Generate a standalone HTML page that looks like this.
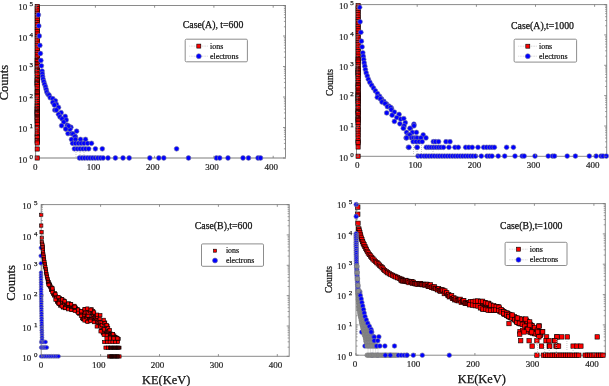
<!DOCTYPE html><html><head><meta charset="utf-8"><style>html,body{margin:0;padding:0;background:#fff;width:609px;height:386px;overflow:hidden}svg{display:block;will-change:transform}</style></head><body>
<svg width="609" height="386" viewBox="0 0 609 386" font-family='"Liberation Serif", serif'>
<rect width="609" height="386" fill="#fff"/>
<rect x="35.6" y="5.5" width="249.9" height="152.5" fill="none" stroke="#8a8a8a" stroke-width="1.0"/>
<clipPath id="cTL"><rect x="32.6" y="2.5" width="255.9" height="158.5"/></clipPath>
<g clip-path="url(#cTL)">
<line x1="35.6" y1="158" x2="285.5" y2="158" stroke="#bdbdbd" stroke-width="2"/>
<rect x="35.1" y="4.3" width="4.2" height="4.2" fill="#f00" stroke="#000" stroke-width="0.6"/>
<rect x="35.1" y="6.6" width="4.2" height="4.2" fill="#f00" stroke="#000" stroke-width="0.6"/>
<rect x="35.1" y="8.9" width="4.2" height="4.2" fill="#f00" stroke="#000" stroke-width="0.6"/>
<rect x="35.1" y="11.2" width="4.2" height="4.2" fill="#f00" stroke="#000" stroke-width="0.6"/>
<rect x="35.1" y="13.5" width="4.2" height="4.2" fill="#f00" stroke="#000" stroke-width="0.6"/>
<rect x="35.1" y="15.8" width="4.2" height="4.2" fill="#f00" stroke="#000" stroke-width="0.6"/>
<rect x="35.1" y="18.1" width="4.2" height="4.2" fill="#f00" stroke="#000" stroke-width="0.6"/>
<rect x="35.1" y="20.4" width="4.2" height="4.2" fill="#f00" stroke="#000" stroke-width="0.6"/>
<rect x="35.1" y="22.7" width="4.2" height="4.2" fill="#f00" stroke="#000" stroke-width="0.6"/>
<rect x="35.1" y="25.0" width="4.2" height="4.2" fill="#f00" stroke="#000" stroke-width="0.6"/>
<rect x="35.1" y="27.3" width="4.2" height="4.2" fill="#f00" stroke="#000" stroke-width="0.6"/>
<rect x="35.1" y="29.6" width="4.2" height="4.2" fill="#f00" stroke="#000" stroke-width="0.6"/>
<rect x="35.1" y="31.9" width="4.2" height="4.2" fill="#f00" stroke="#000" stroke-width="0.6"/>
<rect x="35.1" y="34.2" width="4.2" height="4.2" fill="#f00" stroke="#000" stroke-width="0.6"/>
<rect x="35.1" y="36.5" width="4.2" height="4.2" fill="#f00" stroke="#000" stroke-width="0.6"/>
<rect x="35.1" y="38.8" width="4.2" height="4.2" fill="#f00" stroke="#000" stroke-width="0.6"/>
<rect x="35.1" y="41.1" width="4.2" height="4.2" fill="#f00" stroke="#000" stroke-width="0.6"/>
<rect x="35.1" y="43.4" width="4.2" height="4.2" fill="#f00" stroke="#000" stroke-width="0.6"/>
<rect x="35.1" y="45.7" width="4.2" height="4.2" fill="#f00" stroke="#000" stroke-width="0.6"/>
<rect x="35.1" y="48.0" width="4.2" height="4.2" fill="#f00" stroke="#000" stroke-width="0.6"/>
<rect x="35.1" y="50.3" width="4.2" height="4.2" fill="#f00" stroke="#000" stroke-width="0.6"/>
<rect x="35.1" y="52.6" width="4.2" height="4.2" fill="#f00" stroke="#000" stroke-width="0.6"/>
<rect x="35.1" y="54.9" width="4.2" height="4.2" fill="#f00" stroke="#000" stroke-width="0.6"/>
<rect x="35.1" y="57.2" width="4.2" height="4.2" fill="#f00" stroke="#000" stroke-width="0.6"/>
<rect x="35.1" y="58.3" width="4.2" height="4.2" fill="#f00" stroke="#000" stroke-width="0.6"/>
<rect x="35.1" y="59.7" width="4.2" height="4.2" fill="#f00" stroke="#000" stroke-width="0.6"/>
<rect x="35.1" y="61.5" width="4.2" height="4.2" fill="#f00" stroke="#000" stroke-width="0.6"/>
<rect x="35.1" y="62.9" width="4.2" height="4.2" fill="#f00" stroke="#000" stroke-width="0.6"/>
<rect x="35.1" y="64.3" width="4.2" height="4.2" fill="#f00" stroke="#000" stroke-width="0.6"/>
<rect x="35.1" y="66.1" width="4.2" height="4.2" fill="#f00" stroke="#000" stroke-width="0.6"/>
<rect x="35.1" y="67.9" width="4.2" height="4.2" fill="#f00" stroke="#000" stroke-width="0.6"/>
<rect x="35.1" y="68.8" width="4.2" height="4.2" fill="#f00" stroke="#000" stroke-width="0.6"/>
<rect x="35.1" y="69.7" width="4.2" height="4.2" fill="#f00" stroke="#000" stroke-width="0.6"/>
<rect x="35.1" y="71.5" width="4.2" height="4.2" fill="#f00" stroke="#000" stroke-width="0.6"/>
<rect x="35.1" y="72.9" width="4.2" height="4.2" fill="#f00" stroke="#000" stroke-width="0.6"/>
<rect x="35.1" y="75.3" width="4.2" height="4.2" fill="#f00" stroke="#000" stroke-width="0.6"/>
<rect x="35.1" y="77.1" width="4.2" height="4.2" fill="#f00" stroke="#000" stroke-width="0.6"/>
<rect x="35.1" y="78.0" width="4.2" height="4.2" fill="#f00" stroke="#000" stroke-width="0.6"/>
<rect x="35.1" y="78.7" width="4.2" height="4.2" fill="#f00" stroke="#000" stroke-width="0.6"/>
<rect x="35.1" y="80.1" width="4.2" height="4.2" fill="#f00" stroke="#000" stroke-width="0.6"/>
<rect x="35.1" y="81.2" width="4.2" height="4.2" fill="#f00" stroke="#000" stroke-width="0.6"/>
<rect x="35.1" y="82.1" width="4.2" height="4.2" fill="#f00" stroke="#000" stroke-width="0.6"/>
<rect x="35.1" y="82.8" width="4.2" height="4.2" fill="#f00" stroke="#000" stroke-width="0.6"/>
<rect x="35.1" y="84.6" width="4.2" height="4.2" fill="#f00" stroke="#000" stroke-width="0.6"/>
<rect x="35.1" y="87.0" width="4.2" height="4.2" fill="#f00" stroke="#000" stroke-width="0.6"/>
<rect x="35.1" y="89.4" width="4.2" height="4.2" fill="#f00" stroke="#000" stroke-width="0.6"/>
<rect x="35.1" y="90.1" width="4.2" height="4.2" fill="#f00" stroke="#000" stroke-width="0.6"/>
<rect x="35.1" y="91.9" width="4.2" height="4.2" fill="#f00" stroke="#000" stroke-width="0.6"/>
<rect x="35.1" y="93.3" width="4.2" height="4.2" fill="#f00" stroke="#000" stroke-width="0.6"/>
<rect x="35.1" y="94.7" width="4.2" height="4.2" fill="#f00" stroke="#000" stroke-width="0.6"/>
<rect x="35.1" y="97.1" width="4.2" height="4.2" fill="#f00" stroke="#000" stroke-width="0.6"/>
<rect x="35.1" y="99.5" width="4.2" height="4.2" fill="#f00" stroke="#000" stroke-width="0.6"/>
<rect x="35.1" y="101.3" width="4.2" height="4.2" fill="#f00" stroke="#000" stroke-width="0.6"/>
<rect x="35.1" y="103.7" width="4.2" height="4.2" fill="#f00" stroke="#000" stroke-width="0.6"/>
<rect x="35.1" y="104.6" width="4.2" height="4.2" fill="#f00" stroke="#000" stroke-width="0.6"/>
<rect x="35.1" y="106.4" width="4.2" height="4.2" fill="#f00" stroke="#000" stroke-width="0.6"/>
<rect x="35.1" y="107.1" width="4.2" height="4.2" fill="#f00" stroke="#000" stroke-width="0.6"/>
<rect x="35.1" y="108.9" width="4.2" height="4.2" fill="#f00" stroke="#000" stroke-width="0.6"/>
<rect x="35.1" y="109.6" width="4.2" height="4.2" fill="#f00" stroke="#000" stroke-width="0.6"/>
<rect x="35.1" y="110.3" width="4.2" height="4.2" fill="#f00" stroke="#000" stroke-width="0.6"/>
<rect x="35.1" y="111.0" width="4.2" height="4.2" fill="#f00" stroke="#000" stroke-width="0.6"/>
<rect x="35.1" y="111.9" width="4.2" height="4.2" fill="#f00" stroke="#000" stroke-width="0.6"/>
<rect x="35.1" y="112.8" width="4.2" height="4.2" fill="#f00" stroke="#000" stroke-width="0.6"/>
<rect x="35.1" y="114.6" width="4.2" height="4.2" fill="#f00" stroke="#000" stroke-width="0.6"/>
<rect x="35.1" y="115.3" width="4.2" height="4.2" fill="#f00" stroke="#000" stroke-width="0.6"/>
<rect x="35.1" y="116.7" width="4.2" height="4.2" fill="#f00" stroke="#000" stroke-width="0.6"/>
<rect x="35.1" y="117.8" width="4.2" height="4.2" fill="#f00" stroke="#000" stroke-width="0.6"/>
<rect x="35.1" y="119.2" width="4.2" height="4.2" fill="#f00" stroke="#000" stroke-width="0.6"/>
<rect x="35.1" y="121.0" width="4.2" height="4.2" fill="#f00" stroke="#000" stroke-width="0.6"/>
<rect x="35.1" y="122.6" width="4.2" height="4.2" fill="#f00" stroke="#000" stroke-width="0.6"/>
<rect x="35.1" y="125.4" width="4.2" height="4.2" fill="#f00" stroke="#000" stroke-width="0.6"/>
<rect x="35.1" y="127.0" width="4.2" height="4.2" fill="#f00" stroke="#000" stroke-width="0.6"/>
<rect x="35.1" y="130.0" width="4.2" height="4.2" fill="#f00" stroke="#000" stroke-width="0.6"/>
<rect x="35.1" y="132.0" width="4.2" height="4.2" fill="#f00" stroke="#000" stroke-width="0.6"/>
<rect x="35.1" y="134.4" width="4.2" height="4.2" fill="#f00" stroke="#000" stroke-width="0.6"/>
<rect x="35.1" y="135.6" width="4.2" height="4.2" fill="#f00" stroke="#000" stroke-width="0.6"/>
<rect x="35.1" y="138.6" width="4.2" height="4.2" fill="#f00" stroke="#000" stroke-width="0.6"/>
<rect x="35.1" y="139.8" width="4.2" height="4.2" fill="#f00" stroke="#000" stroke-width="0.6"/>
<rect x="35.1" y="140.9" width="4.2" height="4.2" fill="#f00" stroke="#000" stroke-width="0.6"/>
<rect x="35.1" y="146.9" width="4.2" height="4.2" fill="#f00" stroke="#000" stroke-width="0.6"/>
<rect x="35.1" y="155.9" width="4.2" height="4.2" fill="#f00" stroke="#000" stroke-width="0.6"/>
<line x1="76" y1="144" x2="76" y2="157" stroke="#bbb" stroke-width="0.8" stroke-dasharray="1,1"/>
<line x1="80" y1="144" x2="80" y2="157" stroke="#bbb" stroke-width="0.8" stroke-dasharray="1,1"/>
<line x1="84" y1="144" x2="84" y2="157" stroke="#bbb" stroke-width="0.8" stroke-dasharray="1,1"/>
<circle cx="38.4" cy="14.9" r="2.4" fill="#00f" stroke="#7878a0" stroke-width="0.6"/>
<circle cx="38.8" cy="25.9" r="2.4" fill="#00f" stroke="#7878a0" stroke-width="0.6"/>
<circle cx="39.3" cy="36.0" r="2.4" fill="#00f" stroke="#7878a0" stroke-width="0.6"/>
<circle cx="39.9" cy="45.4" r="2.4" fill="#00f" stroke="#7878a0" stroke-width="0.6"/>
<circle cx="40.4" cy="53.5" r="2.4" fill="#00f" stroke="#7878a0" stroke-width="0.6"/>
<circle cx="40.9" cy="60.5" r="2.4" fill="#00f" stroke="#7878a0" stroke-width="0.6"/>
<circle cx="41.4" cy="65.8" r="2.4" fill="#00f" stroke="#7878a0" stroke-width="0.6"/>
<circle cx="42.1" cy="71.1" r="2.4" fill="#00f" stroke="#7878a0" stroke-width="0.6"/>
<circle cx="42.3" cy="73.8" r="2.4" fill="#00f" stroke="#7878a0" stroke-width="0.6"/>
<circle cx="42.6" cy="76.5" r="2.4" fill="#00f" stroke="#7878a0" stroke-width="0.6"/>
<circle cx="43.1" cy="79.1" r="2.4" fill="#00f" stroke="#7878a0" stroke-width="0.6"/>
<circle cx="43.8" cy="81.7" r="2.4" fill="#00f" stroke="#7878a0" stroke-width="0.6"/>
<circle cx="44.6" cy="84.3" r="2.4" fill="#00f" stroke="#7878a0" stroke-width="0.6"/>
<circle cx="45.5" cy="86.9" r="2.4" fill="#00f" stroke="#7878a0" stroke-width="0.6"/>
<circle cx="46.2" cy="89.5" r="2.4" fill="#00f" stroke="#7878a0" stroke-width="0.6"/>
<circle cx="46.8" cy="92.1" r="2.4" fill="#00f" stroke="#7878a0" stroke-width="0.6"/>
<circle cx="48.0" cy="94.3" r="2.4" fill="#00f" stroke="#7878a0" stroke-width="0.6"/>
<circle cx="49.1" cy="95.1" r="2.4" fill="#00f" stroke="#7878a0" stroke-width="0.6"/>
<circle cx="50.2" cy="97.7" r="2.4" fill="#00f" stroke="#7878a0" stroke-width="0.6"/>
<circle cx="52.8" cy="98.7" r="2.4" fill="#00f" stroke="#7878a0" stroke-width="0.6"/>
<circle cx="55.4" cy="100.8" r="2.4" fill="#00f" stroke="#7878a0" stroke-width="0.6"/>
<circle cx="52.8" cy="102.4" r="2.4" fill="#00f" stroke="#7878a0" stroke-width="0.6"/>
<circle cx="56.4" cy="104.4" r="2.4" fill="#00f" stroke="#7878a0" stroke-width="0.6"/>
<circle cx="54.3" cy="105.0" r="2.4" fill="#00f" stroke="#7878a0" stroke-width="0.6"/>
<circle cx="58.5" cy="107.5" r="2.4" fill="#00f" stroke="#7878a0" stroke-width="0.6"/>
<circle cx="54.8" cy="110.1" r="2.4" fill="#00f" stroke="#7878a0" stroke-width="0.6"/>
<circle cx="56.4" cy="110.1" r="2.4" fill="#00f" stroke="#7878a0" stroke-width="0.6"/>
<circle cx="61.1" cy="112.7" r="2.4" fill="#00f" stroke="#7878a0" stroke-width="0.6"/>
<circle cx="58.5" cy="114.3" r="2.4" fill="#00f" stroke="#7878a0" stroke-width="0.6"/>
<circle cx="60.0" cy="116.9" r="2.4" fill="#00f" stroke="#7878a0" stroke-width="0.6"/>
<circle cx="65.2" cy="116.4" r="2.4" fill="#00f" stroke="#7878a0" stroke-width="0.6"/>
<circle cx="62.1" cy="118.9" r="2.4" fill="#00f" stroke="#7878a0" stroke-width="0.6"/>
<circle cx="66.2" cy="120.0" r="2.4" fill="#00f" stroke="#7878a0" stroke-width="0.6"/>
<circle cx="63.7" cy="122.1" r="2.4" fill="#00f" stroke="#7878a0" stroke-width="0.6"/>
<circle cx="61.6" cy="125.7" r="2.4" fill="#00f" stroke="#7878a0" stroke-width="0.6"/>
<circle cx="67.3" cy="125.2" r="2.4" fill="#00f" stroke="#7878a0" stroke-width="0.6"/>
<circle cx="70.9" cy="127.2" r="2.4" fill="#00f" stroke="#7878a0" stroke-width="0.6"/>
<circle cx="66.2" cy="128.8" r="2.4" fill="#00f" stroke="#7878a0" stroke-width="0.6"/>
<circle cx="69.9" cy="129.3" r="2.4" fill="#00f" stroke="#7878a0" stroke-width="0.6"/>
<circle cx="76.6" cy="131.2" r="2.4" fill="#00f" stroke="#7878a0" stroke-width="0.6"/>
<circle cx="68.6" cy="126.1" r="2.4" fill="#00f" stroke="#7878a0" stroke-width="0.6"/>
<circle cx="65.7" cy="129.0" r="2.4" fill="#00f" stroke="#7878a0" stroke-width="0.6"/>
<circle cx="68.0" cy="133.6" r="2.4" fill="#00f" stroke="#7878a0" stroke-width="0.6"/>
<circle cx="71.5" cy="133.6" r="2.4" fill="#00f" stroke="#7878a0" stroke-width="0.6"/>
<circle cx="73.0" cy="133.9" r="2.4" fill="#00f" stroke="#7878a0" stroke-width="0.6"/>
<circle cx="75.3" cy="136.7" r="2.4" fill="#00f" stroke="#7878a0" stroke-width="0.6"/>
<circle cx="75.0" cy="136.5" r="2.4" fill="#00f" stroke="#7878a0" stroke-width="0.6"/>
<circle cx="71.5" cy="139.4" r="2.4" fill="#00f" stroke="#7878a0" stroke-width="0.6"/>
<circle cx="75.5" cy="139.4" r="2.4" fill="#00f" stroke="#7878a0" stroke-width="0.6"/>
<circle cx="80.5" cy="139.4" r="2.4" fill="#00f" stroke="#7878a0" stroke-width="0.6"/>
<circle cx="85.5" cy="139.4" r="2.4" fill="#00f" stroke="#7878a0" stroke-width="0.6"/>
<circle cx="72.6" cy="143.3" r="2.4" fill="#00f" stroke="#7878a0" stroke-width="0.6"/>
<circle cx="75.5" cy="143.3" r="2.4" fill="#00f" stroke="#7878a0" stroke-width="0.6"/>
<circle cx="78.4" cy="143.3" r="2.4" fill="#00f" stroke="#7878a0" stroke-width="0.6"/>
<circle cx="81.2" cy="143.3" r="2.4" fill="#00f" stroke="#7878a0" stroke-width="0.6"/>
<circle cx="84.1" cy="143.3" r="2.4" fill="#00f" stroke="#7878a0" stroke-width="0.6"/>
<circle cx="87.6" cy="143.3" r="2.4" fill="#00f" stroke="#7878a0" stroke-width="0.6"/>
<circle cx="91.5" cy="143.3" r="2.4" fill="#00f" stroke="#7878a0" stroke-width="0.6"/>
<circle cx="74.4" cy="148.8" r="2.4" fill="#00f" stroke="#7878a0" stroke-width="0.6"/>
<circle cx="77.3" cy="148.8" r="2.4" fill="#00f" stroke="#7878a0" stroke-width="0.6"/>
<circle cx="80.1" cy="148.8" r="2.4" fill="#00f" stroke="#7878a0" stroke-width="0.6"/>
<circle cx="83.0" cy="148.8" r="2.4" fill="#00f" stroke="#7878a0" stroke-width="0.6"/>
<circle cx="85.8" cy="148.8" r="2.4" fill="#00f" stroke="#7878a0" stroke-width="0.6"/>
<circle cx="88.7" cy="148.8" r="2.4" fill="#00f" stroke="#7878a0" stroke-width="0.6"/>
<circle cx="95.4" cy="148.8" r="2.4" fill="#00f" stroke="#7878a0" stroke-width="0.6"/>
<circle cx="102.3" cy="148.8" r="2.4" fill="#00f" stroke="#7878a0" stroke-width="0.6"/>
<circle cx="176.6" cy="148.8" r="2.4" fill="#00f" stroke="#7878a0" stroke-width="0.6"/>
<circle cx="79.5" cy="158.0" r="2.4" fill="#00f" stroke="#7878a0" stroke-width="0.6"/>
<circle cx="82.1" cy="158.0" r="2.4" fill="#00f" stroke="#7878a0" stroke-width="0.6"/>
<circle cx="84.7" cy="158.0" r="2.4" fill="#00f" stroke="#7878a0" stroke-width="0.6"/>
<circle cx="87.4" cy="158.0" r="2.4" fill="#00f" stroke="#7878a0" stroke-width="0.6"/>
<circle cx="90.0" cy="158.0" r="2.4" fill="#00f" stroke="#7878a0" stroke-width="0.6"/>
<circle cx="92.6" cy="158.0" r="2.4" fill="#00f" stroke="#7878a0" stroke-width="0.6"/>
<circle cx="95.2" cy="158.0" r="2.4" fill="#00f" stroke="#7878a0" stroke-width="0.6"/>
<circle cx="97.9" cy="158.0" r="2.4" fill="#00f" stroke="#7878a0" stroke-width="0.6"/>
<circle cx="100.5" cy="158.0" r="2.4" fill="#00f" stroke="#7878a0" stroke-width="0.6"/>
<circle cx="103.1" cy="158.0" r="2.4" fill="#00f" stroke="#7878a0" stroke-width="0.6"/>
<circle cx="108.0" cy="158.0" r="2.4" fill="#00f" stroke="#7878a0" stroke-width="0.6"/>
<circle cx="115.4" cy="158.0" r="2.4" fill="#00f" stroke="#7878a0" stroke-width="0.6"/>
<circle cx="123.0" cy="158.0" r="2.4" fill="#00f" stroke="#7878a0" stroke-width="0.6"/>
<circle cx="129.2" cy="158.0" r="2.4" fill="#00f" stroke="#7878a0" stroke-width="0.6"/>
<circle cx="149.8" cy="158.0" r="2.4" fill="#00f" stroke="#7878a0" stroke-width="0.6"/>
<circle cx="158.8" cy="158.0" r="2.4" fill="#00f" stroke="#7878a0" stroke-width="0.6"/>
<circle cx="163.8" cy="158.0" r="2.4" fill="#00f" stroke="#7878a0" stroke-width="0.6"/>
<circle cx="188.5" cy="158.0" r="2.4" fill="#00f" stroke="#7878a0" stroke-width="0.6"/>
<circle cx="216.4" cy="158.0" r="2.4" fill="#00f" stroke="#7878a0" stroke-width="0.6"/>
<circle cx="219.7" cy="158.0" r="2.4" fill="#00f" stroke="#7878a0" stroke-width="0.6"/>
<circle cx="228.0" cy="158.0" r="2.4" fill="#00f" stroke="#7878a0" stroke-width="0.6"/>
<circle cx="243.0" cy="158.0" r="2.4" fill="#00f" stroke="#7878a0" stroke-width="0.6"/>
<circle cx="248.5" cy="158.0" r="2.4" fill="#00f" stroke="#7878a0" stroke-width="0.6"/>
<circle cx="258.0" cy="158.0" r="2.4" fill="#00f" stroke="#7878a0" stroke-width="0.6"/>
<circle cx="260.5" cy="158.0" r="2.4" fill="#00f" stroke="#7878a0" stroke-width="0.6"/>
</g>
<line x1="36.1" y1="158" x2="36.1" y2="155.8" stroke="#777" stroke-width="0.8"/>
<line x1="36.1" y1="5.5" x2="36.1" y2="7.7" stroke="#777" stroke-width="0.8"/>
<text x="35.3" y="170.0" font-size="9" text-anchor="middle" fill="#222" stroke="#222" stroke-width="0.2">0</text>
<line x1="95.4" y1="158" x2="95.4" y2="155.8" stroke="#777" stroke-width="0.8"/>
<line x1="95.4" y1="5.5" x2="95.4" y2="7.7" stroke="#777" stroke-width="0.8"/>
<text x="93.5" y="170.0" font-size="9" text-anchor="middle" fill="#222" stroke="#222" stroke-width="0.2">100</text>
<line x1="154.6" y1="158" x2="154.6" y2="155.8" stroke="#777" stroke-width="0.8"/>
<line x1="154.6" y1="5.5" x2="154.6" y2="7.7" stroke="#777" stroke-width="0.8"/>
<text x="152.7" y="170.0" font-size="9" text-anchor="middle" fill="#222" stroke="#222" stroke-width="0.2">200</text>
<line x1="213.9" y1="158" x2="213.9" y2="155.8" stroke="#777" stroke-width="0.8"/>
<line x1="213.9" y1="5.5" x2="213.9" y2="7.7" stroke="#777" stroke-width="0.8"/>
<text x="212.0" y="170.0" font-size="9" text-anchor="middle" fill="#222" stroke="#222" stroke-width="0.2">300</text>
<line x1="273.2" y1="158" x2="273.2" y2="155.8" stroke="#777" stroke-width="0.8"/>
<line x1="273.2" y1="5.5" x2="273.2" y2="7.7" stroke="#777" stroke-width="0.8"/>
<text x="271.3" y="170.0" font-size="9" text-anchor="middle" fill="#222" stroke="#222" stroke-width="0.2">400</text>
<text x="27.2" y="162.8" font-size="9" text-anchor="end" fill="#222" stroke="#222" stroke-width="0.18">10</text>
<text x="29.4" y="158.7" font-size="7.0" fill="#222" stroke="#222" stroke-width="0.25">0</text>
<line x1="285.5" y1="148.8" x2="283.9" y2="148.8" stroke="#777" stroke-width="0.7"/>
<line x1="35.6" y1="148.8" x2="37.2" y2="148.8" stroke="#777" stroke-width="0.7"/>
<line x1="285.5" y1="143.4" x2="283.9" y2="143.4" stroke="#777" stroke-width="0.7"/>
<line x1="35.6" y1="143.4" x2="37.2" y2="143.4" stroke="#777" stroke-width="0.7"/>
<line x1="285.5" y1="139.6" x2="283.9" y2="139.6" stroke="#777" stroke-width="0.7"/>
<line x1="35.6" y1="139.6" x2="37.2" y2="139.6" stroke="#777" stroke-width="0.7"/>
<line x1="285.5" y1="136.7" x2="283.9" y2="136.7" stroke="#777" stroke-width="0.7"/>
<line x1="35.6" y1="136.7" x2="37.2" y2="136.7" stroke="#777" stroke-width="0.7"/>
<line x1="285.5" y1="134.3" x2="283.9" y2="134.3" stroke="#777" stroke-width="0.7"/>
<line x1="35.6" y1="134.3" x2="37.2" y2="134.3" stroke="#777" stroke-width="0.7"/>
<line x1="285.5" y1="132.2" x2="283.9" y2="132.2" stroke="#777" stroke-width="0.7"/>
<line x1="35.6" y1="132.2" x2="37.2" y2="132.2" stroke="#777" stroke-width="0.7"/>
<line x1="285.5" y1="130.5" x2="283.9" y2="130.5" stroke="#777" stroke-width="0.7"/>
<line x1="35.6" y1="130.5" x2="37.2" y2="130.5" stroke="#777" stroke-width="0.7"/>
<line x1="285.5" y1="128.9" x2="283.9" y2="128.9" stroke="#777" stroke-width="0.7"/>
<line x1="35.6" y1="128.9" x2="37.2" y2="128.9" stroke="#777" stroke-width="0.7"/>
<line x1="285.5" y1="158.0" x2="283.0" y2="158.0" stroke="#777" stroke-width="0.8"/>
<line x1="35.6" y1="158.0" x2="38.1" y2="158.0" stroke="#777" stroke-width="0.8"/>
<text x="27.2" y="132.3" font-size="9" text-anchor="end" fill="#222" stroke="#222" stroke-width="0.18">10</text>
<text x="29.4" y="128.2" font-size="7.0" fill="#222" stroke="#222" stroke-width="0.25">1</text>
<line x1="285.5" y1="118.3" x2="283.9" y2="118.3" stroke="#777" stroke-width="0.7"/>
<line x1="35.6" y1="118.3" x2="37.2" y2="118.3" stroke="#777" stroke-width="0.7"/>
<line x1="285.5" y1="112.9" x2="283.9" y2="112.9" stroke="#777" stroke-width="0.7"/>
<line x1="35.6" y1="112.9" x2="37.2" y2="112.9" stroke="#777" stroke-width="0.7"/>
<line x1="285.5" y1="109.1" x2="283.9" y2="109.1" stroke="#777" stroke-width="0.7"/>
<line x1="35.6" y1="109.1" x2="37.2" y2="109.1" stroke="#777" stroke-width="0.7"/>
<line x1="285.5" y1="106.2" x2="283.9" y2="106.2" stroke="#777" stroke-width="0.7"/>
<line x1="35.6" y1="106.2" x2="37.2" y2="106.2" stroke="#777" stroke-width="0.7"/>
<line x1="285.5" y1="103.8" x2="283.9" y2="103.8" stroke="#777" stroke-width="0.7"/>
<line x1="35.6" y1="103.8" x2="37.2" y2="103.8" stroke="#777" stroke-width="0.7"/>
<line x1="285.5" y1="101.7" x2="283.9" y2="101.7" stroke="#777" stroke-width="0.7"/>
<line x1="35.6" y1="101.7" x2="37.2" y2="101.7" stroke="#777" stroke-width="0.7"/>
<line x1="285.5" y1="100.0" x2="283.9" y2="100.0" stroke="#777" stroke-width="0.7"/>
<line x1="35.6" y1="100.0" x2="37.2" y2="100.0" stroke="#777" stroke-width="0.7"/>
<line x1="285.5" y1="98.4" x2="283.9" y2="98.4" stroke="#777" stroke-width="0.7"/>
<line x1="35.6" y1="98.4" x2="37.2" y2="98.4" stroke="#777" stroke-width="0.7"/>
<line x1="285.5" y1="127.5" x2="283.0" y2="127.5" stroke="#777" stroke-width="0.8"/>
<line x1="35.6" y1="127.5" x2="38.1" y2="127.5" stroke="#777" stroke-width="0.8"/>
<text x="27.2" y="101.8" font-size="9" text-anchor="end" fill="#222" stroke="#222" stroke-width="0.18">10</text>
<text x="29.4" y="97.7" font-size="7.0" fill="#222" stroke="#222" stroke-width="0.25">2</text>
<line x1="285.5" y1="87.8" x2="283.9" y2="87.8" stroke="#777" stroke-width="0.7"/>
<line x1="35.6" y1="87.8" x2="37.2" y2="87.8" stroke="#777" stroke-width="0.7"/>
<line x1="285.5" y1="82.4" x2="283.9" y2="82.4" stroke="#777" stroke-width="0.7"/>
<line x1="35.6" y1="82.4" x2="37.2" y2="82.4" stroke="#777" stroke-width="0.7"/>
<line x1="285.5" y1="78.6" x2="283.9" y2="78.6" stroke="#777" stroke-width="0.7"/>
<line x1="35.6" y1="78.6" x2="37.2" y2="78.6" stroke="#777" stroke-width="0.7"/>
<line x1="285.5" y1="75.7" x2="283.9" y2="75.7" stroke="#777" stroke-width="0.7"/>
<line x1="35.6" y1="75.7" x2="37.2" y2="75.7" stroke="#777" stroke-width="0.7"/>
<line x1="285.5" y1="73.3" x2="283.9" y2="73.3" stroke="#777" stroke-width="0.7"/>
<line x1="35.6" y1="73.3" x2="37.2" y2="73.3" stroke="#777" stroke-width="0.7"/>
<line x1="285.5" y1="71.2" x2="283.9" y2="71.2" stroke="#777" stroke-width="0.7"/>
<line x1="35.6" y1="71.2" x2="37.2" y2="71.2" stroke="#777" stroke-width="0.7"/>
<line x1="285.5" y1="69.5" x2="283.9" y2="69.5" stroke="#777" stroke-width="0.7"/>
<line x1="35.6" y1="69.5" x2="37.2" y2="69.5" stroke="#777" stroke-width="0.7"/>
<line x1="285.5" y1="67.9" x2="283.9" y2="67.9" stroke="#777" stroke-width="0.7"/>
<line x1="35.6" y1="67.9" x2="37.2" y2="67.9" stroke="#777" stroke-width="0.7"/>
<line x1="285.5" y1="97.0" x2="283.0" y2="97.0" stroke="#777" stroke-width="0.8"/>
<line x1="35.6" y1="97.0" x2="38.1" y2="97.0" stroke="#777" stroke-width="0.8"/>
<text x="27.2" y="71.3" font-size="9" text-anchor="end" fill="#222" stroke="#222" stroke-width="0.18">10</text>
<text x="29.4" y="67.2" font-size="7.0" fill="#222" stroke="#222" stroke-width="0.25">3</text>
<line x1="285.5" y1="57.3" x2="283.9" y2="57.3" stroke="#777" stroke-width="0.7"/>
<line x1="35.6" y1="57.3" x2="37.2" y2="57.3" stroke="#777" stroke-width="0.7"/>
<line x1="285.5" y1="51.9" x2="283.9" y2="51.9" stroke="#777" stroke-width="0.7"/>
<line x1="35.6" y1="51.9" x2="37.2" y2="51.9" stroke="#777" stroke-width="0.7"/>
<line x1="285.5" y1="48.1" x2="283.9" y2="48.1" stroke="#777" stroke-width="0.7"/>
<line x1="35.6" y1="48.1" x2="37.2" y2="48.1" stroke="#777" stroke-width="0.7"/>
<line x1="285.5" y1="45.2" x2="283.9" y2="45.2" stroke="#777" stroke-width="0.7"/>
<line x1="35.6" y1="45.2" x2="37.2" y2="45.2" stroke="#777" stroke-width="0.7"/>
<line x1="285.5" y1="42.8" x2="283.9" y2="42.8" stroke="#777" stroke-width="0.7"/>
<line x1="35.6" y1="42.8" x2="37.2" y2="42.8" stroke="#777" stroke-width="0.7"/>
<line x1="285.5" y1="40.7" x2="283.9" y2="40.7" stroke="#777" stroke-width="0.7"/>
<line x1="35.6" y1="40.7" x2="37.2" y2="40.7" stroke="#777" stroke-width="0.7"/>
<line x1="285.5" y1="39.0" x2="283.9" y2="39.0" stroke="#777" stroke-width="0.7"/>
<line x1="35.6" y1="39.0" x2="37.2" y2="39.0" stroke="#777" stroke-width="0.7"/>
<line x1="285.5" y1="37.4" x2="283.9" y2="37.4" stroke="#777" stroke-width="0.7"/>
<line x1="35.6" y1="37.4" x2="37.2" y2="37.4" stroke="#777" stroke-width="0.7"/>
<line x1="285.5" y1="66.5" x2="283.0" y2="66.5" stroke="#777" stroke-width="0.8"/>
<line x1="35.6" y1="66.5" x2="38.1" y2="66.5" stroke="#777" stroke-width="0.8"/>
<text x="27.2" y="40.8" font-size="9" text-anchor="end" fill="#222" stroke="#222" stroke-width="0.18">10</text>
<text x="29.4" y="36.7" font-size="7.0" fill="#222" stroke="#222" stroke-width="0.25">4</text>
<line x1="285.5" y1="26.8" x2="283.9" y2="26.8" stroke="#777" stroke-width="0.7"/>
<line x1="35.6" y1="26.8" x2="37.2" y2="26.8" stroke="#777" stroke-width="0.7"/>
<line x1="285.5" y1="21.4" x2="283.9" y2="21.4" stroke="#777" stroke-width="0.7"/>
<line x1="35.6" y1="21.4" x2="37.2" y2="21.4" stroke="#777" stroke-width="0.7"/>
<line x1="285.5" y1="17.6" x2="283.9" y2="17.6" stroke="#777" stroke-width="0.7"/>
<line x1="35.6" y1="17.6" x2="37.2" y2="17.6" stroke="#777" stroke-width="0.7"/>
<line x1="285.5" y1="14.7" x2="283.9" y2="14.7" stroke="#777" stroke-width="0.7"/>
<line x1="35.6" y1="14.7" x2="37.2" y2="14.7" stroke="#777" stroke-width="0.7"/>
<line x1="285.5" y1="12.3" x2="283.9" y2="12.3" stroke="#777" stroke-width="0.7"/>
<line x1="35.6" y1="12.3" x2="37.2" y2="12.3" stroke="#777" stroke-width="0.7"/>
<line x1="285.5" y1="10.2" x2="283.9" y2="10.2" stroke="#777" stroke-width="0.7"/>
<line x1="35.6" y1="10.2" x2="37.2" y2="10.2" stroke="#777" stroke-width="0.7"/>
<line x1="285.5" y1="8.5" x2="283.9" y2="8.5" stroke="#777" stroke-width="0.7"/>
<line x1="35.6" y1="8.5" x2="37.2" y2="8.5" stroke="#777" stroke-width="0.7"/>
<line x1="285.5" y1="6.9" x2="283.9" y2="6.9" stroke="#777" stroke-width="0.7"/>
<line x1="35.6" y1="6.9" x2="37.2" y2="6.9" stroke="#777" stroke-width="0.7"/>
<line x1="285.5" y1="36.0" x2="283.0" y2="36.0" stroke="#777" stroke-width="0.8"/>
<line x1="35.6" y1="36.0" x2="38.1" y2="36.0" stroke="#777" stroke-width="0.8"/>
<text x="27.2" y="10.3" font-size="9" text-anchor="end" fill="#222" stroke="#222" stroke-width="0.18">10</text>
<text x="29.4" y="6.2" font-size="7.0" fill="#222" stroke="#222" stroke-width="0.25">5</text>
<line x1="285.5" y1="5.5" x2="283.0" y2="5.5" stroke="#777" stroke-width="0.8"/>
<line x1="35.6" y1="5.5" x2="38.1" y2="5.5" stroke="#777" stroke-width="0.8"/>
<text transform="translate(3.7,82.5) rotate(-90)" font-size="12.5" text-anchor="middle" dominant-baseline="central" fill="#111" stroke="#111" stroke-width="0.25">Counts</text>
<text x="182.8" y="28.4" font-size="9.8" fill="#111" stroke="#111" stroke-width="0.25">Case(A), t=600</text>
<rect x="185.2" y="39.2" width="62.2" height="22.6" rx="1.2" fill="#fff" stroke="#808080" stroke-width="0.9"/>
<line x1="189.3" y1="46.1" x2="207.8" y2="46.1" stroke="#bbb" stroke-width="0.7" stroke-dasharray="0.8,0.8"/>
<line x1="189.3" y1="56.2" x2="207.8" y2="56.2" stroke="#bbb" stroke-width="0.7" stroke-dasharray="0.8,0.8"/>
<rect x="196.8" y="44.1" width="4.0" height="4.0" fill="#f00" stroke="#000" stroke-width="0.6"/>
<circle cx="198.8" cy="56.2" r="2.5" fill="#00f" stroke="#7878a0" stroke-width="0.6"/>
<text x="210.1" y="48.7" font-size="7.9" fill="#111" stroke="#111" stroke-width="0.2">ions</text>
<text x="210.1" y="58.8" font-size="7.9" fill="#111" stroke="#111" stroke-width="0.2">electrons</text>
<rect x="356.5" y="4.6" width="250.2" height="151.7" fill="none" stroke="#8a8a8a" stroke-width="1.0"/>
<clipPath id="cTR"><rect x="353.5" y="1.5999999999999996" width="256.2" height="157.7"/></clipPath>
<g clip-path="url(#cTR)">
<rect x="356.0" y="3.5" width="4.2" height="4.2" fill="#f00" stroke="#000" stroke-width="0.6"/>
<rect x="356.0" y="5.8" width="4.2" height="4.2" fill="#f00" stroke="#000" stroke-width="0.6"/>
<rect x="356.0" y="8.1" width="4.2" height="4.2" fill="#f00" stroke="#000" stroke-width="0.6"/>
<rect x="356.0" y="10.4" width="4.2" height="4.2" fill="#f00" stroke="#000" stroke-width="0.6"/>
<rect x="356.0" y="12.7" width="4.2" height="4.2" fill="#f00" stroke="#000" stroke-width="0.6"/>
<rect x="356.0" y="15.0" width="4.2" height="4.2" fill="#f00" stroke="#000" stroke-width="0.6"/>
<rect x="356.0" y="17.3" width="4.2" height="4.2" fill="#f00" stroke="#000" stroke-width="0.6"/>
<rect x="356.0" y="19.6" width="4.2" height="4.2" fill="#f00" stroke="#000" stroke-width="0.6"/>
<rect x="356.0" y="21.9" width="4.2" height="4.2" fill="#f00" stroke="#000" stroke-width="0.6"/>
<rect x="356.0" y="24.2" width="4.2" height="4.2" fill="#f00" stroke="#000" stroke-width="0.6"/>
<rect x="356.0" y="26.5" width="4.2" height="4.2" fill="#f00" stroke="#000" stroke-width="0.6"/>
<rect x="356.0" y="28.8" width="4.2" height="4.2" fill="#f00" stroke="#000" stroke-width="0.6"/>
<rect x="356.0" y="31.1" width="4.2" height="4.2" fill="#f00" stroke="#000" stroke-width="0.6"/>
<rect x="356.0" y="33.4" width="4.2" height="4.2" fill="#f00" stroke="#000" stroke-width="0.6"/>
<rect x="356.0" y="35.7" width="4.2" height="4.2" fill="#f00" stroke="#000" stroke-width="0.6"/>
<rect x="356.0" y="38.0" width="4.2" height="4.2" fill="#f00" stroke="#000" stroke-width="0.6"/>
<rect x="356.0" y="40.3" width="4.2" height="4.2" fill="#f00" stroke="#000" stroke-width="0.6"/>
<rect x="356.0" y="42.6" width="4.2" height="4.2" fill="#f00" stroke="#000" stroke-width="0.6"/>
<rect x="356.0" y="44.9" width="4.2" height="4.2" fill="#f00" stroke="#000" stroke-width="0.6"/>
<rect x="356.0" y="47.2" width="4.2" height="4.2" fill="#f00" stroke="#000" stroke-width="0.6"/>
<rect x="356.0" y="49.5" width="4.2" height="4.2" fill="#f00" stroke="#000" stroke-width="0.6"/>
<rect x="356.0" y="51.8" width="4.2" height="4.2" fill="#f00" stroke="#000" stroke-width="0.6"/>
<rect x="356.0" y="54.1" width="4.2" height="4.2" fill="#f00" stroke="#000" stroke-width="0.6"/>
<rect x="356.0" y="56.4" width="4.2" height="4.2" fill="#f00" stroke="#000" stroke-width="0.6"/>
<rect x="356.0" y="57.5" width="4.2" height="4.2" fill="#f00" stroke="#000" stroke-width="0.6"/>
<rect x="356.0" y="58.9" width="4.2" height="4.2" fill="#f00" stroke="#000" stroke-width="0.6"/>
<rect x="356.0" y="60.0" width="4.2" height="4.2" fill="#f00" stroke="#000" stroke-width="0.6"/>
<rect x="356.0" y="62.4" width="4.2" height="4.2" fill="#f00" stroke="#000" stroke-width="0.6"/>
<rect x="356.0" y="64.2" width="4.2" height="4.2" fill="#f00" stroke="#000" stroke-width="0.6"/>
<rect x="356.0" y="66.6" width="4.2" height="4.2" fill="#f00" stroke="#000" stroke-width="0.6"/>
<rect x="356.0" y="67.7" width="4.2" height="4.2" fill="#f00" stroke="#000" stroke-width="0.6"/>
<rect x="356.0" y="68.6" width="4.2" height="4.2" fill="#f00" stroke="#000" stroke-width="0.6"/>
<rect x="356.0" y="70.0" width="4.2" height="4.2" fill="#f00" stroke="#000" stroke-width="0.6"/>
<rect x="356.0" y="70.7" width="4.2" height="4.2" fill="#f00" stroke="#000" stroke-width="0.6"/>
<rect x="356.0" y="71.8" width="4.2" height="4.2" fill="#f00" stroke="#000" stroke-width="0.6"/>
<rect x="356.0" y="73.2" width="4.2" height="4.2" fill="#f00" stroke="#000" stroke-width="0.6"/>
<rect x="356.0" y="74.3" width="4.2" height="4.2" fill="#f00" stroke="#000" stroke-width="0.6"/>
<rect x="356.0" y="76.7" width="4.2" height="4.2" fill="#f00" stroke="#000" stroke-width="0.6"/>
<rect x="356.0" y="78.1" width="4.2" height="4.2" fill="#f00" stroke="#000" stroke-width="0.6"/>
<rect x="356.0" y="80.5" width="4.2" height="4.2" fill="#f00" stroke="#000" stroke-width="0.6"/>
<rect x="356.0" y="82.3" width="4.2" height="4.2" fill="#f00" stroke="#000" stroke-width="0.6"/>
<rect x="356.0" y="83.2" width="4.2" height="4.2" fill="#f00" stroke="#000" stroke-width="0.6"/>
<rect x="356.0" y="85.0" width="4.2" height="4.2" fill="#f00" stroke="#000" stroke-width="0.6"/>
<rect x="356.0" y="85.7" width="4.2" height="4.2" fill="#f00" stroke="#000" stroke-width="0.6"/>
<rect x="356.0" y="88.1" width="4.2" height="4.2" fill="#f00" stroke="#000" stroke-width="0.6"/>
<rect x="356.0" y="89.9" width="4.2" height="4.2" fill="#f00" stroke="#000" stroke-width="0.6"/>
<rect x="356.0" y="90.8" width="4.2" height="4.2" fill="#f00" stroke="#000" stroke-width="0.6"/>
<rect x="356.0" y="92.2" width="4.2" height="4.2" fill="#f00" stroke="#000" stroke-width="0.6"/>
<rect x="356.0" y="93.3" width="4.2" height="4.2" fill="#f00" stroke="#000" stroke-width="0.6"/>
<rect x="356.0" y="94.2" width="4.2" height="4.2" fill="#f00" stroke="#000" stroke-width="0.6"/>
<rect x="356.0" y="95.3" width="4.2" height="4.2" fill="#f00" stroke="#000" stroke-width="0.6"/>
<rect x="356.0" y="96.2" width="4.2" height="4.2" fill="#f00" stroke="#000" stroke-width="0.6"/>
<rect x="356.0" y="96.9" width="4.2" height="4.2" fill="#f00" stroke="#000" stroke-width="0.6"/>
<rect x="356.0" y="98.7" width="4.2" height="4.2" fill="#f00" stroke="#000" stroke-width="0.6"/>
<rect x="356.0" y="99.6" width="4.2" height="4.2" fill="#f00" stroke="#000" stroke-width="0.6"/>
<rect x="356.0" y="100.3" width="4.2" height="4.2" fill="#f00" stroke="#000" stroke-width="0.6"/>
<rect x="356.0" y="102.1" width="4.2" height="4.2" fill="#f00" stroke="#000" stroke-width="0.6"/>
<rect x="356.0" y="104.5" width="4.2" height="4.2" fill="#f00" stroke="#000" stroke-width="0.6"/>
<rect x="356.0" y="105.6" width="4.2" height="4.2" fill="#f00" stroke="#000" stroke-width="0.6"/>
<rect x="356.0" y="108.0" width="4.2" height="4.2" fill="#f00" stroke="#000" stroke-width="0.6"/>
<rect x="356.0" y="109.4" width="4.2" height="4.2" fill="#f00" stroke="#000" stroke-width="0.6"/>
<rect x="356.0" y="110.1" width="4.2" height="4.2" fill="#f00" stroke="#000" stroke-width="0.6"/>
<rect x="356.0" y="110.8" width="4.2" height="4.2" fill="#f00" stroke="#000" stroke-width="0.6"/>
<rect x="356.0" y="111.5" width="4.2" height="4.2" fill="#f00" stroke="#000" stroke-width="0.6"/>
<rect x="356.0" y="113.9" width="4.2" height="4.2" fill="#f00" stroke="#000" stroke-width="0.6"/>
<rect x="356.0" y="115.7" width="4.2" height="4.2" fill="#f00" stroke="#000" stroke-width="0.6"/>
<rect x="356.0" y="116.6" width="4.2" height="4.2" fill="#f00" stroke="#000" stroke-width="0.6"/>
<rect x="356.0" y="117.3" width="4.2" height="4.2" fill="#f00" stroke="#000" stroke-width="0.6"/>
<rect x="356.0" y="118.7" width="4.2" height="4.2" fill="#f00" stroke="#000" stroke-width="0.6"/>
<rect x="356.0" y="120.1" width="4.2" height="4.2" fill="#f00" stroke="#000" stroke-width="0.6"/>
<rect x="356.0" y="121.3" width="4.2" height="4.2" fill="#f00" stroke="#000" stroke-width="0.6"/>
<rect x="356.0" y="124.3" width="4.2" height="4.2" fill="#f00" stroke="#000" stroke-width="0.6"/>
<rect x="356.0" y="126.7" width="4.2" height="4.2" fill="#f00" stroke="#000" stroke-width="0.6"/>
<rect x="356.0" y="128.3" width="4.2" height="4.2" fill="#f00" stroke="#000" stroke-width="0.6"/>
<rect x="356.0" y="131.1" width="4.2" height="4.2" fill="#f00" stroke="#000" stroke-width="0.6"/>
<rect x="356.0" y="133.1" width="4.2" height="4.2" fill="#f00" stroke="#000" stroke-width="0.6"/>
<rect x="356.0" y="135.9" width="4.2" height="4.2" fill="#f00" stroke="#000" stroke-width="0.6"/>
<rect x="356.0" y="138.7" width="4.2" height="4.2" fill="#f00" stroke="#000" stroke-width="0.6"/>
<rect x="356.0" y="140.3" width="4.2" height="4.2" fill="#f00" stroke="#000" stroke-width="0.6"/>
<rect x="356.0" y="140.7" width="4.2" height="4.2" fill="#f00" stroke="#000" stroke-width="0.6"/>
<rect x="356.0" y="144.9" width="4.2" height="4.2" fill="#f00" stroke="#000" stroke-width="0.6"/>
<rect x="356.0" y="154.1" width="4.2" height="4.2" fill="#f00" stroke="#000" stroke-width="0.6"/>
<line x1="413.5" y1="143" x2="413.5" y2="155" stroke="#bbb" stroke-width="0.8" stroke-dasharray="1,1"/>
<line x1="417" y1="143" x2="417" y2="155" stroke="#bbb" stroke-width="0.8" stroke-dasharray="1,1"/>
<line x1="421.5" y1="143" x2="421.5" y2="155" stroke="#bbb" stroke-width="0.8" stroke-dasharray="1,1"/>
<line x1="433" y1="143" x2="433" y2="155" stroke="#bbb" stroke-width="0.8" stroke-dasharray="1,1"/>
<circle cx="359.6" cy="7.3" r="2.4" fill="#00f" stroke="#7878a0" stroke-width="0.6"/>
<circle cx="360.1" cy="21.8" r="2.4" fill="#00f" stroke="#7878a0" stroke-width="0.6"/>
<circle cx="360.9" cy="32.3" r="2.4" fill="#00f" stroke="#7878a0" stroke-width="0.6"/>
<circle cx="361.4" cy="41.2" r="2.4" fill="#00f" stroke="#7878a0" stroke-width="0.6"/>
<circle cx="362.1" cy="46.9" r="2.4" fill="#00f" stroke="#7878a0" stroke-width="0.6"/>
<circle cx="362.8" cy="52.8" r="2.4" fill="#00f" stroke="#7878a0" stroke-width="0.6"/>
<circle cx="363.2" cy="56.2" r="2.4" fill="#00f" stroke="#7878a0" stroke-width="0.6"/>
<circle cx="363.7" cy="59.5" r="2.4" fill="#00f" stroke="#7878a0" stroke-width="0.6"/>
<circle cx="364.2" cy="62.9" r="2.4" fill="#00f" stroke="#7878a0" stroke-width="0.6"/>
<circle cx="364.8" cy="66.2" r="2.4" fill="#00f" stroke="#7878a0" stroke-width="0.6"/>
<circle cx="365.4" cy="69.6" r="2.4" fill="#00f" stroke="#7878a0" stroke-width="0.6"/>
<circle cx="366.2" cy="72.9" r="2.4" fill="#00f" stroke="#7878a0" stroke-width="0.6"/>
<circle cx="367.3" cy="76.1" r="2.4" fill="#00f" stroke="#7878a0" stroke-width="0.6"/>
<circle cx="368.4" cy="79.3" r="2.4" fill="#00f" stroke="#7878a0" stroke-width="0.6"/>
<circle cx="369.9" cy="82.4" r="2.4" fill="#00f" stroke="#7878a0" stroke-width="0.6"/>
<circle cx="371.7" cy="85.3" r="2.4" fill="#00f" stroke="#7878a0" stroke-width="0.6"/>
<circle cx="373.5" cy="88.1" r="2.4" fill="#00f" stroke="#7878a0" stroke-width="0.6"/>
<circle cx="375.4" cy="90.9" r="2.4" fill="#00f" stroke="#7878a0" stroke-width="0.6"/>
<circle cx="377.5" cy="93.6" r="2.4" fill="#00f" stroke="#7878a0" stroke-width="0.6"/>
<circle cx="379.6" cy="96.3" r="2.4" fill="#00f" stroke="#7878a0" stroke-width="0.6"/>
<circle cx="381.6" cy="99.0" r="2.4" fill="#00f" stroke="#7878a0" stroke-width="0.6"/>
<circle cx="383.9" cy="101.5" r="2.4" fill="#00f" stroke="#7878a0" stroke-width="0.6"/>
<circle cx="386.4" cy="103.9" r="2.4" fill="#00f" stroke="#7878a0" stroke-width="0.6"/>
<circle cx="388.9" cy="106.1" r="2.4" fill="#00f" stroke="#7878a0" stroke-width="0.6"/>
<circle cx="391.5" cy="108.3" r="2.4" fill="#00f" stroke="#7878a0" stroke-width="0.6"/>
<circle cx="377.3" cy="97.3" r="2.4" fill="#00f" stroke="#7878a0" stroke-width="0.6"/>
<circle cx="380.4" cy="98.9" r="2.4" fill="#00f" stroke="#7878a0" stroke-width="0.6"/>
<circle cx="382.0" cy="102.0" r="2.4" fill="#00f" stroke="#7878a0" stroke-width="0.6"/>
<circle cx="385.1" cy="103.6" r="2.4" fill="#00f" stroke="#7878a0" stroke-width="0.6"/>
<circle cx="387.4" cy="106.7" r="2.4" fill="#00f" stroke="#7878a0" stroke-width="0.6"/>
<circle cx="390.6" cy="107.4" r="2.4" fill="#00f" stroke="#7878a0" stroke-width="0.6"/>
<circle cx="391.3" cy="109.8" r="2.4" fill="#00f" stroke="#7878a0" stroke-width="0.6"/>
<circle cx="386.7" cy="112.9" r="2.4" fill="#00f" stroke="#7878a0" stroke-width="0.6"/>
<circle cx="394.4" cy="112.1" r="2.4" fill="#00f" stroke="#7878a0" stroke-width="0.6"/>
<circle cx="392.1" cy="115.2" r="2.4" fill="#00f" stroke="#7878a0" stroke-width="0.6"/>
<circle cx="399.1" cy="114.4" r="2.4" fill="#00f" stroke="#7878a0" stroke-width="0.6"/>
<circle cx="396.8" cy="117.6" r="2.4" fill="#00f" stroke="#7878a0" stroke-width="0.6"/>
<circle cx="394.4" cy="121.4" r="2.4" fill="#00f" stroke="#7878a0" stroke-width="0.6"/>
<circle cx="400.7" cy="119.1" r="2.4" fill="#00f" stroke="#7878a0" stroke-width="0.6"/>
<circle cx="403.8" cy="118.6" r="2.4" fill="#00f" stroke="#7878a0" stroke-width="0.6"/>
<circle cx="399.9" cy="123.8" r="2.4" fill="#00f" stroke="#7878a0" stroke-width="0.6"/>
<circle cx="405.3" cy="122.7" r="2.4" fill="#00f" stroke="#7878a0" stroke-width="0.6"/>
<circle cx="413.9" cy="124.2" r="2.4" fill="#00f" stroke="#7878a0" stroke-width="0.6"/>
<circle cx="403.8" cy="127.7" r="2.4" fill="#00f" stroke="#7878a0" stroke-width="0.6"/>
<circle cx="410.5" cy="128.4" r="2.4" fill="#00f" stroke="#7878a0" stroke-width="0.6"/>
<circle cx="404.1" cy="125.8" r="2.4" fill="#00f" stroke="#7878a0" stroke-width="0.6"/>
<circle cx="414.0" cy="125.8" r="2.4" fill="#00f" stroke="#7878a0" stroke-width="0.6"/>
<circle cx="403.3" cy="128.3" r="2.4" fill="#00f" stroke="#7878a0" stroke-width="0.6"/>
<circle cx="409.9" cy="128.3" r="2.4" fill="#00f" stroke="#7878a0" stroke-width="0.6"/>
<circle cx="406.6" cy="132.4" r="2.4" fill="#00f" stroke="#7878a0" stroke-width="0.6"/>
<circle cx="412.3" cy="132.4" r="2.4" fill="#00f" stroke="#7878a0" stroke-width="0.6"/>
<circle cx="416.4" cy="132.4" r="2.4" fill="#00f" stroke="#7878a0" stroke-width="0.6"/>
<circle cx="408.4" cy="134.9" r="2.4" fill="#00f" stroke="#7878a0" stroke-width="0.6"/>
<circle cx="409.9" cy="134.9" r="2.4" fill="#00f" stroke="#7878a0" stroke-width="0.6"/>
<circle cx="423.2" cy="134.9" r="2.4" fill="#00f" stroke="#7878a0" stroke-width="0.6"/>
<circle cx="406.1" cy="137.9" r="2.4" fill="#00f" stroke="#7878a0" stroke-width="0.6"/>
<circle cx="406.6" cy="137.9" r="2.4" fill="#00f" stroke="#7878a0" stroke-width="0.6"/>
<circle cx="411.5" cy="137.9" r="2.4" fill="#00f" stroke="#7878a0" stroke-width="0.6"/>
<circle cx="413.5" cy="137.9" r="2.4" fill="#00f" stroke="#7878a0" stroke-width="0.6"/>
<circle cx="415.7" cy="137.9" r="2.4" fill="#00f" stroke="#7878a0" stroke-width="0.6"/>
<circle cx="417.2" cy="137.9" r="2.4" fill="#00f" stroke="#7878a0" stroke-width="0.6"/>
<circle cx="420.9" cy="137.9" r="2.4" fill="#00f" stroke="#7878a0" stroke-width="0.6"/>
<circle cx="426.0" cy="137.9" r="2.4" fill="#00f" stroke="#7878a0" stroke-width="0.6"/>
<circle cx="413.1" cy="141.7" r="2.4" fill="#00f" stroke="#7878a0" stroke-width="0.6"/>
<circle cx="416.1" cy="141.7" r="2.4" fill="#00f" stroke="#7878a0" stroke-width="0.6"/>
<circle cx="419.2" cy="141.7" r="2.4" fill="#00f" stroke="#7878a0" stroke-width="0.6"/>
<circle cx="422.2" cy="141.7" r="2.4" fill="#00f" stroke="#7878a0" stroke-width="0.6"/>
<circle cx="433.3" cy="141.7" r="2.4" fill="#00f" stroke="#7878a0" stroke-width="0.6"/>
<circle cx="435.5" cy="141.7" r="2.4" fill="#00f" stroke="#7878a0" stroke-width="0.6"/>
<circle cx="438.6" cy="141.7" r="2.4" fill="#00f" stroke="#7878a0" stroke-width="0.6"/>
<circle cx="446.0" cy="141.7" r="2.4" fill="#00f" stroke="#7878a0" stroke-width="0.6"/>
<circle cx="450.0" cy="141.7" r="2.4" fill="#00f" stroke="#7878a0" stroke-width="0.6"/>
<circle cx="408.4" cy="147.3" r="2.4" fill="#00f" stroke="#7878a0" stroke-width="0.6"/>
<circle cx="409.0" cy="147.3" r="2.4" fill="#00f" stroke="#7878a0" stroke-width="0.6"/>
<circle cx="417.0" cy="147.3" r="2.4" fill="#00f" stroke="#7878a0" stroke-width="0.6"/>
<circle cx="417.2" cy="147.3" r="2.4" fill="#00f" stroke="#7878a0" stroke-width="0.6"/>
<circle cx="426.3" cy="147.3" r="2.4" fill="#00f" stroke="#7878a0" stroke-width="0.6"/>
<circle cx="428.8" cy="147.3" r="2.4" fill="#00f" stroke="#7878a0" stroke-width="0.6"/>
<circle cx="431.2" cy="147.3" r="2.4" fill="#00f" stroke="#7878a0" stroke-width="0.6"/>
<circle cx="433.7" cy="147.3" r="2.4" fill="#00f" stroke="#7878a0" stroke-width="0.6"/>
<circle cx="436.1" cy="147.3" r="2.4" fill="#00f" stroke="#7878a0" stroke-width="0.6"/>
<circle cx="438.6" cy="147.3" r="2.4" fill="#00f" stroke="#7878a0" stroke-width="0.6"/>
<circle cx="441.0" cy="147.3" r="2.4" fill="#00f" stroke="#7878a0" stroke-width="0.6"/>
<circle cx="443.5" cy="147.3" r="2.4" fill="#00f" stroke="#7878a0" stroke-width="0.6"/>
<circle cx="448.9" cy="147.3" r="2.4" fill="#00f" stroke="#7878a0" stroke-width="0.6"/>
<circle cx="455.0" cy="147.3" r="2.4" fill="#00f" stroke="#7878a0" stroke-width="0.6"/>
<circle cx="458.3" cy="147.3" r="2.4" fill="#00f" stroke="#7878a0" stroke-width="0.6"/>
<circle cx="465.7" cy="147.3" r="2.4" fill="#00f" stroke="#7878a0" stroke-width="0.6"/>
<circle cx="468.8" cy="147.3" r="2.4" fill="#00f" stroke="#7878a0" stroke-width="0.6"/>
<circle cx="472.2" cy="147.3" r="2.4" fill="#00f" stroke="#7878a0" stroke-width="0.6"/>
<circle cx="478.0" cy="147.3" r="2.4" fill="#00f" stroke="#7878a0" stroke-width="0.6"/>
<circle cx="483.7" cy="147.3" r="2.4" fill="#00f" stroke="#7878a0" stroke-width="0.6"/>
<circle cx="486.6" cy="147.3" r="2.4" fill="#00f" stroke="#7878a0" stroke-width="0.6"/>
<circle cx="489.5" cy="147.3" r="2.4" fill="#00f" stroke="#7878a0" stroke-width="0.6"/>
<circle cx="492.0" cy="147.3" r="2.4" fill="#00f" stroke="#7878a0" stroke-width="0.6"/>
<circle cx="494.4" cy="147.3" r="2.4" fill="#00f" stroke="#7878a0" stroke-width="0.6"/>
<circle cx="506.6" cy="147.3" r="2.4" fill="#00f" stroke="#7878a0" stroke-width="0.6"/>
<circle cx="513.4" cy="147.3" r="2.4" fill="#00f" stroke="#7878a0" stroke-width="0.6"/>
<circle cx="418.0" cy="156.1" r="2.4" fill="#00f" stroke="#7878a0" stroke-width="0.6"/>
<circle cx="421.0" cy="156.1" r="2.4" fill="#00f" stroke="#7878a0" stroke-width="0.6"/>
<circle cx="424.0" cy="156.1" r="2.4" fill="#00f" stroke="#7878a0" stroke-width="0.6"/>
<circle cx="426.3" cy="156.1" r="2.4" fill="#00f" stroke="#7878a0" stroke-width="0.6"/>
<circle cx="429.0" cy="156.1" r="2.4" fill="#00f" stroke="#7878a0" stroke-width="0.6"/>
<circle cx="431.6" cy="156.1" r="2.4" fill="#00f" stroke="#7878a0" stroke-width="0.6"/>
<circle cx="434.3" cy="156.1" r="2.4" fill="#00f" stroke="#7878a0" stroke-width="0.6"/>
<circle cx="437.0" cy="156.1" r="2.4" fill="#00f" stroke="#7878a0" stroke-width="0.6"/>
<circle cx="439.4" cy="156.1" r="2.4" fill="#00f" stroke="#7878a0" stroke-width="0.6"/>
<circle cx="442.0" cy="156.1" r="2.4" fill="#00f" stroke="#7878a0" stroke-width="0.6"/>
<circle cx="444.6" cy="156.1" r="2.4" fill="#00f" stroke="#7878a0" stroke-width="0.6"/>
<circle cx="447.2" cy="156.1" r="2.4" fill="#00f" stroke="#7878a0" stroke-width="0.6"/>
<circle cx="449.8" cy="156.1" r="2.4" fill="#00f" stroke="#7878a0" stroke-width="0.6"/>
<circle cx="452.4" cy="156.1" r="2.4" fill="#00f" stroke="#7878a0" stroke-width="0.6"/>
<circle cx="455.0" cy="156.1" r="2.4" fill="#00f" stroke="#7878a0" stroke-width="0.6"/>
<circle cx="457.5" cy="156.1" r="2.4" fill="#00f" stroke="#7878a0" stroke-width="0.6"/>
<circle cx="460.1" cy="156.1" r="2.4" fill="#00f" stroke="#7878a0" stroke-width="0.6"/>
<circle cx="462.6" cy="156.1" r="2.4" fill="#00f" stroke="#7878a0" stroke-width="0.6"/>
<circle cx="465.2" cy="156.1" r="2.4" fill="#00f" stroke="#7878a0" stroke-width="0.6"/>
<circle cx="467.8" cy="156.1" r="2.4" fill="#00f" stroke="#7878a0" stroke-width="0.6"/>
<circle cx="470.4" cy="156.1" r="2.4" fill="#00f" stroke="#7878a0" stroke-width="0.6"/>
<circle cx="472.9" cy="156.1" r="2.4" fill="#00f" stroke="#7878a0" stroke-width="0.6"/>
<circle cx="475.5" cy="156.1" r="2.4" fill="#00f" stroke="#7878a0" stroke-width="0.6"/>
<circle cx="481.3" cy="156.1" r="2.4" fill="#00f" stroke="#7878a0" stroke-width="0.6"/>
<circle cx="487.0" cy="156.1" r="2.4" fill="#00f" stroke="#7878a0" stroke-width="0.6"/>
<circle cx="489.5" cy="156.1" r="2.4" fill="#00f" stroke="#7878a0" stroke-width="0.6"/>
<circle cx="492.0" cy="156.1" r="2.4" fill="#00f" stroke="#7878a0" stroke-width="0.6"/>
<circle cx="498.2" cy="156.1" r="2.4" fill="#00f" stroke="#7878a0" stroke-width="0.6"/>
<circle cx="504.7" cy="156.1" r="2.4" fill="#00f" stroke="#7878a0" stroke-width="0.6"/>
<circle cx="515.0" cy="156.1" r="2.4" fill="#00f" stroke="#7878a0" stroke-width="0.6"/>
<circle cx="522.2" cy="156.1" r="2.4" fill="#00f" stroke="#7878a0" stroke-width="0.6"/>
<circle cx="524.2" cy="156.1" r="2.4" fill="#00f" stroke="#7878a0" stroke-width="0.6"/>
<circle cx="535.0" cy="156.1" r="2.4" fill="#00f" stroke="#7878a0" stroke-width="0.6"/>
<circle cx="548.2" cy="156.1" r="2.4" fill="#00f" stroke="#7878a0" stroke-width="0.6"/>
<circle cx="552.5" cy="156.1" r="2.4" fill="#00f" stroke="#7878a0" stroke-width="0.6"/>
<circle cx="554.5" cy="156.1" r="2.4" fill="#00f" stroke="#7878a0" stroke-width="0.6"/>
<circle cx="567.2" cy="156.1" r="2.4" fill="#00f" stroke="#7878a0" stroke-width="0.6"/>
<circle cx="575.4" cy="156.1" r="2.4" fill="#00f" stroke="#7878a0" stroke-width="0.6"/>
<circle cx="589.3" cy="156.1" r="2.4" fill="#00f" stroke="#7878a0" stroke-width="0.6"/>
<circle cx="596.1" cy="156.1" r="2.4" fill="#00f" stroke="#7878a0" stroke-width="0.6"/>
<circle cx="601.0" cy="156.1" r="2.4" fill="#00f" stroke="#7878a0" stroke-width="0.6"/>
<circle cx="603.0" cy="156.1" r="2.4" fill="#00f" stroke="#7878a0" stroke-width="0.6"/>
<circle cx="606.3" cy="156.1" r="2.4" fill="#00f" stroke="#7878a0" stroke-width="0.6"/>
</g>
<line x1="358.1" y1="156.3" x2="358.1" y2="154.1" stroke="#777" stroke-width="0.8"/>
<line x1="358.1" y1="4.6" x2="358.1" y2="6.8" stroke="#777" stroke-width="0.8"/>
<text x="357.3" y="168.3" font-size="9" text-anchor="middle" fill="#222" stroke="#222" stroke-width="0.2">0</text>
<line x1="417.2" y1="156.3" x2="417.2" y2="154.1" stroke="#777" stroke-width="0.8"/>
<line x1="417.2" y1="4.6" x2="417.2" y2="6.8" stroke="#777" stroke-width="0.8"/>
<text x="415.3" y="168.3" font-size="9" text-anchor="middle" fill="#222" stroke="#222" stroke-width="0.2">100</text>
<line x1="476.4" y1="156.3" x2="476.4" y2="154.1" stroke="#777" stroke-width="0.8"/>
<line x1="476.4" y1="4.6" x2="476.4" y2="6.8" stroke="#777" stroke-width="0.8"/>
<text x="474.5" y="168.3" font-size="9" text-anchor="middle" fill="#222" stroke="#222" stroke-width="0.2">200</text>
<line x1="535.5" y1="156.3" x2="535.5" y2="154.1" stroke="#777" stroke-width="0.8"/>
<line x1="535.5" y1="4.6" x2="535.5" y2="6.8" stroke="#777" stroke-width="0.8"/>
<text x="533.6" y="168.3" font-size="9" text-anchor="middle" fill="#222" stroke="#222" stroke-width="0.2">300</text>
<line x1="594.6" y1="156.3" x2="594.6" y2="154.1" stroke="#777" stroke-width="0.8"/>
<line x1="594.6" y1="4.6" x2="594.6" y2="6.8" stroke="#777" stroke-width="0.8"/>
<text x="592.7" y="168.3" font-size="9" text-anchor="middle" fill="#222" stroke="#222" stroke-width="0.2">400</text>
<text x="348.1" y="161.1" font-size="9" text-anchor="end" fill="#222" stroke="#222" stroke-width="0.18">10</text>
<text x="350.3" y="157.0" font-size="7.0" fill="#222" stroke="#222" stroke-width="0.25">0</text>
<line x1="606.7" y1="147.2" x2="605.1" y2="147.2" stroke="#777" stroke-width="0.7"/>
<line x1="356.5" y1="147.2" x2="358.1" y2="147.2" stroke="#777" stroke-width="0.7"/>
<line x1="606.7" y1="141.8" x2="605.1" y2="141.8" stroke="#777" stroke-width="0.7"/>
<line x1="356.5" y1="141.8" x2="358.1" y2="141.8" stroke="#777" stroke-width="0.7"/>
<line x1="606.7" y1="138.0" x2="605.1" y2="138.0" stroke="#777" stroke-width="0.7"/>
<line x1="356.5" y1="138.0" x2="358.1" y2="138.0" stroke="#777" stroke-width="0.7"/>
<line x1="606.7" y1="135.1" x2="605.1" y2="135.1" stroke="#777" stroke-width="0.7"/>
<line x1="356.5" y1="135.1" x2="358.1" y2="135.1" stroke="#777" stroke-width="0.7"/>
<line x1="606.7" y1="132.7" x2="605.1" y2="132.7" stroke="#777" stroke-width="0.7"/>
<line x1="356.5" y1="132.7" x2="358.1" y2="132.7" stroke="#777" stroke-width="0.7"/>
<line x1="606.7" y1="130.7" x2="605.1" y2="130.7" stroke="#777" stroke-width="0.7"/>
<line x1="356.5" y1="130.7" x2="358.1" y2="130.7" stroke="#777" stroke-width="0.7"/>
<line x1="606.7" y1="128.9" x2="605.1" y2="128.9" stroke="#777" stroke-width="0.7"/>
<line x1="356.5" y1="128.9" x2="358.1" y2="128.9" stroke="#777" stroke-width="0.7"/>
<line x1="606.7" y1="127.3" x2="605.1" y2="127.3" stroke="#777" stroke-width="0.7"/>
<line x1="356.5" y1="127.3" x2="358.1" y2="127.3" stroke="#777" stroke-width="0.7"/>
<line x1="606.7" y1="156.3" x2="604.2" y2="156.3" stroke="#777" stroke-width="0.8"/>
<line x1="356.5" y1="156.3" x2="359.0" y2="156.3" stroke="#777" stroke-width="0.8"/>
<text x="348.1" y="130.8" font-size="9" text-anchor="end" fill="#222" stroke="#222" stroke-width="0.18">10</text>
<text x="350.3" y="126.7" font-size="7.0" fill="#222" stroke="#222" stroke-width="0.25">1</text>
<line x1="606.7" y1="116.8" x2="605.1" y2="116.8" stroke="#777" stroke-width="0.7"/>
<line x1="356.5" y1="116.8" x2="358.1" y2="116.8" stroke="#777" stroke-width="0.7"/>
<line x1="606.7" y1="111.5" x2="605.1" y2="111.5" stroke="#777" stroke-width="0.7"/>
<line x1="356.5" y1="111.5" x2="358.1" y2="111.5" stroke="#777" stroke-width="0.7"/>
<line x1="606.7" y1="107.7" x2="605.1" y2="107.7" stroke="#777" stroke-width="0.7"/>
<line x1="356.5" y1="107.7" x2="358.1" y2="107.7" stroke="#777" stroke-width="0.7"/>
<line x1="606.7" y1="104.8" x2="605.1" y2="104.8" stroke="#777" stroke-width="0.7"/>
<line x1="356.5" y1="104.8" x2="358.1" y2="104.8" stroke="#777" stroke-width="0.7"/>
<line x1="606.7" y1="102.4" x2="605.1" y2="102.4" stroke="#777" stroke-width="0.7"/>
<line x1="356.5" y1="102.4" x2="358.1" y2="102.4" stroke="#777" stroke-width="0.7"/>
<line x1="606.7" y1="100.3" x2="605.1" y2="100.3" stroke="#777" stroke-width="0.7"/>
<line x1="356.5" y1="100.3" x2="358.1" y2="100.3" stroke="#777" stroke-width="0.7"/>
<line x1="606.7" y1="98.6" x2="605.1" y2="98.6" stroke="#777" stroke-width="0.7"/>
<line x1="356.5" y1="98.6" x2="358.1" y2="98.6" stroke="#777" stroke-width="0.7"/>
<line x1="606.7" y1="97.0" x2="605.1" y2="97.0" stroke="#777" stroke-width="0.7"/>
<line x1="356.5" y1="97.0" x2="358.1" y2="97.0" stroke="#777" stroke-width="0.7"/>
<line x1="606.7" y1="126.0" x2="604.2" y2="126.0" stroke="#777" stroke-width="0.8"/>
<line x1="356.5" y1="126.0" x2="359.0" y2="126.0" stroke="#777" stroke-width="0.8"/>
<text x="348.1" y="100.4" font-size="9" text-anchor="end" fill="#222" stroke="#222" stroke-width="0.18">10</text>
<text x="350.3" y="96.3" font-size="7.0" fill="#222" stroke="#222" stroke-width="0.25">2</text>
<line x1="606.7" y1="86.5" x2="605.1" y2="86.5" stroke="#777" stroke-width="0.7"/>
<line x1="356.5" y1="86.5" x2="358.1" y2="86.5" stroke="#777" stroke-width="0.7"/>
<line x1="606.7" y1="81.1" x2="605.1" y2="81.1" stroke="#777" stroke-width="0.7"/>
<line x1="356.5" y1="81.1" x2="358.1" y2="81.1" stroke="#777" stroke-width="0.7"/>
<line x1="606.7" y1="77.4" x2="605.1" y2="77.4" stroke="#777" stroke-width="0.7"/>
<line x1="356.5" y1="77.4" x2="358.1" y2="77.4" stroke="#777" stroke-width="0.7"/>
<line x1="606.7" y1="74.4" x2="605.1" y2="74.4" stroke="#777" stroke-width="0.7"/>
<line x1="356.5" y1="74.4" x2="358.1" y2="74.4" stroke="#777" stroke-width="0.7"/>
<line x1="606.7" y1="72.0" x2="605.1" y2="72.0" stroke="#777" stroke-width="0.7"/>
<line x1="356.5" y1="72.0" x2="358.1" y2="72.0" stroke="#777" stroke-width="0.7"/>
<line x1="606.7" y1="70.0" x2="605.1" y2="70.0" stroke="#777" stroke-width="0.7"/>
<line x1="356.5" y1="70.0" x2="358.1" y2="70.0" stroke="#777" stroke-width="0.7"/>
<line x1="606.7" y1="68.2" x2="605.1" y2="68.2" stroke="#777" stroke-width="0.7"/>
<line x1="356.5" y1="68.2" x2="358.1" y2="68.2" stroke="#777" stroke-width="0.7"/>
<line x1="606.7" y1="66.7" x2="605.1" y2="66.7" stroke="#777" stroke-width="0.7"/>
<line x1="356.5" y1="66.7" x2="358.1" y2="66.7" stroke="#777" stroke-width="0.7"/>
<line x1="606.7" y1="95.6" x2="604.2" y2="95.6" stroke="#777" stroke-width="0.8"/>
<line x1="356.5" y1="95.6" x2="359.0" y2="95.6" stroke="#777" stroke-width="0.8"/>
<text x="348.1" y="70.1" font-size="9" text-anchor="end" fill="#222" stroke="#222" stroke-width="0.18">10</text>
<text x="350.3" y="66.0" font-size="7.0" fill="#222" stroke="#222" stroke-width="0.25">3</text>
<line x1="606.7" y1="56.1" x2="605.1" y2="56.1" stroke="#777" stroke-width="0.7"/>
<line x1="356.5" y1="56.1" x2="358.1" y2="56.1" stroke="#777" stroke-width="0.7"/>
<line x1="606.7" y1="50.8" x2="605.1" y2="50.8" stroke="#777" stroke-width="0.7"/>
<line x1="356.5" y1="50.8" x2="358.1" y2="50.8" stroke="#777" stroke-width="0.7"/>
<line x1="606.7" y1="47.0" x2="605.1" y2="47.0" stroke="#777" stroke-width="0.7"/>
<line x1="356.5" y1="47.0" x2="358.1" y2="47.0" stroke="#777" stroke-width="0.7"/>
<line x1="606.7" y1="44.1" x2="605.1" y2="44.1" stroke="#777" stroke-width="0.7"/>
<line x1="356.5" y1="44.1" x2="358.1" y2="44.1" stroke="#777" stroke-width="0.7"/>
<line x1="606.7" y1="41.7" x2="605.1" y2="41.7" stroke="#777" stroke-width="0.7"/>
<line x1="356.5" y1="41.7" x2="358.1" y2="41.7" stroke="#777" stroke-width="0.7"/>
<line x1="606.7" y1="39.6" x2="605.1" y2="39.6" stroke="#777" stroke-width="0.7"/>
<line x1="356.5" y1="39.6" x2="358.1" y2="39.6" stroke="#777" stroke-width="0.7"/>
<line x1="606.7" y1="37.9" x2="605.1" y2="37.9" stroke="#777" stroke-width="0.7"/>
<line x1="356.5" y1="37.9" x2="358.1" y2="37.9" stroke="#777" stroke-width="0.7"/>
<line x1="606.7" y1="36.3" x2="605.1" y2="36.3" stroke="#777" stroke-width="0.7"/>
<line x1="356.5" y1="36.3" x2="358.1" y2="36.3" stroke="#777" stroke-width="0.7"/>
<line x1="606.7" y1="65.3" x2="604.2" y2="65.3" stroke="#777" stroke-width="0.8"/>
<line x1="356.5" y1="65.3" x2="359.0" y2="65.3" stroke="#777" stroke-width="0.8"/>
<text x="348.1" y="39.7" font-size="9" text-anchor="end" fill="#222" stroke="#222" stroke-width="0.18">10</text>
<text x="350.3" y="35.6" font-size="7.0" fill="#222" stroke="#222" stroke-width="0.25">4</text>
<line x1="606.7" y1="25.8" x2="605.1" y2="25.8" stroke="#777" stroke-width="0.7"/>
<line x1="356.5" y1="25.8" x2="358.1" y2="25.8" stroke="#777" stroke-width="0.7"/>
<line x1="606.7" y1="20.5" x2="605.1" y2="20.5" stroke="#777" stroke-width="0.7"/>
<line x1="356.5" y1="20.5" x2="358.1" y2="20.5" stroke="#777" stroke-width="0.7"/>
<line x1="606.7" y1="16.7" x2="605.1" y2="16.7" stroke="#777" stroke-width="0.7"/>
<line x1="356.5" y1="16.7" x2="358.1" y2="16.7" stroke="#777" stroke-width="0.7"/>
<line x1="606.7" y1="13.7" x2="605.1" y2="13.7" stroke="#777" stroke-width="0.7"/>
<line x1="356.5" y1="13.7" x2="358.1" y2="13.7" stroke="#777" stroke-width="0.7"/>
<line x1="606.7" y1="11.3" x2="605.1" y2="11.3" stroke="#777" stroke-width="0.7"/>
<line x1="356.5" y1="11.3" x2="358.1" y2="11.3" stroke="#777" stroke-width="0.7"/>
<line x1="606.7" y1="9.3" x2="605.1" y2="9.3" stroke="#777" stroke-width="0.7"/>
<line x1="356.5" y1="9.3" x2="358.1" y2="9.3" stroke="#777" stroke-width="0.7"/>
<line x1="606.7" y1="7.5" x2="605.1" y2="7.5" stroke="#777" stroke-width="0.7"/>
<line x1="356.5" y1="7.5" x2="358.1" y2="7.5" stroke="#777" stroke-width="0.7"/>
<line x1="606.7" y1="6.0" x2="605.1" y2="6.0" stroke="#777" stroke-width="0.7"/>
<line x1="356.5" y1="6.0" x2="358.1" y2="6.0" stroke="#777" stroke-width="0.7"/>
<line x1="606.7" y1="34.9" x2="604.2" y2="34.9" stroke="#777" stroke-width="0.8"/>
<line x1="356.5" y1="34.9" x2="359.0" y2="34.9" stroke="#777" stroke-width="0.8"/>
<text x="348.1" y="9.4" font-size="9" text-anchor="end" fill="#222" stroke="#222" stroke-width="0.18">10</text>
<text x="350.3" y="5.3" font-size="7.0" fill="#222" stroke="#222" stroke-width="0.25">5</text>
<line x1="606.7" y1="4.6" x2="604.2" y2="4.6" stroke="#777" stroke-width="0.8"/>
<line x1="356.5" y1="4.6" x2="359.0" y2="4.6" stroke="#777" stroke-width="0.8"/>
<text transform="translate(329.5,82.5) rotate(-90)" font-size="9.6" text-anchor="middle" dominant-baseline="central" fill="#111" stroke="#111" stroke-width="0.25">Counts</text>
<text x="511" y="29.4" font-size="9.8" fill="#111" stroke="#111" stroke-width="0.25">Case(A),t=1000</text>
<rect x="514.1" y="39.2" width="62.5" height="22.9" rx="1.2" fill="#fff" stroke="#808080" stroke-width="0.9"/>
<line x1="518.3" y1="46.2" x2="536.8" y2="46.2" stroke="#bbb" stroke-width="0.7" stroke-dasharray="0.8,0.8"/>
<line x1="518.3" y1="56.2" x2="536.8" y2="56.2" stroke="#bbb" stroke-width="0.7" stroke-dasharray="0.8,0.8"/>
<rect x="525.8" y="44.2" width="4.0" height="4.0" fill="#f00" stroke="#000" stroke-width="0.6"/>
<circle cx="527.8" cy="56.2" r="2.5" fill="#00f" stroke="#7878a0" stroke-width="0.6"/>
<text x="539.0" y="48.8" font-size="7.9" fill="#111" stroke="#111" stroke-width="0.2">ions</text>
<text x="539.0" y="58.8" font-size="7.9" fill="#111" stroke="#111" stroke-width="0.2">electrons</text>
<rect x="41.2" y="204.6" width="248.0" height="151.7" fill="none" stroke="#8a8a8a" stroke-width="1.0"/>
<clipPath id="cBL"><rect x="38.2" y="201.6" width="254.0" height="157.7"/></clipPath>
<g clip-path="url(#cBL)">
<line x1="41.4" y1="205" x2="41.4" y2="246" stroke="#bbb" stroke-width="0.8" stroke-dasharray="1,1"/>
<circle cx="40.9" cy="247.8" r="1.9" fill="#00f" stroke="#8080a0" stroke-width="0.7"/>
<circle cx="40.7" cy="255.8" r="1.9" fill="#00f" stroke="#8080a0" stroke-width="0.7"/>
<circle cx="40.9" cy="263.3" r="1.9" fill="#00f" stroke="#8080a0" stroke-width="0.7"/>
<circle cx="41.0" cy="272.7" r="1.9" fill="#00f" stroke="#8080a0" stroke-width="0.7"/>
<circle cx="41.0" cy="275.1" r="1.9" fill="#00f" stroke="#8080a0" stroke-width="0.7"/>
<circle cx="41.0" cy="277.5" r="1.9" fill="#00f" stroke="#8080a0" stroke-width="0.7"/>
<circle cx="41.0" cy="279.9" r="1.9" fill="#00f" stroke="#8080a0" stroke-width="0.7"/>
<circle cx="41.1" cy="282.3" r="1.9" fill="#00f" stroke="#8080a0" stroke-width="0.7"/>
<circle cx="41.1" cy="284.7" r="1.9" fill="#00f" stroke="#8080a0" stroke-width="0.7"/>
<circle cx="41.1" cy="287.1" r="1.9" fill="#00f" stroke="#8080a0" stroke-width="0.7"/>
<circle cx="41.1" cy="289.5" r="1.9" fill="#00f" stroke="#8080a0" stroke-width="0.7"/>
<circle cx="41.1" cy="291.9" r="1.9" fill="#00f" stroke="#8080a0" stroke-width="0.7"/>
<circle cx="41.2" cy="294.3" r="1.9" fill="#00f" stroke="#8080a0" stroke-width="0.7"/>
<circle cx="41.2" cy="296.7" r="1.9" fill="#00f" stroke="#8080a0" stroke-width="0.7"/>
<circle cx="41.2" cy="299.1" r="1.9" fill="#00f" stroke="#8080a0" stroke-width="0.7"/>
<circle cx="41.3" cy="301.5" r="1.9" fill="#00f" stroke="#8080a0" stroke-width="0.7"/>
<circle cx="41.3" cy="303.9" r="1.9" fill="#00f" stroke="#8080a0" stroke-width="0.7"/>
<circle cx="41.3" cy="306.3" r="1.9" fill="#00f" stroke="#8080a0" stroke-width="0.7"/>
<circle cx="41.4" cy="308.7" r="1.9" fill="#00f" stroke="#8080a0" stroke-width="0.7"/>
<circle cx="41.4" cy="311.1" r="1.9" fill="#00f" stroke="#8080a0" stroke-width="0.7"/>
<circle cx="41.5" cy="313.5" r="1.9" fill="#00f" stroke="#8080a0" stroke-width="0.7"/>
<circle cx="41.5" cy="315.9" r="1.9" fill="#00f" stroke="#8080a0" stroke-width="0.7"/>
<circle cx="41.6" cy="318.3" r="1.9" fill="#00f" stroke="#8080a0" stroke-width="0.7"/>
<circle cx="41.6" cy="320.7" r="1.9" fill="#00f" stroke="#8080a0" stroke-width="0.7"/>
<circle cx="41.7" cy="323.1" r="1.9" fill="#00f" stroke="#8080a0" stroke-width="0.7"/>
<circle cx="41.7" cy="325.5" r="1.9" fill="#00f" stroke="#8080a0" stroke-width="0.7"/>
<circle cx="41.8" cy="327.9" r="1.9" fill="#00f" stroke="#8080a0" stroke-width="0.7"/>
<circle cx="41.8" cy="330.3" r="1.9" fill="#00f" stroke="#8080a0" stroke-width="0.7"/>
<circle cx="41.9" cy="332.7" r="1.9" fill="#00f" stroke="#8080a0" stroke-width="0.7"/>
<circle cx="42.0" cy="335.1" r="1.9" fill="#00f" stroke="#8080a0" stroke-width="0.7"/>
<circle cx="42.0" cy="337.5" r="1.9" fill="#00f" stroke="#8080a0" stroke-width="0.7"/>
<circle cx="42.1" cy="339.7" r="1.9" fill="#00f" stroke="#8080a0" stroke-width="0.7"/>
<circle cx="41.2" cy="342.0" r="1.9" fill="#00f" stroke="#8080a0" stroke-width="0.7"/>
<circle cx="42.7" cy="342.0" r="1.9" fill="#00f" stroke="#8080a0" stroke-width="0.7"/>
<circle cx="44.1" cy="342.0" r="1.9" fill="#00f" stroke="#8080a0" stroke-width="0.7"/>
<circle cx="45.6" cy="342.0" r="1.9" fill="#00f" stroke="#8080a0" stroke-width="0.7"/>
<circle cx="41.2" cy="347.5" r="1.9" fill="#00f" stroke="#8080a0" stroke-width="0.7"/>
<circle cx="42.6" cy="347.5" r="1.9" fill="#00f" stroke="#8080a0" stroke-width="0.7"/>
<circle cx="44.0" cy="347.5" r="1.9" fill="#00f" stroke="#8080a0" stroke-width="0.7"/>
<circle cx="45.4" cy="347.5" r="1.9" fill="#00f" stroke="#8080a0" stroke-width="0.7"/>
<circle cx="46.8" cy="347.5" r="1.9" fill="#00f" stroke="#8080a0" stroke-width="0.7"/>
<circle cx="41.2" cy="356.3" r="1.9" fill="#00f" stroke="#8080a0" stroke-width="0.7"/>
<circle cx="42.9" cy="356.3" r="1.9" fill="#00f" stroke="#8080a0" stroke-width="0.7"/>
<circle cx="44.7" cy="356.3" r="1.9" fill="#00f" stroke="#8080a0" stroke-width="0.7"/>
<circle cx="46.4" cy="356.3" r="1.9" fill="#00f" stroke="#8080a0" stroke-width="0.7"/>
<circle cx="48.2" cy="356.3" r="1.9" fill="#00f" stroke="#8080a0" stroke-width="0.7"/>
<circle cx="49.9" cy="356.3" r="1.9" fill="#00f" stroke="#8080a0" stroke-width="0.7"/>
<circle cx="51.6" cy="356.3" r="1.9" fill="#00f" stroke="#8080a0" stroke-width="0.7"/>
<circle cx="53.4" cy="356.3" r="1.9" fill="#00f" stroke="#8080a0" stroke-width="0.7"/>
<circle cx="55.1" cy="356.3" r="1.9" fill="#00f" stroke="#8080a0" stroke-width="0.7"/>
<circle cx="56.9" cy="356.3" r="1.9" fill="#00f" stroke="#8080a0" stroke-width="0.7"/>
<circle cx="58.6" cy="356.3" r="1.9" fill="#00f" stroke="#8080a0" stroke-width="0.7"/>
<rect x="39.6" y="213.2" width="3.3" height="3.3" fill="#f00" stroke="#000" stroke-width="0.6"/>
<rect x="39.6" y="223.9" width="3.3" height="3.3" fill="#f00" stroke="#000" stroke-width="0.6"/>
<rect x="39.9" y="230.5" width="3.3" height="3.3" fill="#f00" stroke="#000" stroke-width="0.6"/>
<rect x="40.1" y="236.2" width="3.3" height="3.3" fill="#f00" stroke="#000" stroke-width="0.6"/>
<rect x="40.1" y="240.4" width="3.3" height="3.3" fill="#f00" stroke="#000" stroke-width="0.6"/>
<rect x="40.5" y="242.1" width="3.3" height="3.3" fill="#f00" stroke="#000" stroke-width="0.6"/>
<rect x="40.9" y="243.7" width="3.3" height="3.3" fill="#f00" stroke="#000" stroke-width="0.6"/>
<rect x="41.0" y="245.4" width="3.3" height="3.3" fill="#f00" stroke="#000" stroke-width="0.6"/>
<rect x="41.1" y="247.1" width="3.3" height="3.3" fill="#f00" stroke="#000" stroke-width="0.6"/>
<rect x="41.3" y="248.8" width="3.3" height="3.3" fill="#f00" stroke="#000" stroke-width="0.6"/>
<rect x="41.4" y="250.5" width="3.3" height="3.3" fill="#f00" stroke="#000" stroke-width="0.6"/>
<rect x="41.6" y="252.2" width="3.3" height="3.3" fill="#f00" stroke="#000" stroke-width="0.6"/>
<rect x="41.8" y="253.9" width="3.3" height="3.3" fill="#f00" stroke="#000" stroke-width="0.6"/>
<rect x="42.0" y="255.6" width="3.3" height="3.3" fill="#f00" stroke="#000" stroke-width="0.6"/>
<rect x="42.3" y="257.3" width="3.3" height="3.3" fill="#f00" stroke="#000" stroke-width="0.6"/>
<rect x="42.5" y="258.9" width="3.3" height="3.3" fill="#f00" stroke="#000" stroke-width="0.6"/>
<rect x="42.8" y="260.6" width="3.3" height="3.3" fill="#f00" stroke="#000" stroke-width="0.6"/>
<rect x="43.1" y="262.3" width="3.3" height="3.3" fill="#f00" stroke="#000" stroke-width="0.6"/>
<rect x="43.4" y="264.0" width="3.3" height="3.3" fill="#f00" stroke="#000" stroke-width="0.6"/>
<rect x="43.7" y="265.6" width="3.3" height="3.3" fill="#f00" stroke="#000" stroke-width="0.6"/>
<rect x="44.0" y="267.3" width="3.3" height="3.3" fill="#f00" stroke="#000" stroke-width="0.6"/>
<rect x="44.3" y="269.0" width="3.3" height="3.3" fill="#f00" stroke="#000" stroke-width="0.6"/>
<rect x="44.5" y="270.7" width="3.3" height="3.3" fill="#f00" stroke="#000" stroke-width="0.6"/>
<rect x="44.8" y="272.4" width="3.3" height="3.3" fill="#f00" stroke="#000" stroke-width="0.6"/>
<rect x="45.1" y="274.0" width="3.3" height="3.3" fill="#f00" stroke="#000" stroke-width="0.6"/>
<rect x="45.5" y="275.7" width="3.3" height="3.3" fill="#f00" stroke="#000" stroke-width="0.6"/>
<rect x="45.9" y="277.3" width="3.3" height="3.3" fill="#f00" stroke="#000" stroke-width="0.6"/>
<rect x="46.4" y="279.0" width="3.3" height="3.3" fill="#f00" stroke="#000" stroke-width="0.6"/>
<rect x="47.0" y="280.5" width="3.3" height="3.3" fill="#f00" stroke="#000" stroke-width="0.6"/>
<rect x="47.7" y="282.1" width="3.3" height="3.3" fill="#f00" stroke="#000" stroke-width="0.6"/>
<rect x="48.1" y="283.1" width="3.3" height="3.3" fill="#f00" stroke="#000" stroke-width="0.6"/>
<rect x="46.2" y="280.4" width="3.3" height="3.3" fill="#f00" stroke="#000" stroke-width="0.6"/>
<rect x="46.3" y="280.4" width="3.3" height="3.3" fill="#f00" stroke="#000" stroke-width="0.6"/>
<rect x="47.2" y="282.0" width="3.3" height="3.3" fill="#f00" stroke="#000" stroke-width="0.6"/>
<rect x="46.8" y="282.4" width="3.3" height="3.3" fill="#f00" stroke="#000" stroke-width="0.6"/>
<rect x="47.7" y="283.5" width="3.3" height="3.3" fill="#f00" stroke="#000" stroke-width="0.6"/>
<rect x="48.1" y="284.0" width="3.3" height="3.3" fill="#f00" stroke="#000" stroke-width="0.6"/>
<rect x="48.8" y="285.6" width="3.3" height="3.3" fill="#f00" stroke="#000" stroke-width="0.6"/>
<rect x="48.7" y="284.5" width="3.3" height="3.3" fill="#f00" stroke="#000" stroke-width="0.6"/>
<rect x="49.4" y="288.2" width="3.3" height="3.3" fill="#f00" stroke="#000" stroke-width="0.6"/>
<rect x="49.4" y="287.7" width="3.3" height="3.3" fill="#f00" stroke="#000" stroke-width="0.6"/>
<rect x="50.2" y="286.0" width="3.3" height="3.3" fill="#f00" stroke="#000" stroke-width="0.6"/>
<rect x="50.3" y="288.3" width="3.3" height="3.3" fill="#f00" stroke="#000" stroke-width="0.6"/>
<rect x="50.7" y="286.8" width="3.3" height="3.3" fill="#f00" stroke="#000" stroke-width="0.6"/>
<rect x="51.1" y="288.9" width="3.3" height="3.3" fill="#f00" stroke="#000" stroke-width="0.6"/>
<rect x="51.7" y="292.1" width="3.3" height="3.3" fill="#f00" stroke="#000" stroke-width="0.6"/>
<rect x="51.7" y="292.3" width="3.3" height="3.3" fill="#f00" stroke="#000" stroke-width="0.6"/>
<rect x="52.3" y="293.1" width="3.3" height="3.3" fill="#f00" stroke="#000" stroke-width="0.6"/>
<rect x="52.3" y="293.8" width="3.3" height="3.3" fill="#f00" stroke="#000" stroke-width="0.6"/>
<rect x="53.3" y="291.5" width="3.3" height="3.3" fill="#f00" stroke="#000" stroke-width="0.6"/>
<rect x="52.9" y="292.2" width="3.3" height="3.3" fill="#f00" stroke="#000" stroke-width="0.6"/>
<rect x="54.1" y="294.9" width="3.3" height="3.3" fill="#f00" stroke="#000" stroke-width="0.6"/>
<rect x="53.9" y="294.0" width="3.3" height="3.3" fill="#f00" stroke="#000" stroke-width="0.6"/>
<rect x="54.6" y="295.3" width="3.3" height="3.3" fill="#f00" stroke="#000" stroke-width="0.6"/>
<rect x="54.5" y="296.7" width="3.3" height="3.3" fill="#f00" stroke="#000" stroke-width="0.6"/>
<rect x="55.4" y="299.7" width="3.3" height="3.3" fill="#f00" stroke="#000" stroke-width="0.6"/>
<rect x="55.5" y="299.9" width="3.3" height="3.3" fill="#f00" stroke="#000" stroke-width="0.6"/>
<rect x="56.3" y="301.3" width="3.3" height="3.3" fill="#f00" stroke="#000" stroke-width="0.6"/>
<rect x="56.2" y="295.3" width="3.3" height="3.3" fill="#f00" stroke="#000" stroke-width="0.6"/>
<rect x="57.1" y="302.1" width="3.3" height="3.3" fill="#f00" stroke="#000" stroke-width="0.6"/>
<rect x="57.1" y="299.1" width="3.3" height="3.3" fill="#f00" stroke="#000" stroke-width="0.6"/>
<rect x="57.7" y="297.2" width="3.3" height="3.3" fill="#f00" stroke="#000" stroke-width="0.6"/>
<rect x="57.8" y="300.0" width="3.3" height="3.3" fill="#f00" stroke="#000" stroke-width="0.6"/>
<rect x="58.2" y="296.6" width="3.3" height="3.3" fill="#f00" stroke="#000" stroke-width="0.6"/>
<rect x="58.6" y="303.9" width="3.3" height="3.3" fill="#f00" stroke="#000" stroke-width="0.6"/>
<rect x="58.9" y="302.8" width="3.3" height="3.3" fill="#f00" stroke="#000" stroke-width="0.6"/>
<rect x="59.0" y="297.8" width="3.3" height="3.3" fill="#f00" stroke="#000" stroke-width="0.6"/>
<rect x="59.7" y="303.0" width="3.3" height="3.3" fill="#f00" stroke="#000" stroke-width="0.6"/>
<rect x="60.1" y="297.5" width="3.3" height="3.3" fill="#f00" stroke="#000" stroke-width="0.6"/>
<rect x="60.7" y="298.0" width="3.3" height="3.3" fill="#f00" stroke="#000" stroke-width="0.6"/>
<rect x="60.7" y="300.2" width="3.3" height="3.3" fill="#f00" stroke="#000" stroke-width="0.6"/>
<rect x="61.6" y="305.6" width="3.3" height="3.3" fill="#f00" stroke="#000" stroke-width="0.6"/>
<rect x="61.4" y="305.7" width="3.3" height="3.3" fill="#f00" stroke="#000" stroke-width="0.6"/>
<rect x="62.0" y="299.3" width="3.3" height="3.3" fill="#f00" stroke="#000" stroke-width="0.6"/>
<rect x="62.2" y="298.9" width="3.3" height="3.3" fill="#f00" stroke="#000" stroke-width="0.6"/>
<rect x="62.7" y="302.2" width="3.3" height="3.3" fill="#f00" stroke="#000" stroke-width="0.6"/>
<rect x="62.9" y="300.3" width="3.3" height="3.3" fill="#f00" stroke="#000" stroke-width="0.6"/>
<rect x="63.3" y="305.9" width="3.3" height="3.3" fill="#f00" stroke="#000" stroke-width="0.6"/>
<rect x="63.5" y="306.5" width="3.3" height="3.3" fill="#f00" stroke="#000" stroke-width="0.6"/>
<rect x="64.6" y="302.7" width="3.3" height="3.3" fill="#f00" stroke="#000" stroke-width="0.6"/>
<rect x="64.3" y="303.7" width="3.3" height="3.3" fill="#f00" stroke="#000" stroke-width="0.6"/>
<rect x="65.2" y="304.6" width="3.3" height="3.3" fill="#f00" stroke="#000" stroke-width="0.6"/>
<rect x="65.1" y="304.8" width="3.3" height="3.3" fill="#f00" stroke="#000" stroke-width="0.6"/>
<rect x="66.1" y="304.4" width="3.3" height="3.3" fill="#f00" stroke="#000" stroke-width="0.6"/>
<rect x="65.8" y="305.8" width="3.3" height="3.3" fill="#f00" stroke="#000" stroke-width="0.6"/>
<rect x="66.4" y="303.4" width="3.3" height="3.3" fill="#f00" stroke="#000" stroke-width="0.6"/>
<rect x="66.9" y="304.9" width="3.3" height="3.3" fill="#f00" stroke="#000" stroke-width="0.6"/>
<rect x="67.4" y="301.8" width="3.3" height="3.3" fill="#f00" stroke="#000" stroke-width="0.6"/>
<rect x="67.3" y="305.5" width="3.3" height="3.3" fill="#f00" stroke="#000" stroke-width="0.6"/>
<rect x="67.8" y="305.9" width="3.3" height="3.3" fill="#f00" stroke="#000" stroke-width="0.6"/>
<rect x="68.2" y="302.4" width="3.3" height="3.3" fill="#f00" stroke="#000" stroke-width="0.6"/>
<rect x="68.9" y="305.1" width="3.3" height="3.3" fill="#f00" stroke="#000" stroke-width="0.6"/>
<rect x="69.0" y="304.4" width="3.3" height="3.3" fill="#f00" stroke="#000" stroke-width="0.6"/>
<rect x="69.7" y="306.9" width="3.3" height="3.3" fill="#f00" stroke="#000" stroke-width="0.6"/>
<rect x="69.3" y="302.8" width="3.3" height="3.3" fill="#f00" stroke="#000" stroke-width="0.6"/>
<rect x="70.5" y="308.3" width="3.3" height="3.3" fill="#f00" stroke="#000" stroke-width="0.6"/>
<rect x="70.2" y="305.3" width="3.3" height="3.3" fill="#f00" stroke="#000" stroke-width="0.6"/>
<rect x="71.2" y="304.7" width="3.3" height="3.3" fill="#f00" stroke="#000" stroke-width="0.6"/>
<rect x="71.0" y="304.7" width="3.3" height="3.3" fill="#f00" stroke="#000" stroke-width="0.6"/>
<rect x="71.8" y="306.6" width="3.3" height="3.3" fill="#f00" stroke="#000" stroke-width="0.6"/>
<rect x="71.7" y="305.4" width="3.3" height="3.3" fill="#f00" stroke="#000" stroke-width="0.6"/>
<rect x="72.8" y="304.2" width="3.3" height="3.3" fill="#f00" stroke="#000" stroke-width="0.6"/>
<rect x="72.6" y="307.9" width="3.3" height="3.3" fill="#f00" stroke="#000" stroke-width="0.6"/>
<rect x="73.2" y="305.9" width="3.3" height="3.3" fill="#f00" stroke="#000" stroke-width="0.6"/>
<rect x="73.5" y="306.0" width="3.3" height="3.3" fill="#f00" stroke="#000" stroke-width="0.6"/>
<rect x="73.9" y="307.6" width="3.3" height="3.3" fill="#f00" stroke="#000" stroke-width="0.6"/>
<rect x="74.2" y="306.1" width="3.3" height="3.3" fill="#f00" stroke="#000" stroke-width="0.6"/>
<rect x="74.7" y="307.8" width="3.3" height="3.3" fill="#f00" stroke="#000" stroke-width="0.6"/>
<rect x="75.1" y="308.2" width="3.3" height="3.3" fill="#f00" stroke="#000" stroke-width="0.6"/>
<rect x="75.8" y="307.7" width="3.3" height="3.3" fill="#f00" stroke="#000" stroke-width="0.6"/>
<rect x="75.5" y="309.8" width="3.3" height="3.3" fill="#f00" stroke="#000" stroke-width="0.6"/>
<rect x="76.6" y="309.5" width="3.3" height="3.3" fill="#f00" stroke="#000" stroke-width="0.6"/>
<rect x="76.2" y="308.1" width="3.3" height="3.3" fill="#f00" stroke="#000" stroke-width="0.6"/>
<rect x="77.1" y="309.0" width="3.3" height="3.3" fill="#f00" stroke="#000" stroke-width="0.6"/>
<rect x="77.3" y="311.9" width="3.3" height="3.3" fill="#f00" stroke="#000" stroke-width="0.6"/>
<rect x="77.7" y="309.9" width="3.3" height="3.3" fill="#f00" stroke="#000" stroke-width="0.6"/>
<rect x="78.0" y="311.6" width="3.3" height="3.3" fill="#f00" stroke="#000" stroke-width="0.6"/>
<rect x="78.8" y="310.9" width="3.3" height="3.3" fill="#f00" stroke="#000" stroke-width="0.6"/>
<rect x="78.4" y="310.6" width="3.3" height="3.3" fill="#f00" stroke="#000" stroke-width="0.6"/>
<rect x="79.5" y="310.6" width="3.3" height="3.3" fill="#f00" stroke="#000" stroke-width="0.6"/>
<rect x="79.3" y="311.5" width="3.3" height="3.3" fill="#f00" stroke="#000" stroke-width="0.6"/>
<rect x="80.1" y="311.6" width="3.3" height="3.3" fill="#f00" stroke="#000" stroke-width="0.6"/>
<rect x="80.4" y="309.7" width="3.3" height="3.3" fill="#f00" stroke="#000" stroke-width="0.6"/>
<rect x="80.6" y="316.5" width="3.3" height="3.3" fill="#f00" stroke="#000" stroke-width="0.6"/>
<rect x="81.1" y="316.9" width="3.3" height="3.3" fill="#f00" stroke="#000" stroke-width="0.6"/>
<rect x="81.6" y="317.5" width="3.3" height="3.3" fill="#f00" stroke="#000" stroke-width="0.6"/>
<rect x="81.9" y="310.0" width="3.3" height="3.3" fill="#f00" stroke="#000" stroke-width="0.6"/>
<rect x="82.5" y="317.2" width="3.3" height="3.3" fill="#f00" stroke="#000" stroke-width="0.6"/>
<rect x="82.4" y="313.4" width="3.3" height="3.3" fill="#f00" stroke="#000" stroke-width="0.6"/>
<rect x="83.0" y="311.6" width="3.3" height="3.3" fill="#f00" stroke="#000" stroke-width="0.6"/>
<rect x="82.9" y="308.0" width="3.3" height="3.3" fill="#f00" stroke="#000" stroke-width="0.6"/>
<rect x="83.9" y="310.8" width="3.3" height="3.3" fill="#f00" stroke="#000" stroke-width="0.6"/>
<rect x="84.0" y="307.6" width="3.3" height="3.3" fill="#f00" stroke="#000" stroke-width="0.6"/>
<rect x="84.8" y="316.4" width="3.3" height="3.3" fill="#f00" stroke="#000" stroke-width="0.6"/>
<rect x="84.9" y="319.2" width="3.3" height="3.3" fill="#f00" stroke="#000" stroke-width="0.6"/>
<rect x="85.6" y="314.8" width="3.3" height="3.3" fill="#f00" stroke="#000" stroke-width="0.6"/>
<rect x="85.1" y="317.1" width="3.3" height="3.3" fill="#f00" stroke="#000" stroke-width="0.6"/>
<rect x="85.9" y="310.8" width="3.3" height="3.3" fill="#f00" stroke="#000" stroke-width="0.6"/>
<rect x="86.2" y="314.0" width="3.3" height="3.3" fill="#f00" stroke="#000" stroke-width="0.6"/>
<rect x="86.8" y="319.7" width="3.3" height="3.3" fill="#f00" stroke="#000" stroke-width="0.6"/>
<rect x="86.9" y="311.4" width="3.3" height="3.3" fill="#f00" stroke="#000" stroke-width="0.6"/>
<rect x="87.5" y="318.5" width="3.3" height="3.3" fill="#f00" stroke="#000" stroke-width="0.6"/>
<rect x="87.6" y="317.4" width="3.3" height="3.3" fill="#f00" stroke="#000" stroke-width="0.6"/>
<rect x="88.3" y="309.7" width="3.3" height="3.3" fill="#f00" stroke="#000" stroke-width="0.6"/>
<rect x="88.4" y="317.7" width="3.3" height="3.3" fill="#f00" stroke="#000" stroke-width="0.6"/>
<rect x="88.9" y="317.2" width="3.3" height="3.3" fill="#f00" stroke="#000" stroke-width="0.6"/>
<rect x="89.4" y="317.4" width="3.3" height="3.3" fill="#f00" stroke="#000" stroke-width="0.6"/>
<rect x="90.0" y="307.7" width="3.3" height="3.3" fill="#f00" stroke="#000" stroke-width="0.6"/>
<rect x="89.9" y="317.9" width="3.3" height="3.3" fill="#f00" stroke="#000" stroke-width="0.6"/>
<rect x="90.3" y="311.7" width="3.3" height="3.3" fill="#f00" stroke="#000" stroke-width="0.6"/>
<rect x="90.5" y="314.6" width="3.3" height="3.3" fill="#f00" stroke="#000" stroke-width="0.6"/>
<rect x="91.3" y="314.7" width="3.3" height="3.3" fill="#f00" stroke="#000" stroke-width="0.6"/>
<rect x="91.5" y="309.5" width="3.3" height="3.3" fill="#f00" stroke="#000" stroke-width="0.6"/>
<rect x="91.8" y="311.7" width="3.3" height="3.3" fill="#f00" stroke="#000" stroke-width="0.6"/>
<rect x="91.9" y="311.1" width="3.3" height="3.3" fill="#f00" stroke="#000" stroke-width="0.6"/>
<rect x="93.1" y="320.1" width="3.3" height="3.3" fill="#f00" stroke="#000" stroke-width="0.6"/>
<rect x="92.6" y="316.5" width="3.3" height="3.3" fill="#f00" stroke="#000" stroke-width="0.6"/>
<rect x="93.5" y="315.3" width="3.3" height="3.3" fill="#f00" stroke="#000" stroke-width="0.6"/>
<rect x="93.5" y="318.6" width="3.3" height="3.3" fill="#f00" stroke="#000" stroke-width="0.6"/>
<rect x="94.4" y="316.4" width="3.3" height="3.3" fill="#f00" stroke="#000" stroke-width="0.6"/>
<rect x="94.2" y="316.0" width="3.3" height="3.3" fill="#f00" stroke="#000" stroke-width="0.6"/>
<rect x="94.9" y="319.3" width="3.3" height="3.3" fill="#f00" stroke="#000" stroke-width="0.6"/>
<rect x="95.2" y="317.2" width="3.3" height="3.3" fill="#f00" stroke="#000" stroke-width="0.6"/>
<rect x="95.6" y="315.1" width="3.3" height="3.3" fill="#f00" stroke="#000" stroke-width="0.6"/>
<rect x="95.8" y="320.7" width="3.3" height="3.3" fill="#f00" stroke="#000" stroke-width="0.6"/>
<rect x="96.8" y="318.3" width="3.3" height="3.3" fill="#f00" stroke="#000" stroke-width="0.6"/>
<rect x="96.8" y="321.8" width="3.3" height="3.3" fill="#f00" stroke="#000" stroke-width="0.6"/>
<rect x="97.3" y="318.7" width="3.3" height="3.3" fill="#f00" stroke="#000" stroke-width="0.6"/>
<rect x="97.3" y="323.7" width="3.3" height="3.3" fill="#f00" stroke="#000" stroke-width="0.6"/>
<rect x="98.1" y="324.4" width="3.3" height="3.3" fill="#f00" stroke="#000" stroke-width="0.6"/>
<rect x="98.1" y="317.2" width="3.3" height="3.3" fill="#f00" stroke="#000" stroke-width="0.6"/>
<rect x="98.9" y="325.2" width="3.3" height="3.3" fill="#f00" stroke="#000" stroke-width="0.6"/>
<rect x="98.6" y="320.7" width="3.3" height="3.3" fill="#f00" stroke="#000" stroke-width="0.6"/>
<rect x="99.6" y="329.4" width="3.3" height="3.3" fill="#f00" stroke="#000" stroke-width="0.6"/>
<rect x="99.9" y="320.9" width="3.3" height="3.3" fill="#f00" stroke="#000" stroke-width="0.6"/>
<rect x="100.6" y="329.0" width="3.3" height="3.3" fill="#f00" stroke="#000" stroke-width="0.6"/>
<rect x="100.2" y="323.5" width="3.3" height="3.3" fill="#f00" stroke="#000" stroke-width="0.6"/>
<rect x="100.9" y="330.4" width="3.3" height="3.3" fill="#f00" stroke="#000" stroke-width="0.6"/>
<rect x="101.2" y="331.6" width="3.3" height="3.3" fill="#f00" stroke="#000" stroke-width="0.6"/>
<rect x="102.0" y="328.6" width="3.3" height="3.3" fill="#f00" stroke="#000" stroke-width="0.6"/>
<rect x="102.0" y="326.9" width="3.3" height="3.3" fill="#f00" stroke="#000" stroke-width="0.6"/>
<rect x="102.4" y="327.7" width="3.3" height="3.3" fill="#f00" stroke="#000" stroke-width="0.6"/>
<rect x="102.3" y="321.3" width="3.3" height="3.3" fill="#f00" stroke="#000" stroke-width="0.6"/>
<rect x="103.5" y="320.9" width="3.3" height="3.3" fill="#f00" stroke="#000" stroke-width="0.6"/>
<rect x="103.1" y="321.6" width="3.3" height="3.3" fill="#f00" stroke="#000" stroke-width="0.6"/>
<rect x="104.3" y="323.7" width="3.3" height="3.3" fill="#f00" stroke="#000" stroke-width="0.6"/>
<rect x="103.8" y="331.9" width="3.3" height="3.3" fill="#f00" stroke="#000" stroke-width="0.6"/>
<rect x="104.6" y="332.5" width="3.3" height="3.3" fill="#f00" stroke="#000" stroke-width="0.6"/>
<rect x="105.0" y="332.4" width="3.3" height="3.3" fill="#f00" stroke="#000" stroke-width="0.6"/>
<rect x="105.9" y="330.2" width="3.3" height="3.3" fill="#f00" stroke="#000" stroke-width="0.6"/>
<rect x="105.8" y="324.4" width="3.3" height="3.3" fill="#f00" stroke="#000" stroke-width="0.6"/>
<rect x="106.5" y="330.4" width="3.3" height="3.3" fill="#f00" stroke="#000" stroke-width="0.6"/>
<rect x="106.5" y="326.4" width="3.3" height="3.3" fill="#f00" stroke="#000" stroke-width="0.6"/>
<rect x="107.2" y="335.1" width="3.3" height="3.3" fill="#f00" stroke="#000" stroke-width="0.6"/>
<rect x="106.8" y="329.5" width="3.3" height="3.3" fill="#f00" stroke="#000" stroke-width="0.6"/>
<rect x="107.9" y="334.7" width="3.3" height="3.3" fill="#f00" stroke="#000" stroke-width="0.6"/>
<rect x="107.7" y="329.2" width="3.3" height="3.3" fill="#f00" stroke="#000" stroke-width="0.6"/>
<rect x="108.4" y="333.5" width="3.3" height="3.3" fill="#f00" stroke="#000" stroke-width="0.6"/>
<rect x="108.8" y="331.8" width="3.3" height="3.3" fill="#f00" stroke="#000" stroke-width="0.6"/>
<rect x="109.3" y="332.5" width="3.3" height="3.3" fill="#f00" stroke="#000" stroke-width="0.6"/>
<rect x="109.3" y="332.6" width="3.3" height="3.3" fill="#f00" stroke="#000" stroke-width="0.6"/>
<rect x="109.8" y="333.7" width="3.3" height="3.3" fill="#f00" stroke="#000" stroke-width="0.6"/>
<rect x="110.4" y="333.2" width="3.3" height="3.3" fill="#f00" stroke="#000" stroke-width="0.6"/>
<rect x="111.0" y="332.4" width="3.3" height="3.3" fill="#f00" stroke="#000" stroke-width="0.6"/>
<rect x="111.0" y="335.5" width="3.3" height="3.3" fill="#f00" stroke="#000" stroke-width="0.6"/>
<rect x="111.7" y="334.7" width="3.3" height="3.3" fill="#f00" stroke="#000" stroke-width="0.6"/>
<rect x="111.6" y="335.3" width="3.3" height="3.3" fill="#f00" stroke="#000" stroke-width="0.6"/>
<rect x="112.6" y="333.9" width="3.3" height="3.3" fill="#f00" stroke="#000" stroke-width="0.6"/>
<rect x="112.1" y="336.0" width="3.3" height="3.3" fill="#f00" stroke="#000" stroke-width="0.6"/>
<rect x="113.3" y="335.6" width="3.3" height="3.3" fill="#f00" stroke="#000" stroke-width="0.6"/>
<rect x="113.1" y="336.2" width="3.3" height="3.3" fill="#f00" stroke="#000" stroke-width="0.6"/>
<rect x="113.7" y="335.6" width="3.3" height="3.3" fill="#f00" stroke="#000" stroke-width="0.6"/>
<rect x="113.7" y="336.1" width="3.3" height="3.3" fill="#f00" stroke="#000" stroke-width="0.6"/>
<rect x="114.5" y="336.1" width="3.3" height="3.3" fill="#f00" stroke="#000" stroke-width="0.6"/>
<rect x="114.7" y="336.8" width="3.3" height="3.3" fill="#f00" stroke="#000" stroke-width="0.6"/>
<rect x="115.2" y="336.8" width="3.3" height="3.3" fill="#f00" stroke="#000" stroke-width="0.6"/>
<rect x="115.3" y="336.8" width="3.3" height="3.3" fill="#f00" stroke="#000" stroke-width="0.6"/>
<rect x="116.2" y="337.1" width="3.3" height="3.3" fill="#f00" stroke="#000" stroke-width="0.6"/>
<rect x="115.9" y="337.1" width="3.3" height="3.3" fill="#f00" stroke="#000" stroke-width="0.6"/>
<rect x="116.8" y="337.3" width="3.3" height="3.3" fill="#f00" stroke="#000" stroke-width="0.6"/>
<rect x="116.7" y="337.3" width="3.3" height="3.3" fill="#f00" stroke="#000" stroke-width="0.6"/>
<rect x="47.7" y="283.0" width="3.3" height="3.3" fill="#f00" stroke="#000" stroke-width="0.6"/>
<rect x="47.0" y="283.2" width="3.3" height="3.3" fill="#f00" stroke="#000" stroke-width="0.6"/>
<rect x="50.8" y="286.8" width="3.3" height="3.3" fill="#f00" stroke="#000" stroke-width="0.6"/>
<rect x="50.7" y="290.5" width="3.3" height="3.3" fill="#f00" stroke="#000" stroke-width="0.6"/>
<rect x="53.8" y="292.5" width="3.3" height="3.3" fill="#f00" stroke="#000" stroke-width="0.6"/>
<rect x="53.8" y="298.1" width="3.3" height="3.3" fill="#f00" stroke="#000" stroke-width="0.6"/>
<rect x="56.9" y="295.3" width="3.3" height="3.3" fill="#f00" stroke="#000" stroke-width="0.6"/>
<rect x="57.1" y="301.8" width="3.3" height="3.3" fill="#f00" stroke="#000" stroke-width="0.6"/>
<rect x="60.5" y="297.8" width="3.3" height="3.3" fill="#f00" stroke="#000" stroke-width="0.6"/>
<rect x="60.1" y="304.7" width="3.3" height="3.3" fill="#f00" stroke="#000" stroke-width="0.6"/>
<rect x="63.0" y="299.6" width="3.3" height="3.3" fill="#f00" stroke="#000" stroke-width="0.6"/>
<rect x="63.3" y="306.4" width="3.3" height="3.3" fill="#f00" stroke="#000" stroke-width="0.6"/>
<rect x="66.5" y="302.0" width="3.3" height="3.3" fill="#f00" stroke="#000" stroke-width="0.6"/>
<rect x="66.6" y="307.6" width="3.3" height="3.3" fill="#f00" stroke="#000" stroke-width="0.6"/>
<rect x="69.5" y="302.6" width="3.3" height="3.3" fill="#f00" stroke="#000" stroke-width="0.6"/>
<rect x="69.6" y="308.3" width="3.3" height="3.3" fill="#f00" stroke="#000" stroke-width="0.6"/>
<rect x="73.0" y="305.1" width="3.3" height="3.3" fill="#f00" stroke="#000" stroke-width="0.6"/>
<rect x="73.1" y="309.3" width="3.3" height="3.3" fill="#f00" stroke="#000" stroke-width="0.6"/>
<rect x="76.5" y="308.0" width="3.3" height="3.3" fill="#f00" stroke="#000" stroke-width="0.6"/>
<rect x="76.3" y="311.1" width="3.3" height="3.3" fill="#f00" stroke="#000" stroke-width="0.6"/>
<rect x="79.6" y="309.6" width="3.3" height="3.3" fill="#f00" stroke="#000" stroke-width="0.6"/>
<rect x="79.2" y="314.2" width="3.3" height="3.3" fill="#f00" stroke="#000" stroke-width="0.6"/>
<rect x="82.9" y="307.5" width="3.3" height="3.3" fill="#f00" stroke="#000" stroke-width="0.6"/>
<rect x="82.8" y="318.8" width="3.3" height="3.3" fill="#f00" stroke="#000" stroke-width="0.6"/>
<rect x="85.7" y="306.9" width="3.3" height="3.3" fill="#f00" stroke="#000" stroke-width="0.6"/>
<rect x="85.7" y="320.2" width="3.3" height="3.3" fill="#f00" stroke="#000" stroke-width="0.6"/>
<rect x="89.0" y="308.0" width="3.3" height="3.3" fill="#f00" stroke="#000" stroke-width="0.6"/>
<rect x="88.8" y="319.2" width="3.3" height="3.3" fill="#f00" stroke="#000" stroke-width="0.6"/>
<rect x="92.5" y="310.8" width="3.3" height="3.3" fill="#f00" stroke="#000" stroke-width="0.6"/>
<rect x="92.2" y="320.5" width="3.3" height="3.3" fill="#f00" stroke="#000" stroke-width="0.6"/>
<rect x="95.5" y="313.0" width="3.3" height="3.3" fill="#f00" stroke="#000" stroke-width="0.6"/>
<rect x="95.1" y="324.8" width="3.3" height="3.3" fill="#f00" stroke="#000" stroke-width="0.6"/>
<rect x="98.7" y="313.5" width="3.3" height="3.3" fill="#f00" stroke="#000" stroke-width="0.6"/>
<rect x="98.9" y="329.7" width="3.3" height="3.3" fill="#f00" stroke="#000" stroke-width="0.6"/>
<rect x="102.1" y="318.2" width="3.3" height="3.3" fill="#f00" stroke="#000" stroke-width="0.6"/>
<rect x="102.1" y="333.3" width="3.3" height="3.3" fill="#f00" stroke="#000" stroke-width="0.6"/>
<rect x="105.0" y="323.3" width="3.3" height="3.3" fill="#f00" stroke="#000" stroke-width="0.6"/>
<rect x="105.1" y="333.9" width="3.3" height="3.3" fill="#f00" stroke="#000" stroke-width="0.6"/>
<rect x="108.0" y="328.3" width="3.3" height="3.3" fill="#f00" stroke="#000" stroke-width="0.6"/>
<rect x="108.2" y="335.6" width="3.3" height="3.3" fill="#f00" stroke="#000" stroke-width="0.6"/>
<rect x="111.4" y="332.3" width="3.3" height="3.3" fill="#f00" stroke="#000" stroke-width="0.6"/>
<rect x="111.6" y="336.3" width="3.3" height="3.3" fill="#f00" stroke="#000" stroke-width="0.6"/>
<rect x="114.9" y="336.1" width="3.3" height="3.3" fill="#f00" stroke="#000" stroke-width="0.6"/>
<rect x="114.7" y="336.7" width="3.3" height="3.3" fill="#f00" stroke="#000" stroke-width="0.6"/>
<rect x="104.9" y="336.8" width="3.3" height="3.3" fill="#f00" stroke="#000" stroke-width="0.6"/>
<rect x="108.3" y="336.8" width="3.3" height="3.3" fill="#f00" stroke="#000" stroke-width="0.6"/>
<rect x="111.9" y="336.8" width="3.3" height="3.3" fill="#f00" stroke="#000" stroke-width="0.6"/>
<rect x="115.8" y="336.8" width="3.3" height="3.3" fill="#f00" stroke="#000" stroke-width="0.6"/>
<rect x="102.6" y="340.4" width="3.3" height="3.3" fill="#f00" stroke="#000" stroke-width="0.6"/>
<rect x="105.4" y="340.4" width="3.3" height="3.3" fill="#f00" stroke="#000" stroke-width="0.6"/>
<rect x="108.1" y="340.4" width="3.3" height="3.3" fill="#f00" stroke="#000" stroke-width="0.6"/>
<rect x="110.9" y="340.4" width="3.3" height="3.3" fill="#f00" stroke="#000" stroke-width="0.6"/>
<rect x="113.6" y="340.4" width="3.3" height="3.3" fill="#f00" stroke="#000" stroke-width="0.6"/>
<rect x="116.3" y="340.4" width="3.3" height="3.3" fill="#f00" stroke="#000" stroke-width="0.6"/>
<rect x="103.9" y="346.0" width="3.3" height="3.3" fill="#f00" stroke="#000" stroke-width="0.6"/>
<rect x="106.5" y="346.0" width="3.3" height="3.3" fill="#f00" stroke="#000" stroke-width="0.6"/>
<rect x="107.6" y="354.8" width="3.3" height="3.3" fill="#f00" stroke="#000" stroke-width="0.6"/>
<rect x="117.8" y="354.8" width="3.3" height="3.3" fill="#f00" stroke="#000" stroke-width="0.6"/>
<rect x="108.3" y="346.0" width="3.3" height="3.3" fill="#400000" stroke="#000" stroke-width="0.45"/>
<rect x="109.7" y="346.0" width="3.3" height="3.3" fill="#400000" stroke="#000" stroke-width="0.45"/>
<rect x="111.1" y="346.0" width="3.3" height="3.3" fill="#400000" stroke="#000" stroke-width="0.45"/>
<rect x="112.4" y="346.0" width="3.3" height="3.3" fill="#400000" stroke="#000" stroke-width="0.45"/>
<rect x="113.8" y="346.0" width="3.3" height="3.3" fill="#400000" stroke="#000" stroke-width="0.45"/>
<rect x="115.1" y="346.0" width="3.3" height="3.3" fill="#400000" stroke="#000" stroke-width="0.45"/>
<rect x="116.5" y="346.0" width="3.3" height="3.3" fill="#400000" stroke="#000" stroke-width="0.45"/>
<rect x="117.8" y="346.0" width="3.3" height="3.3" fill="#400000" stroke="#000" stroke-width="0.45"/>
<rect x="108.8" y="354.8" width="3.3" height="3.3" fill="#400000" stroke="#000" stroke-width="0.45"/>
<rect x="110.1" y="354.8" width="3.3" height="3.3" fill="#400000" stroke="#000" stroke-width="0.45"/>
<rect x="111.3" y="354.8" width="3.3" height="3.3" fill="#400000" stroke="#000" stroke-width="0.45"/>
<rect x="112.6" y="354.8" width="3.3" height="3.3" fill="#400000" stroke="#000" stroke-width="0.45"/>
<rect x="113.8" y="354.8" width="3.3" height="3.3" fill="#400000" stroke="#000" stroke-width="0.45"/>
<rect x="115.1" y="354.8" width="3.3" height="3.3" fill="#400000" stroke="#000" stroke-width="0.45"/>
<rect x="116.3" y="354.8" width="3.3" height="3.3" fill="#400000" stroke="#000" stroke-width="0.45"/>
</g>
<line x1="41.7" y1="356.3" x2="41.7" y2="354.1" stroke="#777" stroke-width="0.8"/>
<line x1="41.7" y1="204.6" x2="41.7" y2="206.8" stroke="#777" stroke-width="0.8"/>
<text x="40.9" y="368.3" font-size="9" text-anchor="middle" fill="#222" stroke="#222" stroke-width="0.2">0</text>
<line x1="100.6" y1="356.3" x2="100.6" y2="354.1" stroke="#777" stroke-width="0.8"/>
<line x1="100.6" y1="204.6" x2="100.6" y2="206.8" stroke="#777" stroke-width="0.8"/>
<text x="98.7" y="368.3" font-size="9" text-anchor="middle" fill="#222" stroke="#222" stroke-width="0.2">100</text>
<line x1="159.5" y1="356.3" x2="159.5" y2="354.1" stroke="#777" stroke-width="0.8"/>
<line x1="159.5" y1="204.6" x2="159.5" y2="206.8" stroke="#777" stroke-width="0.8"/>
<text x="157.6" y="368.3" font-size="9" text-anchor="middle" fill="#222" stroke="#222" stroke-width="0.2">200</text>
<line x1="218.4" y1="356.3" x2="218.4" y2="354.1" stroke="#777" stroke-width="0.8"/>
<line x1="218.4" y1="204.6" x2="218.4" y2="206.8" stroke="#777" stroke-width="0.8"/>
<text x="216.5" y="368.3" font-size="9" text-anchor="middle" fill="#222" stroke="#222" stroke-width="0.2">300</text>
<line x1="277.3" y1="356.3" x2="277.3" y2="354.1" stroke="#777" stroke-width="0.8"/>
<line x1="277.3" y1="204.6" x2="277.3" y2="206.8" stroke="#777" stroke-width="0.8"/>
<text x="275.4" y="368.3" font-size="9" text-anchor="middle" fill="#222" stroke="#222" stroke-width="0.2">400</text>
<text x="31.3" y="361.1" font-size="9" text-anchor="end" fill="#222" stroke="#222" stroke-width="0.18">10</text>
<text x="33.9" y="357.0" font-size="7.0" fill="#222" stroke="#222" stroke-width="0.25">0</text>
<line x1="289.2" y1="347.2" x2="287.6" y2="347.2" stroke="#777" stroke-width="0.7"/>
<line x1="41.2" y1="347.2" x2="42.8" y2="347.2" stroke="#777" stroke-width="0.7"/>
<line x1="289.2" y1="341.8" x2="287.6" y2="341.8" stroke="#777" stroke-width="0.7"/>
<line x1="41.2" y1="341.8" x2="42.8" y2="341.8" stroke="#777" stroke-width="0.7"/>
<line x1="289.2" y1="338.0" x2="287.6" y2="338.0" stroke="#777" stroke-width="0.7"/>
<line x1="41.2" y1="338.0" x2="42.8" y2="338.0" stroke="#777" stroke-width="0.7"/>
<line x1="289.2" y1="335.1" x2="287.6" y2="335.1" stroke="#777" stroke-width="0.7"/>
<line x1="41.2" y1="335.1" x2="42.8" y2="335.1" stroke="#777" stroke-width="0.7"/>
<line x1="289.2" y1="332.7" x2="287.6" y2="332.7" stroke="#777" stroke-width="0.7"/>
<line x1="41.2" y1="332.7" x2="42.8" y2="332.7" stroke="#777" stroke-width="0.7"/>
<line x1="289.2" y1="330.7" x2="287.6" y2="330.7" stroke="#777" stroke-width="0.7"/>
<line x1="41.2" y1="330.7" x2="42.8" y2="330.7" stroke="#777" stroke-width="0.7"/>
<line x1="289.2" y1="328.9" x2="287.6" y2="328.9" stroke="#777" stroke-width="0.7"/>
<line x1="41.2" y1="328.9" x2="42.8" y2="328.9" stroke="#777" stroke-width="0.7"/>
<line x1="289.2" y1="327.3" x2="287.6" y2="327.3" stroke="#777" stroke-width="0.7"/>
<line x1="41.2" y1="327.3" x2="42.8" y2="327.3" stroke="#777" stroke-width="0.7"/>
<line x1="289.2" y1="356.3" x2="286.7" y2="356.3" stroke="#777" stroke-width="0.8"/>
<line x1="41.2" y1="356.3" x2="43.7" y2="356.3" stroke="#777" stroke-width="0.8"/>
<text x="31.3" y="330.8" font-size="9" text-anchor="end" fill="#222" stroke="#222" stroke-width="0.18">10</text>
<text x="33.9" y="326.7" font-size="7.0" fill="#222" stroke="#222" stroke-width="0.25">1</text>
<line x1="289.2" y1="316.8" x2="287.6" y2="316.8" stroke="#777" stroke-width="0.7"/>
<line x1="41.2" y1="316.8" x2="42.8" y2="316.8" stroke="#777" stroke-width="0.7"/>
<line x1="289.2" y1="311.5" x2="287.6" y2="311.5" stroke="#777" stroke-width="0.7"/>
<line x1="41.2" y1="311.5" x2="42.8" y2="311.5" stroke="#777" stroke-width="0.7"/>
<line x1="289.2" y1="307.7" x2="287.6" y2="307.7" stroke="#777" stroke-width="0.7"/>
<line x1="41.2" y1="307.7" x2="42.8" y2="307.7" stroke="#777" stroke-width="0.7"/>
<line x1="289.2" y1="304.8" x2="287.6" y2="304.8" stroke="#777" stroke-width="0.7"/>
<line x1="41.2" y1="304.8" x2="42.8" y2="304.8" stroke="#777" stroke-width="0.7"/>
<line x1="289.2" y1="302.4" x2="287.6" y2="302.4" stroke="#777" stroke-width="0.7"/>
<line x1="41.2" y1="302.4" x2="42.8" y2="302.4" stroke="#777" stroke-width="0.7"/>
<line x1="289.2" y1="300.3" x2="287.6" y2="300.3" stroke="#777" stroke-width="0.7"/>
<line x1="41.2" y1="300.3" x2="42.8" y2="300.3" stroke="#777" stroke-width="0.7"/>
<line x1="289.2" y1="298.6" x2="287.6" y2="298.6" stroke="#777" stroke-width="0.7"/>
<line x1="41.2" y1="298.6" x2="42.8" y2="298.6" stroke="#777" stroke-width="0.7"/>
<line x1="289.2" y1="297.0" x2="287.6" y2="297.0" stroke="#777" stroke-width="0.7"/>
<line x1="41.2" y1="297.0" x2="42.8" y2="297.0" stroke="#777" stroke-width="0.7"/>
<line x1="289.2" y1="326.0" x2="286.7" y2="326.0" stroke="#777" stroke-width="0.8"/>
<line x1="41.2" y1="326.0" x2="43.7" y2="326.0" stroke="#777" stroke-width="0.8"/>
<text x="31.3" y="300.4" font-size="9" text-anchor="end" fill="#222" stroke="#222" stroke-width="0.18">10</text>
<text x="33.9" y="296.3" font-size="7.0" fill="#222" stroke="#222" stroke-width="0.25">2</text>
<line x1="289.2" y1="286.5" x2="287.6" y2="286.5" stroke="#777" stroke-width="0.7"/>
<line x1="41.2" y1="286.5" x2="42.8" y2="286.5" stroke="#777" stroke-width="0.7"/>
<line x1="289.2" y1="281.1" x2="287.6" y2="281.1" stroke="#777" stroke-width="0.7"/>
<line x1="41.2" y1="281.1" x2="42.8" y2="281.1" stroke="#777" stroke-width="0.7"/>
<line x1="289.2" y1="277.4" x2="287.6" y2="277.4" stroke="#777" stroke-width="0.7"/>
<line x1="41.2" y1="277.4" x2="42.8" y2="277.4" stroke="#777" stroke-width="0.7"/>
<line x1="289.2" y1="274.4" x2="287.6" y2="274.4" stroke="#777" stroke-width="0.7"/>
<line x1="41.2" y1="274.4" x2="42.8" y2="274.4" stroke="#777" stroke-width="0.7"/>
<line x1="289.2" y1="272.0" x2="287.6" y2="272.0" stroke="#777" stroke-width="0.7"/>
<line x1="41.2" y1="272.0" x2="42.8" y2="272.0" stroke="#777" stroke-width="0.7"/>
<line x1="289.2" y1="270.0" x2="287.6" y2="270.0" stroke="#777" stroke-width="0.7"/>
<line x1="41.2" y1="270.0" x2="42.8" y2="270.0" stroke="#777" stroke-width="0.7"/>
<line x1="289.2" y1="268.2" x2="287.6" y2="268.2" stroke="#777" stroke-width="0.7"/>
<line x1="41.2" y1="268.2" x2="42.8" y2="268.2" stroke="#777" stroke-width="0.7"/>
<line x1="289.2" y1="266.7" x2="287.6" y2="266.7" stroke="#777" stroke-width="0.7"/>
<line x1="41.2" y1="266.7" x2="42.8" y2="266.7" stroke="#777" stroke-width="0.7"/>
<line x1="289.2" y1="295.6" x2="286.7" y2="295.6" stroke="#777" stroke-width="0.8"/>
<line x1="41.2" y1="295.6" x2="43.7" y2="295.6" stroke="#777" stroke-width="0.8"/>
<text x="31.3" y="270.1" font-size="9" text-anchor="end" fill="#222" stroke="#222" stroke-width="0.18">10</text>
<text x="33.9" y="266.0" font-size="7.0" fill="#222" stroke="#222" stroke-width="0.25">3</text>
<line x1="289.2" y1="256.1" x2="287.6" y2="256.1" stroke="#777" stroke-width="0.7"/>
<line x1="41.2" y1="256.1" x2="42.8" y2="256.1" stroke="#777" stroke-width="0.7"/>
<line x1="289.2" y1="250.8" x2="287.6" y2="250.8" stroke="#777" stroke-width="0.7"/>
<line x1="41.2" y1="250.8" x2="42.8" y2="250.8" stroke="#777" stroke-width="0.7"/>
<line x1="289.2" y1="247.0" x2="287.6" y2="247.0" stroke="#777" stroke-width="0.7"/>
<line x1="41.2" y1="247.0" x2="42.8" y2="247.0" stroke="#777" stroke-width="0.7"/>
<line x1="289.2" y1="244.1" x2="287.6" y2="244.1" stroke="#777" stroke-width="0.7"/>
<line x1="41.2" y1="244.1" x2="42.8" y2="244.1" stroke="#777" stroke-width="0.7"/>
<line x1="289.2" y1="241.7" x2="287.6" y2="241.7" stroke="#777" stroke-width="0.7"/>
<line x1="41.2" y1="241.7" x2="42.8" y2="241.7" stroke="#777" stroke-width="0.7"/>
<line x1="289.2" y1="239.6" x2="287.6" y2="239.6" stroke="#777" stroke-width="0.7"/>
<line x1="41.2" y1="239.6" x2="42.8" y2="239.6" stroke="#777" stroke-width="0.7"/>
<line x1="289.2" y1="237.9" x2="287.6" y2="237.9" stroke="#777" stroke-width="0.7"/>
<line x1="41.2" y1="237.9" x2="42.8" y2="237.9" stroke="#777" stroke-width="0.7"/>
<line x1="289.2" y1="236.3" x2="287.6" y2="236.3" stroke="#777" stroke-width="0.7"/>
<line x1="41.2" y1="236.3" x2="42.8" y2="236.3" stroke="#777" stroke-width="0.7"/>
<line x1="289.2" y1="265.3" x2="286.7" y2="265.3" stroke="#777" stroke-width="0.8"/>
<line x1="41.2" y1="265.3" x2="43.7" y2="265.3" stroke="#777" stroke-width="0.8"/>
<text x="31.3" y="239.7" font-size="9" text-anchor="end" fill="#222" stroke="#222" stroke-width="0.18">10</text>
<text x="33.9" y="235.6" font-size="7.0" fill="#222" stroke="#222" stroke-width="0.25">4</text>
<line x1="289.2" y1="225.8" x2="287.6" y2="225.8" stroke="#777" stroke-width="0.7"/>
<line x1="41.2" y1="225.8" x2="42.8" y2="225.8" stroke="#777" stroke-width="0.7"/>
<line x1="289.2" y1="220.5" x2="287.6" y2="220.5" stroke="#777" stroke-width="0.7"/>
<line x1="41.2" y1="220.5" x2="42.8" y2="220.5" stroke="#777" stroke-width="0.7"/>
<line x1="289.2" y1="216.7" x2="287.6" y2="216.7" stroke="#777" stroke-width="0.7"/>
<line x1="41.2" y1="216.7" x2="42.8" y2="216.7" stroke="#777" stroke-width="0.7"/>
<line x1="289.2" y1="213.7" x2="287.6" y2="213.7" stroke="#777" stroke-width="0.7"/>
<line x1="41.2" y1="213.7" x2="42.8" y2="213.7" stroke="#777" stroke-width="0.7"/>
<line x1="289.2" y1="211.3" x2="287.6" y2="211.3" stroke="#777" stroke-width="0.7"/>
<line x1="41.2" y1="211.3" x2="42.8" y2="211.3" stroke="#777" stroke-width="0.7"/>
<line x1="289.2" y1="209.3" x2="287.6" y2="209.3" stroke="#777" stroke-width="0.7"/>
<line x1="41.2" y1="209.3" x2="42.8" y2="209.3" stroke="#777" stroke-width="0.7"/>
<line x1="289.2" y1="207.5" x2="287.6" y2="207.5" stroke="#777" stroke-width="0.7"/>
<line x1="41.2" y1="207.5" x2="42.8" y2="207.5" stroke="#777" stroke-width="0.7"/>
<line x1="289.2" y1="206.0" x2="287.6" y2="206.0" stroke="#777" stroke-width="0.7"/>
<line x1="41.2" y1="206.0" x2="42.8" y2="206.0" stroke="#777" stroke-width="0.7"/>
<line x1="289.2" y1="234.9" x2="286.7" y2="234.9" stroke="#777" stroke-width="0.8"/>
<line x1="41.2" y1="234.9" x2="43.7" y2="234.9" stroke="#777" stroke-width="0.8"/>
<text x="31.3" y="209.4" font-size="9" text-anchor="end" fill="#222" stroke="#222" stroke-width="0.18">10</text>
<text x="33.9" y="205.3" font-size="7.0" fill="#222" stroke="#222" stroke-width="0.25">5</text>
<line x1="289.2" y1="204.6" x2="286.7" y2="204.6" stroke="#777" stroke-width="0.8"/>
<line x1="41.2" y1="204.6" x2="43.7" y2="204.6" stroke="#777" stroke-width="0.8"/>
<text transform="translate(11.0,283) rotate(-90)" font-size="12.6" text-anchor="middle" dominant-baseline="central" fill="#111" stroke="#111" stroke-width="0.25">Counts</text>
<text x="194.8" y="229.4" font-size="9.8" fill="#111" stroke="#111" stroke-width="0.25">Case(B),t=600</text>
<rect x="201.5" y="243.9" width="62.0" height="22.4" rx="1.2" fill="#fff" stroke="#808080" stroke-width="0.9"/>
<rect x="213.5" y="249.2" width="3.0" height="3.0" fill="#f00" stroke="#000" stroke-width="0.6"/>
<circle cx="215.0" cy="260.5" r="2.5" fill="#00f" stroke="#7878a0" stroke-width="0.6"/>
<text x="225.9" y="253.3" font-size="7.9" fill="#111" stroke="#111" stroke-width="0.2">ions</text>
<text x="225.9" y="263.1" font-size="7.9" fill="#111" stroke="#111" stroke-width="0.2">electrons</text>
<rect x="356" y="203.6" width="249.3" height="151.6" fill="none" stroke="#8a8a8a" stroke-width="1.0"/>
<clipPath id="cBR"><rect x="353" y="200.6" width="255.3" height="157.6"/></clipPath>
<g clip-path="url(#cBR)">
<rect x="355.6" y="204.9" width="4.4" height="4.4" fill="#f00" stroke="#000" stroke-width="0.6"/>
<rect x="355.6" y="212.0" width="4.4" height="4.4" fill="#f00" stroke="#000" stroke-width="0.6"/>
<rect x="355.8" y="221.1" width="4.4" height="4.4" fill="#f00" stroke="#000" stroke-width="0.6"/>
<rect x="356.6" y="226.9" width="4.4" height="4.4" fill="#f00" stroke="#000" stroke-width="0.6"/>
<rect x="356.5" y="226.9" width="4.4" height="4.4" fill="#f00" stroke="#000" stroke-width="0.6"/>
<rect x="357.0" y="228.7" width="4.4" height="4.4" fill="#f00" stroke="#000" stroke-width="0.6"/>
<rect x="357.6" y="230.4" width="4.4" height="4.4" fill="#f00" stroke="#000" stroke-width="0.6"/>
<rect x="358.1" y="232.2" width="4.4" height="4.4" fill="#f00" stroke="#000" stroke-width="0.6"/>
<rect x="358.5" y="234.0" width="4.4" height="4.4" fill="#f00" stroke="#000" stroke-width="0.6"/>
<rect x="359.1" y="235.8" width="4.4" height="4.4" fill="#f00" stroke="#000" stroke-width="0.6"/>
<rect x="359.7" y="237.5" width="4.4" height="4.4" fill="#f00" stroke="#000" stroke-width="0.6"/>
<rect x="360.4" y="239.3" width="4.4" height="4.4" fill="#f00" stroke="#000" stroke-width="0.6"/>
<rect x="361.0" y="241.0" width="4.4" height="4.4" fill="#f00" stroke="#000" stroke-width="0.6"/>
<rect x="361.8" y="242.6" width="4.4" height="4.4" fill="#f00" stroke="#000" stroke-width="0.6"/>
<rect x="362.7" y="244.3" width="4.4" height="4.4" fill="#f00" stroke="#000" stroke-width="0.6"/>
<rect x="363.5" y="246.0" width="4.4" height="4.4" fill="#f00" stroke="#000" stroke-width="0.6"/>
<rect x="364.3" y="247.6" width="4.4" height="4.4" fill="#f00" stroke="#000" stroke-width="0.6"/>
<rect x="365.2" y="249.2" width="4.4" height="4.4" fill="#f00" stroke="#000" stroke-width="0.6"/>
<rect x="366.1" y="250.8" width="4.4" height="4.4" fill="#f00" stroke="#000" stroke-width="0.6"/>
<rect x="367.2" y="252.3" width="4.4" height="4.4" fill="#f00" stroke="#000" stroke-width="0.6"/>
<rect x="368.4" y="253.8" width="4.4" height="4.4" fill="#f00" stroke="#000" stroke-width="0.6"/>
<rect x="369.5" y="255.2" width="4.4" height="4.4" fill="#f00" stroke="#000" stroke-width="0.6"/>
<rect x="370.7" y="256.7" width="4.4" height="4.4" fill="#f00" stroke="#000" stroke-width="0.6"/>
<rect x="372.0" y="258.0" width="4.4" height="4.4" fill="#f00" stroke="#000" stroke-width="0.6"/>
<rect x="373.3" y="259.3" width="4.4" height="4.4" fill="#f00" stroke="#000" stroke-width="0.6"/>
<rect x="374.7" y="260.5" width="4.4" height="4.4" fill="#f00" stroke="#000" stroke-width="0.6"/>
<rect x="376.1" y="261.7" width="4.4" height="4.4" fill="#f00" stroke="#000" stroke-width="0.6"/>
<rect x="377.4" y="263.0" width="4.4" height="4.4" fill="#f00" stroke="#000" stroke-width="0.6"/>
<rect x="378.7" y="264.3" width="4.4" height="4.4" fill="#f00" stroke="#000" stroke-width="0.6"/>
<rect x="380.0" y="265.6" width="4.4" height="4.4" fill="#f00" stroke="#000" stroke-width="0.6"/>
<rect x="381.3" y="267.0" width="4.4" height="4.4" fill="#f00" stroke="#000" stroke-width="0.6"/>
<rect x="382.5" y="268.3" width="4.4" height="4.4" fill="#f00" stroke="#000" stroke-width="0.6"/>
<rect x="384.0" y="269.5" width="4.4" height="4.4" fill="#f00" stroke="#000" stroke-width="0.6"/>
<rect x="385.5" y="270.5" width="4.4" height="4.4" fill="#f00" stroke="#000" stroke-width="0.6"/>
<rect x="387.1" y="271.5" width="4.4" height="4.4" fill="#f00" stroke="#000" stroke-width="0.6"/>
<rect x="388.7" y="272.4" width="4.4" height="4.4" fill="#f00" stroke="#000" stroke-width="0.6"/>
<rect x="390.4" y="273.2" width="4.4" height="4.4" fill="#f00" stroke="#000" stroke-width="0.6"/>
<rect x="392.0" y="274.0" width="4.4" height="4.4" fill="#f00" stroke="#000" stroke-width="0.6"/>
<rect x="393.7" y="274.7" width="4.4" height="4.4" fill="#f00" stroke="#000" stroke-width="0.6"/>
<rect x="395.4" y="275.5" width="4.4" height="4.4" fill="#f00" stroke="#000" stroke-width="0.6"/>
<rect x="397.1" y="276.2" width="4.4" height="4.4" fill="#f00" stroke="#000" stroke-width="0.6"/>
<rect x="398.8" y="276.9" width="4.4" height="4.4" fill="#f00" stroke="#000" stroke-width="0.6"/>
<rect x="399.8" y="277.3" width="4.4" height="4.4" fill="#f00" stroke="#000" stroke-width="0.6"/>
<rect x="398.9" y="277.9" width="4.4" height="4.4" fill="#f00" stroke="#000" stroke-width="0.6"/>
<rect x="399.9" y="278.5" width="4.4" height="4.4" fill="#f00" stroke="#000" stroke-width="0.6"/>
<rect x="400.7" y="278.8" width="4.4" height="4.4" fill="#f00" stroke="#000" stroke-width="0.6"/>
<rect x="401.2" y="278.3" width="4.4" height="4.4" fill="#f00" stroke="#000" stroke-width="0.6"/>
<rect x="402.7" y="278.9" width="4.4" height="4.4" fill="#f00" stroke="#000" stroke-width="0.6"/>
<rect x="403.5" y="278.2" width="4.4" height="4.4" fill="#f00" stroke="#000" stroke-width="0.6"/>
<rect x="404.2" y="278.7" width="4.4" height="4.4" fill="#f00" stroke="#000" stroke-width="0.6"/>
<rect x="405.1" y="279.5" width="4.4" height="4.4" fill="#f00" stroke="#000" stroke-width="0.6"/>
<rect x="405.7" y="279.0" width="4.4" height="4.4" fill="#f00" stroke="#000" stroke-width="0.6"/>
<rect x="406.8" y="280.4" width="4.4" height="4.4" fill="#f00" stroke="#000" stroke-width="0.6"/>
<rect x="408.0" y="279.3" width="4.4" height="4.4" fill="#f00" stroke="#000" stroke-width="0.6"/>
<rect x="408.9" y="279.4" width="4.4" height="4.4" fill="#f00" stroke="#000" stroke-width="0.6"/>
<rect x="409.7" y="279.6" width="4.4" height="4.4" fill="#f00" stroke="#000" stroke-width="0.6"/>
<rect x="410.2" y="281.0" width="4.4" height="4.4" fill="#f00" stroke="#000" stroke-width="0.6"/>
<rect x="411.2" y="280.1" width="4.4" height="4.4" fill="#f00" stroke="#000" stroke-width="0.6"/>
<rect x="412.6" y="281.3" width="4.4" height="4.4" fill="#f00" stroke="#000" stroke-width="0.6"/>
<rect x="413.1" y="281.6" width="4.4" height="4.4" fill="#f00" stroke="#000" stroke-width="0.6"/>
<rect x="414.1" y="281.3" width="4.4" height="4.4" fill="#f00" stroke="#000" stroke-width="0.6"/>
<rect x="414.8" y="281.8" width="4.4" height="4.4" fill="#f00" stroke="#000" stroke-width="0.6"/>
<rect x="416.0" y="282.0" width="4.4" height="4.4" fill="#f00" stroke="#000" stroke-width="0.6"/>
<rect x="417.0" y="281.3" width="4.4" height="4.4" fill="#f00" stroke="#000" stroke-width="0.6"/>
<rect x="417.6" y="281.3" width="4.4" height="4.4" fill="#f00" stroke="#000" stroke-width="0.6"/>
<rect x="418.4" y="281.3" width="4.4" height="4.4" fill="#f00" stroke="#000" stroke-width="0.6"/>
<rect x="419.4" y="282.2" width="4.4" height="4.4" fill="#f00" stroke="#000" stroke-width="0.6"/>
<rect x="420.1" y="282.5" width="4.4" height="4.4" fill="#f00" stroke="#000" stroke-width="0.6"/>
<rect x="421.2" y="282.1" width="4.4" height="4.4" fill="#f00" stroke="#000" stroke-width="0.6"/>
<rect x="422.4" y="282.6" width="4.4" height="4.4" fill="#f00" stroke="#000" stroke-width="0.6"/>
<rect x="423.0" y="282.8" width="4.4" height="4.4" fill="#f00" stroke="#000" stroke-width="0.6"/>
<rect x="424.1" y="282.1" width="4.4" height="4.4" fill="#f00" stroke="#000" stroke-width="0.6"/>
<rect x="425.2" y="282.2" width="4.4" height="4.4" fill="#f00" stroke="#000" stroke-width="0.6"/>
<rect x="425.9" y="284.1" width="4.4" height="4.4" fill="#f00" stroke="#000" stroke-width="0.6"/>
<rect x="426.4" y="284.2" width="4.4" height="4.4" fill="#f00" stroke="#000" stroke-width="0.6"/>
<rect x="427.5" y="283.8" width="4.4" height="4.4" fill="#f00" stroke="#000" stroke-width="0.6"/>
<rect x="428.2" y="282.6" width="4.4" height="4.4" fill="#f00" stroke="#000" stroke-width="0.6"/>
<rect x="429.2" y="285.3" width="4.4" height="4.4" fill="#f00" stroke="#000" stroke-width="0.6"/>
<rect x="430.1" y="284.9" width="4.4" height="4.4" fill="#f00" stroke="#000" stroke-width="0.6"/>
<rect x="431.5" y="285.8" width="4.4" height="4.4" fill="#f00" stroke="#000" stroke-width="0.6"/>
<rect x="432.0" y="284.5" width="4.4" height="4.4" fill="#f00" stroke="#000" stroke-width="0.6"/>
<rect x="433.0" y="286.1" width="4.4" height="4.4" fill="#f00" stroke="#000" stroke-width="0.6"/>
<rect x="433.7" y="286.4" width="4.4" height="4.4" fill="#f00" stroke="#000" stroke-width="0.6"/>
<rect x="435.0" y="287.0" width="4.4" height="4.4" fill="#f00" stroke="#000" stroke-width="0.6"/>
<rect x="435.4" y="287.6" width="4.4" height="4.4" fill="#f00" stroke="#000" stroke-width="0.6"/>
<rect x="436.4" y="286.3" width="4.4" height="4.4" fill="#f00" stroke="#000" stroke-width="0.6"/>
<rect x="437.6" y="288.5" width="4.4" height="4.4" fill="#f00" stroke="#000" stroke-width="0.6"/>
<rect x="438.3" y="289.0" width="4.4" height="4.4" fill="#f00" stroke="#000" stroke-width="0.6"/>
<rect x="439.3" y="287.7" width="4.4" height="4.4" fill="#f00" stroke="#000" stroke-width="0.6"/>
<rect x="440.1" y="287.8" width="4.4" height="4.4" fill="#f00" stroke="#000" stroke-width="0.6"/>
<rect x="440.8" y="288.1" width="4.4" height="4.4" fill="#f00" stroke="#000" stroke-width="0.6"/>
<rect x="442.1" y="291.4" width="4.4" height="4.4" fill="#f00" stroke="#000" stroke-width="0.6"/>
<rect x="442.7" y="288.8" width="4.4" height="4.4" fill="#f00" stroke="#000" stroke-width="0.6"/>
<rect x="444.1" y="291.0" width="4.4" height="4.4" fill="#f00" stroke="#000" stroke-width="0.6"/>
<rect x="444.6" y="290.7" width="4.4" height="4.4" fill="#f00" stroke="#000" stroke-width="0.6"/>
<rect x="445.7" y="293.2" width="4.4" height="4.4" fill="#f00" stroke="#000" stroke-width="0.6"/>
<rect x="446.5" y="292.6" width="4.4" height="4.4" fill="#f00" stroke="#000" stroke-width="0.6"/>
<rect x="447.1" y="294.6" width="4.4" height="4.4" fill="#f00" stroke="#000" stroke-width="0.6"/>
<rect x="448.0" y="293.9" width="4.4" height="4.4" fill="#f00" stroke="#000" stroke-width="0.6"/>
<rect x="449.4" y="293.4" width="4.4" height="4.4" fill="#f00" stroke="#000" stroke-width="0.6"/>
<rect x="450.2" y="296.3" width="4.4" height="4.4" fill="#f00" stroke="#000" stroke-width="0.6"/>
<rect x="451.1" y="296.3" width="4.4" height="4.4" fill="#f00" stroke="#000" stroke-width="0.6"/>
<rect x="451.7" y="295.7" width="4.4" height="4.4" fill="#f00" stroke="#000" stroke-width="0.6"/>
<rect x="452.6" y="297.6" width="4.4" height="4.4" fill="#f00" stroke="#000" stroke-width="0.6"/>
<rect x="453.6" y="296.8" width="4.4" height="4.4" fill="#f00" stroke="#000" stroke-width="0.6"/>
<rect x="454.9" y="298.4" width="4.4" height="4.4" fill="#f00" stroke="#000" stroke-width="0.6"/>
<rect x="455.8" y="297.3" width="4.4" height="4.4" fill="#f00" stroke="#000" stroke-width="0.6"/>
<rect x="456.4" y="298.5" width="4.4" height="4.4" fill="#f00" stroke="#000" stroke-width="0.6"/>
<rect x="457.3" y="297.3" width="4.4" height="4.4" fill="#f00" stroke="#000" stroke-width="0.6"/>
<rect x="458.1" y="297.1" width="4.4" height="4.4" fill="#f00" stroke="#000" stroke-width="0.6"/>
<rect x="459.0" y="300.2" width="4.4" height="4.4" fill="#f00" stroke="#000" stroke-width="0.6"/>
<rect x="460.3" y="299.3" width="4.4" height="4.4" fill="#f00" stroke="#000" stroke-width="0.6"/>
<rect x="460.9" y="298.6" width="4.4" height="4.4" fill="#f00" stroke="#000" stroke-width="0.6"/>
<rect x="461.6" y="298.6" width="4.4" height="4.4" fill="#f00" stroke="#000" stroke-width="0.6"/>
<rect x="462.9" y="300.9" width="4.4" height="4.4" fill="#f00" stroke="#000" stroke-width="0.6"/>
<rect x="463.5" y="300.9" width="4.4" height="4.4" fill="#f00" stroke="#000" stroke-width="0.6"/>
<rect x="464.7" y="300.8" width="4.4" height="4.4" fill="#f00" stroke="#000" stroke-width="0.6"/>
<rect x="465.5" y="301.3" width="4.4" height="4.4" fill="#f00" stroke="#000" stroke-width="0.6"/>
<rect x="466.2" y="301.4" width="4.4" height="4.4" fill="#f00" stroke="#000" stroke-width="0.6"/>
<rect x="467.1" y="300.8" width="4.4" height="4.4" fill="#f00" stroke="#000" stroke-width="0.6"/>
<rect x="468.0" y="302.0" width="4.4" height="4.4" fill="#f00" stroke="#000" stroke-width="0.6"/>
<rect x="468.4" y="300.0" width="4.4" height="4.4" fill="#f00" stroke="#000" stroke-width="0.6"/>
<rect x="468.7" y="301.6" width="4.4" height="4.4" fill="#f00" stroke="#000" stroke-width="0.6"/>
<rect x="469.6" y="302.0" width="4.4" height="4.4" fill="#f00" stroke="#000" stroke-width="0.6"/>
<rect x="470.1" y="302.1" width="4.4" height="4.4" fill="#f00" stroke="#000" stroke-width="0.6"/>
<rect x="470.7" y="302.3" width="4.4" height="4.4" fill="#f00" stroke="#000" stroke-width="0.6"/>
<rect x="471.5" y="300.6" width="4.4" height="4.4" fill="#f00" stroke="#000" stroke-width="0.6"/>
<rect x="472.0" y="301.9" width="4.4" height="4.4" fill="#f00" stroke="#000" stroke-width="0.6"/>
<rect x="472.4" y="301.3" width="4.4" height="4.4" fill="#f00" stroke="#000" stroke-width="0.6"/>
<rect x="473.4" y="299.9" width="4.4" height="4.4" fill="#f00" stroke="#000" stroke-width="0.6"/>
<rect x="474.0" y="302.1" width="4.4" height="4.4" fill="#f00" stroke="#000" stroke-width="0.6"/>
<rect x="474.6" y="300.3" width="4.4" height="4.4" fill="#f00" stroke="#000" stroke-width="0.6"/>
<rect x="474.8" y="303.0" width="4.4" height="4.4" fill="#f00" stroke="#000" stroke-width="0.6"/>
<rect x="475.8" y="301.2" width="4.4" height="4.4" fill="#f00" stroke="#000" stroke-width="0.6"/>
<rect x="476.0" y="299.9" width="4.4" height="4.4" fill="#f00" stroke="#000" stroke-width="0.6"/>
<rect x="476.9" y="300.6" width="4.4" height="4.4" fill="#f00" stroke="#000" stroke-width="0.6"/>
<rect x="477.7" y="302.6" width="4.4" height="4.4" fill="#f00" stroke="#000" stroke-width="0.6"/>
<rect x="477.8" y="303.3" width="4.4" height="4.4" fill="#f00" stroke="#000" stroke-width="0.6"/>
<rect x="478.5" y="305.5" width="4.4" height="4.4" fill="#f00" stroke="#000" stroke-width="0.6"/>
<rect x="479.4" y="302.7" width="4.4" height="4.4" fill="#f00" stroke="#000" stroke-width="0.6"/>
<rect x="479.9" y="304.3" width="4.4" height="4.4" fill="#f00" stroke="#000" stroke-width="0.6"/>
<rect x="480.6" y="306.7" width="4.4" height="4.4" fill="#f00" stroke="#000" stroke-width="0.6"/>
<rect x="480.7" y="302.0" width="4.4" height="4.4" fill="#f00" stroke="#000" stroke-width="0.6"/>
<rect x="481.7" y="301.8" width="4.4" height="4.4" fill="#f00" stroke="#000" stroke-width="0.6"/>
<rect x="482.3" y="300.3" width="4.4" height="4.4" fill="#f00" stroke="#000" stroke-width="0.6"/>
<rect x="483.0" y="303.8" width="4.4" height="4.4" fill="#f00" stroke="#000" stroke-width="0.6"/>
<rect x="483.2" y="305.0" width="4.4" height="4.4" fill="#f00" stroke="#000" stroke-width="0.6"/>
<rect x="483.9" y="301.8" width="4.4" height="4.4" fill="#f00" stroke="#000" stroke-width="0.6"/>
<rect x="484.6" y="301.6" width="4.4" height="4.4" fill="#f00" stroke="#000" stroke-width="0.6"/>
<rect x="485.0" y="306.9" width="4.4" height="4.4" fill="#f00" stroke="#000" stroke-width="0.6"/>
<rect x="485.9" y="301.1" width="4.4" height="4.4" fill="#f00" stroke="#000" stroke-width="0.6"/>
<rect x="486.6" y="301.4" width="4.4" height="4.4" fill="#f00" stroke="#000" stroke-width="0.6"/>
<rect x="486.9" y="307.6" width="4.4" height="4.4" fill="#f00" stroke="#000" stroke-width="0.6"/>
<rect x="487.7" y="303.8" width="4.4" height="4.4" fill="#f00" stroke="#000" stroke-width="0.6"/>
<rect x="488.1" y="304.5" width="4.4" height="4.4" fill="#f00" stroke="#000" stroke-width="0.6"/>
<rect x="488.6" y="308.3" width="4.4" height="4.4" fill="#f00" stroke="#000" stroke-width="0.6"/>
<rect x="489.1" y="305.0" width="4.4" height="4.4" fill="#f00" stroke="#000" stroke-width="0.6"/>
<rect x="490.1" y="304.9" width="4.4" height="4.4" fill="#f00" stroke="#000" stroke-width="0.6"/>
<rect x="490.9" y="304.2" width="4.4" height="4.4" fill="#f00" stroke="#000" stroke-width="0.6"/>
<rect x="491.5" y="307.8" width="4.4" height="4.4" fill="#f00" stroke="#000" stroke-width="0.6"/>
<rect x="491.9" y="307.8" width="4.4" height="4.4" fill="#f00" stroke="#000" stroke-width="0.6"/>
<rect x="492.4" y="307.5" width="4.4" height="4.4" fill="#f00" stroke="#000" stroke-width="0.6"/>
<rect x="493.2" y="306.1" width="4.4" height="4.4" fill="#f00" stroke="#000" stroke-width="0.6"/>
<rect x="493.6" y="307.0" width="4.4" height="4.4" fill="#f00" stroke="#000" stroke-width="0.6"/>
<rect x="494.1" y="304.3" width="4.4" height="4.4" fill="#f00" stroke="#000" stroke-width="0.6"/>
<rect x="494.9" y="305.2" width="4.4" height="4.4" fill="#f00" stroke="#000" stroke-width="0.6"/>
<rect x="495.4" y="307.5" width="4.4" height="4.4" fill="#f00" stroke="#000" stroke-width="0.6"/>
<rect x="495.8" y="304.6" width="4.4" height="4.4" fill="#f00" stroke="#000" stroke-width="0.6"/>
<rect x="496.4" y="307.3" width="4.4" height="4.4" fill="#f00" stroke="#000" stroke-width="0.6"/>
<rect x="497.1" y="306.5" width="4.4" height="4.4" fill="#f00" stroke="#000" stroke-width="0.6"/>
<rect x="497.8" y="309.4" width="4.4" height="4.4" fill="#f00" stroke="#000" stroke-width="0.6"/>
<rect x="498.3" y="307.9" width="4.4" height="4.4" fill="#f00" stroke="#000" stroke-width="0.6"/>
<rect x="499.2" y="309.1" width="4.4" height="4.4" fill="#f00" stroke="#000" stroke-width="0.6"/>
<rect x="499.5" y="309.0" width="4.4" height="4.4" fill="#f00" stroke="#000" stroke-width="0.6"/>
<rect x="500.2" y="308.4" width="4.4" height="4.4" fill="#f00" stroke="#000" stroke-width="0.6"/>
<rect x="500.7" y="309.4" width="4.4" height="4.4" fill="#f00" stroke="#000" stroke-width="0.6"/>
<rect x="501.6" y="309.9" width="4.4" height="4.4" fill="#f00" stroke="#000" stroke-width="0.6"/>
<rect x="502.1" y="312.1" width="4.4" height="4.4" fill="#f00" stroke="#000" stroke-width="0.6"/>
<rect x="502.9" y="310.8" width="4.4" height="4.4" fill="#f00" stroke="#000" stroke-width="0.6"/>
<rect x="503.3" y="311.0" width="4.4" height="4.4" fill="#f00" stroke="#000" stroke-width="0.6"/>
<rect x="503.7" y="311.7" width="4.4" height="4.4" fill="#f00" stroke="#000" stroke-width="0.6"/>
<rect x="504.6" y="313.2" width="4.4" height="4.4" fill="#f00" stroke="#000" stroke-width="0.6"/>
<rect x="504.9" y="311.0" width="4.4" height="4.4" fill="#f00" stroke="#000" stroke-width="0.6"/>
<rect x="505.6" y="311.5" width="4.4" height="4.4" fill="#f00" stroke="#000" stroke-width="0.6"/>
<rect x="505.9" y="313.7" width="4.4" height="4.4" fill="#f00" stroke="#000" stroke-width="0.6"/>
<rect x="506.6" y="313.8" width="4.4" height="4.4" fill="#f00" stroke="#000" stroke-width="0.6"/>
<rect x="507.3" y="314.7" width="4.4" height="4.4" fill="#f00" stroke="#000" stroke-width="0.6"/>
<rect x="508.2" y="312.7" width="4.4" height="4.4" fill="#f00" stroke="#000" stroke-width="0.6"/>
<rect x="508.4" y="315.4" width="4.4" height="4.4" fill="#f00" stroke="#000" stroke-width="0.6"/>
<rect x="509.3" y="314.2" width="4.4" height="4.4" fill="#f00" stroke="#000" stroke-width="0.6"/>
<rect x="510.0" y="315.6" width="4.4" height="4.4" fill="#f00" stroke="#000" stroke-width="0.6"/>
<rect x="510.4" y="315.0" width="4.4" height="4.4" fill="#f00" stroke="#000" stroke-width="0.6"/>
<rect x="510.8" y="315.1" width="4.4" height="4.4" fill="#f00" stroke="#000" stroke-width="0.6"/>
<rect x="511.4" y="316.4" width="4.4" height="4.4" fill="#f00" stroke="#000" stroke-width="0.6"/>
<rect x="512.3" y="315.1" width="4.4" height="4.4" fill="#f00" stroke="#000" stroke-width="0.6"/>
<rect x="512.9" y="315.3" width="4.4" height="4.4" fill="#f00" stroke="#000" stroke-width="0.6"/>
<rect x="513.2" y="317.8" width="4.4" height="4.4" fill="#f00" stroke="#000" stroke-width="0.6"/>
<rect x="514.0" y="319.3" width="4.4" height="4.4" fill="#f00" stroke="#000" stroke-width="0.6"/>
<rect x="514.7" y="318.9" width="4.4" height="4.4" fill="#f00" stroke="#000" stroke-width="0.6"/>
<rect x="515.0" y="320.0" width="4.4" height="4.4" fill="#f00" stroke="#000" stroke-width="0.6"/>
<rect x="515.6" y="319.2" width="4.4" height="4.4" fill="#f00" stroke="#000" stroke-width="0.6"/>
<rect x="516.6" y="320.8" width="4.4" height="4.4" fill="#f00" stroke="#000" stroke-width="0.6"/>
<rect x="517.2" y="318.7" width="4.4" height="4.4" fill="#f00" stroke="#000" stroke-width="0.6"/>
<rect x="517.7" y="320.6" width="4.4" height="4.4" fill="#f00" stroke="#000" stroke-width="0.6"/>
<rect x="518.0" y="321.6" width="4.4" height="4.4" fill="#f00" stroke="#000" stroke-width="0.6"/>
<rect x="519.0" y="319.1" width="4.4" height="4.4" fill="#f00" stroke="#000" stroke-width="0.6"/>
<rect x="519.6" y="319.3" width="4.4" height="4.4" fill="#f00" stroke="#000" stroke-width="0.6"/>
<rect x="519.9" y="321.0" width="4.4" height="4.4" fill="#f00" stroke="#000" stroke-width="0.6"/>
<rect x="520.3" y="321.7" width="4.4" height="4.4" fill="#f00" stroke="#000" stroke-width="0.6"/>
<rect x="521.5" y="318.8" width="4.4" height="4.4" fill="#f00" stroke="#000" stroke-width="0.6"/>
<rect x="522.1" y="317.7" width="4.4" height="4.4" fill="#f00" stroke="#000" stroke-width="0.6"/>
<rect x="522.6" y="319.2" width="4.4" height="4.4" fill="#f00" stroke="#000" stroke-width="0.6"/>
<rect x="523.3" y="320.6" width="4.4" height="4.4" fill="#f00" stroke="#000" stroke-width="0.6"/>
<rect x="523.9" y="318.1" width="4.4" height="4.4" fill="#f00" stroke="#000" stroke-width="0.6"/>
<rect x="524.0" y="324.8" width="4.4" height="4.4" fill="#f00" stroke="#000" stroke-width="0.6"/>
<rect x="524.9" y="323.2" width="4.4" height="4.4" fill="#f00" stroke="#000" stroke-width="0.6"/>
<rect x="525.1" y="320.9" width="4.4" height="4.4" fill="#f00" stroke="#000" stroke-width="0.6"/>
<rect x="525.9" y="320.4" width="4.4" height="4.4" fill="#f00" stroke="#000" stroke-width="0.6"/>
<rect x="526.9" y="327.1" width="4.4" height="4.4" fill="#f00" stroke="#000" stroke-width="0.6"/>
<rect x="527.5" y="327.2" width="4.4" height="4.4" fill="#f00" stroke="#000" stroke-width="0.6"/>
<rect x="527.7" y="322.1" width="4.4" height="4.4" fill="#f00" stroke="#000" stroke-width="0.6"/>
<rect x="528.5" y="322.8" width="4.4" height="4.4" fill="#f00" stroke="#000" stroke-width="0.6"/>
<rect x="529.0" y="326.3" width="4.4" height="4.4" fill="#f00" stroke="#000" stroke-width="0.6"/>
<rect x="529.6" y="323.4" width="4.4" height="4.4" fill="#f00" stroke="#000" stroke-width="0.6"/>
<rect x="529.9" y="327.4" width="4.4" height="4.4" fill="#f00" stroke="#000" stroke-width="0.6"/>
<rect x="530.5" y="327.7" width="4.4" height="4.4" fill="#f00" stroke="#000" stroke-width="0.6"/>
<rect x="531.2" y="326.2" width="4.4" height="4.4" fill="#f00" stroke="#000" stroke-width="0.6"/>
<rect x="531.8" y="328.6" width="4.4" height="4.4" fill="#f00" stroke="#000" stroke-width="0.6"/>
<rect x="532.5" y="326.6" width="4.4" height="4.4" fill="#f00" stroke="#000" stroke-width="0.6"/>
<rect x="533.0" y="329.2" width="4.4" height="4.4" fill="#f00" stroke="#000" stroke-width="0.6"/>
<rect x="534.0" y="328.6" width="4.4" height="4.4" fill="#f00" stroke="#000" stroke-width="0.6"/>
<rect x="534.2" y="328.3" width="4.4" height="4.4" fill="#f00" stroke="#000" stroke-width="0.6"/>
<rect x="534.8" y="330.1" width="4.4" height="4.4" fill="#f00" stroke="#000" stroke-width="0.6"/>
<rect x="535.8" y="330.4" width="4.4" height="4.4" fill="#f00" stroke="#000" stroke-width="0.6"/>
<rect x="536.0" y="329.5" width="4.4" height="4.4" fill="#f00" stroke="#000" stroke-width="0.6"/>
<rect x="536.7" y="330.4" width="4.4" height="4.4" fill="#f00" stroke="#000" stroke-width="0.6"/>
<rect x="537.3" y="333.0" width="4.4" height="4.4" fill="#f00" stroke="#000" stroke-width="0.6"/>
<rect x="538.0" y="331.9" width="4.4" height="4.4" fill="#f00" stroke="#000" stroke-width="0.6"/>
<rect x="538.7" y="332.1" width="4.4" height="4.4" fill="#f00" stroke="#000" stroke-width="0.6"/>
<rect x="468.2" y="299.6" width="4.4" height="4.4" fill="#f00" stroke="#000" stroke-width="0.6"/>
<rect x="467.4" y="302.6" width="4.4" height="4.4" fill="#f00" stroke="#000" stroke-width="0.6"/>
<rect x="470.7" y="299.3" width="4.4" height="4.4" fill="#f00" stroke="#000" stroke-width="0.6"/>
<rect x="470.5" y="302.9" width="4.4" height="4.4" fill="#f00" stroke="#000" stroke-width="0.6"/>
<rect x="473.1" y="299.0" width="4.4" height="4.4" fill="#f00" stroke="#000" stroke-width="0.6"/>
<rect x="473.1" y="303.5" width="4.4" height="4.4" fill="#f00" stroke="#000" stroke-width="0.6"/>
<rect x="475.5" y="298.8" width="4.4" height="4.4" fill="#f00" stroke="#000" stroke-width="0.6"/>
<rect x="475.8" y="303.8" width="4.4" height="4.4" fill="#f00" stroke="#000" stroke-width="0.6"/>
<rect x="478.6" y="299.2" width="4.4" height="4.4" fill="#f00" stroke="#000" stroke-width="0.6"/>
<rect x="478.2" y="305.6" width="4.4" height="4.4" fill="#f00" stroke="#000" stroke-width="0.6"/>
<rect x="480.4" y="299.1" width="4.4" height="4.4" fill="#f00" stroke="#000" stroke-width="0.6"/>
<rect x="480.8" y="306.9" width="4.4" height="4.4" fill="#f00" stroke="#000" stroke-width="0.6"/>
<rect x="483.3" y="300.6" width="4.4" height="4.4" fill="#f00" stroke="#000" stroke-width="0.6"/>
<rect x="483.4" y="307.2" width="4.4" height="4.4" fill="#f00" stroke="#000" stroke-width="0.6"/>
<rect x="485.8" y="301.2" width="4.4" height="4.4" fill="#f00" stroke="#000" stroke-width="0.6"/>
<rect x="485.9" y="308.0" width="4.4" height="4.4" fill="#f00" stroke="#000" stroke-width="0.6"/>
<rect x="488.6" y="302.8" width="4.4" height="4.4" fill="#f00" stroke="#000" stroke-width="0.6"/>
<rect x="488.7" y="308.2" width="4.4" height="4.4" fill="#f00" stroke="#000" stroke-width="0.6"/>
<rect x="491.5" y="303.5" width="4.4" height="4.4" fill="#f00" stroke="#000" stroke-width="0.6"/>
<rect x="491.4" y="307.8" width="4.4" height="4.4" fill="#f00" stroke="#000" stroke-width="0.6"/>
<rect x="494.0" y="304.3" width="4.4" height="4.4" fill="#f00" stroke="#000" stroke-width="0.6"/>
<rect x="493.7" y="307.8" width="4.4" height="4.4" fill="#f00" stroke="#000" stroke-width="0.6"/>
<rect x="496.8" y="305.0" width="4.4" height="4.4" fill="#f00" stroke="#000" stroke-width="0.6"/>
<rect x="496.6" y="308.3" width="4.4" height="4.4" fill="#f00" stroke="#000" stroke-width="0.6"/>
<rect x="499.0" y="307.3" width="4.4" height="4.4" fill="#f00" stroke="#000" stroke-width="0.6"/>
<rect x="499.0" y="309.8" width="4.4" height="4.4" fill="#f00" stroke="#000" stroke-width="0.6"/>
<rect x="501.6" y="309.6" width="4.4" height="4.4" fill="#f00" stroke="#000" stroke-width="0.6"/>
<rect x="501.5" y="311.4" width="4.4" height="4.4" fill="#f00" stroke="#000" stroke-width="0.6"/>
<rect x="504.5" y="310.9" width="4.4" height="4.4" fill="#f00" stroke="#000" stroke-width="0.6"/>
<rect x="504.3" y="312.7" width="4.4" height="4.4" fill="#f00" stroke="#000" stroke-width="0.6"/>
<rect x="507.0" y="312.2" width="4.4" height="4.4" fill="#f00" stroke="#000" stroke-width="0.6"/>
<rect x="506.6" y="314.4" width="4.4" height="4.4" fill="#f00" stroke="#000" stroke-width="0.6"/>
<rect x="509.6" y="313.3" width="4.4" height="4.4" fill="#f00" stroke="#000" stroke-width="0.6"/>
<rect x="509.7" y="315.7" width="4.4" height="4.4" fill="#f00" stroke="#000" stroke-width="0.6"/>
<rect x="512.3" y="314.7" width="4.4" height="4.4" fill="#f00" stroke="#000" stroke-width="0.6"/>
<rect x="512.4" y="317.5" width="4.4" height="4.4" fill="#f00" stroke="#000" stroke-width="0.6"/>
<rect x="514.6" y="316.1" width="4.4" height="4.4" fill="#f00" stroke="#000" stroke-width="0.6"/>
<rect x="514.7" y="319.9" width="4.4" height="4.4" fill="#f00" stroke="#000" stroke-width="0.6"/>
<rect x="517.0" y="316.6" width="4.4" height="4.4" fill="#f00" stroke="#000" stroke-width="0.6"/>
<rect x="517.2" y="321.0" width="4.4" height="4.4" fill="#f00" stroke="#000" stroke-width="0.6"/>
<rect x="519.9" y="316.9" width="4.4" height="4.4" fill="#f00" stroke="#000" stroke-width="0.6"/>
<rect x="520.1" y="322.1" width="4.4" height="4.4" fill="#f00" stroke="#000" stroke-width="0.6"/>
<rect x="522.7" y="317.4" width="4.4" height="4.4" fill="#f00" stroke="#000" stroke-width="0.6"/>
<rect x="522.6" y="324.0" width="4.4" height="4.4" fill="#f00" stroke="#000" stroke-width="0.6"/>
<rect x="525.1" y="319.2" width="4.4" height="4.4" fill="#f00" stroke="#000" stroke-width="0.6"/>
<rect x="524.8" y="326.7" width="4.4" height="4.4" fill="#f00" stroke="#000" stroke-width="0.6"/>
<rect x="527.3" y="321.5" width="4.4" height="4.4" fill="#f00" stroke="#000" stroke-width="0.6"/>
<rect x="527.9" y="330.2" width="4.4" height="4.4" fill="#f00" stroke="#000" stroke-width="0.6"/>
<rect x="530.0" y="323.7" width="4.4" height="4.4" fill="#f00" stroke="#000" stroke-width="0.6"/>
<rect x="530.1" y="330.8" width="4.4" height="4.4" fill="#f00" stroke="#000" stroke-width="0.6"/>
<rect x="532.4" y="325.4" width="4.4" height="4.4" fill="#f00" stroke="#000" stroke-width="0.6"/>
<rect x="532.5" y="331.4" width="4.4" height="4.4" fill="#f00" stroke="#000" stroke-width="0.6"/>
<rect x="535.1" y="327.9" width="4.4" height="4.4" fill="#f00" stroke="#000" stroke-width="0.6"/>
<rect x="535.0" y="332.1" width="4.4" height="4.4" fill="#f00" stroke="#000" stroke-width="0.6"/>
<rect x="537.6" y="329.7" width="4.4" height="4.4" fill="#f00" stroke="#000" stroke-width="0.6"/>
<rect x="538.3" y="333.1" width="4.4" height="4.4" fill="#f00" stroke="#000" stroke-width="0.6"/>
<rect x="506.8" y="321.4" width="4.4" height="4.4" fill="#f00" stroke="#000" stroke-width="0.6"/>
<rect x="510.0" y="312.8" width="4.4" height="4.4" fill="#f00" stroke="#000" stroke-width="0.6"/>
<rect x="515.2" y="315.8" width="4.4" height="4.4" fill="#f00" stroke="#000" stroke-width="0.6"/>
<rect x="523.6" y="316.8" width="4.4" height="4.4" fill="#f00" stroke="#000" stroke-width="0.6"/>
<rect x="527.5" y="319.7" width="4.4" height="4.4" fill="#f00" stroke="#000" stroke-width="0.6"/>
<rect x="527.5" y="323.0" width="4.4" height="4.4" fill="#f00" stroke="#000" stroke-width="0.6"/>
<rect x="517.8" y="329.4" width="4.4" height="4.4" fill="#f00" stroke="#000" stroke-width="0.6"/>
<rect x="520.4" y="328.1" width="4.4" height="4.4" fill="#f00" stroke="#000" stroke-width="0.6"/>
<rect x="524.3" y="328.8" width="4.4" height="4.4" fill="#f00" stroke="#000" stroke-width="0.6"/>
<rect x="536.9" y="323.7" width="4.4" height="4.4" fill="#f00" stroke="#000" stroke-width="0.6"/>
<rect x="540.0" y="329.6" width="4.4" height="4.4" fill="#f00" stroke="#000" stroke-width="0.6"/>
<rect x="517.5" y="331.9" width="4.4" height="4.4" fill="#f00" stroke="#000" stroke-width="0.6"/>
<rect x="533.0" y="331.5" width="4.4" height="4.4" fill="#f00" stroke="#000" stroke-width="0.6"/>
<rect x="525.6" y="327.2" width="4.4" height="4.4" fill="#f00" stroke="#000" stroke-width="0.6"/>
<rect x="521.8" y="329.8" width="4.4" height="4.4" fill="#f00" stroke="#000" stroke-width="0.6"/>
<rect x="529.5" y="329.8" width="4.4" height="4.4" fill="#f00" stroke="#000" stroke-width="0.6"/>
<rect x="535.4" y="329.8" width="4.4" height="4.4" fill="#f00" stroke="#000" stroke-width="0.6"/>
<rect x="540.5" y="329.6" width="4.4" height="4.4" fill="#f00" stroke="#000" stroke-width="0.6"/>
<rect x="536.7" y="324.0" width="4.4" height="4.4" fill="#f00" stroke="#000" stroke-width="0.6"/>
<rect x="536.7" y="334.7" width="4.4" height="4.4" fill="#f00" stroke="#000" stroke-width="0.6"/>
<rect x="544.4" y="334.7" width="4.4" height="4.4" fill="#f00" stroke="#000" stroke-width="0.6"/>
<rect x="554.6" y="334.7" width="4.4" height="4.4" fill="#f00" stroke="#000" stroke-width="0.6"/>
<rect x="554.8" y="334.7" width="4.4" height="4.4" fill="#f00" stroke="#000" stroke-width="0.6"/>
<rect x="559.6" y="334.7" width="4.4" height="4.4" fill="#f00" stroke="#000" stroke-width="0.6"/>
<rect x="565.2" y="334.7" width="4.4" height="4.4" fill="#f00" stroke="#000" stroke-width="0.6"/>
<rect x="595.0" y="334.7" width="4.4" height="4.4" fill="#f00" stroke="#000" stroke-width="0.6"/>
<rect x="518.5" y="338.5" width="4.4" height="4.4" fill="#f00" stroke="#000" stroke-width="0.6"/>
<rect x="526.9" y="338.5" width="4.4" height="4.4" fill="#f00" stroke="#000" stroke-width="0.6"/>
<rect x="534.7" y="338.5" width="4.4" height="4.4" fill="#f00" stroke="#000" stroke-width="0.6"/>
<rect x="543.8" y="338.5" width="4.4" height="4.4" fill="#f00" stroke="#000" stroke-width="0.6"/>
<rect x="546.8" y="338.5" width="4.4" height="4.4" fill="#f00" stroke="#000" stroke-width="0.6"/>
<rect x="552.2" y="338.5" width="4.4" height="4.4" fill="#f00" stroke="#000" stroke-width="0.6"/>
<rect x="552.7" y="338.5" width="4.4" height="4.4" fill="#f00" stroke="#000" stroke-width="0.6"/>
<rect x="529.9" y="343.9" width="4.4" height="4.4" fill="#f00" stroke="#000" stroke-width="0.6"/>
<rect x="539.3" y="343.9" width="4.4" height="4.4" fill="#f00" stroke="#000" stroke-width="0.6"/>
<rect x="547.0" y="343.9" width="4.4" height="4.4" fill="#f00" stroke="#000" stroke-width="0.6"/>
<rect x="547.6" y="343.9" width="4.4" height="4.4" fill="#f00" stroke="#000" stroke-width="0.6"/>
<rect x="553.8" y="343.9" width="4.4" height="4.4" fill="#f00" stroke="#000" stroke-width="0.6"/>
<rect x="554.8" y="343.9" width="4.4" height="4.4" fill="#f00" stroke="#000" stroke-width="0.6"/>
<rect x="556.4" y="343.9" width="4.4" height="4.4" fill="#f00" stroke="#000" stroke-width="0.6"/>
<rect x="570.9" y="343.9" width="4.4" height="4.4" fill="#f00" stroke="#000" stroke-width="0.6"/>
<rect x="574.8" y="343.9" width="4.4" height="4.4" fill="#f00" stroke="#000" stroke-width="0.6"/>
<rect x="578.7" y="343.9" width="4.4" height="4.4" fill="#f00" stroke="#000" stroke-width="0.6"/>
<rect x="534.7" y="353.0" width="4.4" height="4.4" fill="#f00" stroke="#000" stroke-width="0.6"/>
<rect x="541.2" y="353.0" width="4.4" height="4.4" fill="#f00" stroke="#000" stroke-width="0.6"/>
<rect x="543.4" y="353.0" width="4.4" height="4.4" fill="#f00" stroke="#000" stroke-width="0.6"/>
<rect x="545.6" y="353.0" width="4.4" height="4.4" fill="#f00" stroke="#000" stroke-width="0.6"/>
<rect x="547.8" y="353.0" width="4.4" height="4.4" fill="#f00" stroke="#000" stroke-width="0.6"/>
<rect x="550.0" y="353.0" width="4.4" height="4.4" fill="#f00" stroke="#000" stroke-width="0.6"/>
<rect x="552.3" y="353.0" width="4.4" height="4.4" fill="#f00" stroke="#000" stroke-width="0.6"/>
<rect x="554.5" y="353.0" width="4.4" height="4.4" fill="#f00" stroke="#000" stroke-width="0.6"/>
<rect x="556.7" y="353.0" width="4.4" height="4.4" fill="#f00" stroke="#000" stroke-width="0.6"/>
<rect x="558.9" y="353.0" width="4.4" height="4.4" fill="#f00" stroke="#000" stroke-width="0.6"/>
<rect x="561.1" y="353.0" width="4.4" height="4.4" fill="#f00" stroke="#000" stroke-width="0.6"/>
<rect x="563.3" y="353.0" width="4.4" height="4.4" fill="#f00" stroke="#000" stroke-width="0.6"/>
<rect x="565.5" y="353.0" width="4.4" height="4.4" fill="#f00" stroke="#000" stroke-width="0.6"/>
<rect x="567.7" y="353.0" width="4.4" height="4.4" fill="#f00" stroke="#000" stroke-width="0.6"/>
<rect x="570.0" y="353.0" width="4.4" height="4.4" fill="#f00" stroke="#000" stroke-width="0.6"/>
<rect x="572.2" y="353.0" width="4.4" height="4.4" fill="#f00" stroke="#000" stroke-width="0.6"/>
<rect x="574.4" y="353.0" width="4.4" height="4.4" fill="#f00" stroke="#000" stroke-width="0.6"/>
<rect x="576.6" y="353.0" width="4.4" height="4.4" fill="#f00" stroke="#000" stroke-width="0.6"/>
<rect x="583.0" y="353.0" width="4.4" height="4.4" fill="#f00" stroke="#000" stroke-width="0.6"/>
<rect x="585.2" y="353.0" width="4.4" height="4.4" fill="#f00" stroke="#000" stroke-width="0.6"/>
<rect x="587.5" y="353.0" width="4.4" height="4.4" fill="#f00" stroke="#000" stroke-width="0.6"/>
<rect x="589.7" y="353.0" width="4.4" height="4.4" fill="#f00" stroke="#000" stroke-width="0.6"/>
<rect x="591.9" y="353.0" width="4.4" height="4.4" fill="#f00" stroke="#000" stroke-width="0.6"/>
<rect x="594.1" y="353.0" width="4.4" height="4.4" fill="#f00" stroke="#000" stroke-width="0.6"/>
<rect x="596.3" y="353.0" width="4.4" height="4.4" fill="#f00" stroke="#000" stroke-width="0.6"/>
<rect x="598.6" y="353.0" width="4.4" height="4.4" fill="#f00" stroke="#000" stroke-width="0.6"/>
<rect x="600.8" y="353.0" width="4.4" height="4.4" fill="#f00" stroke="#000" stroke-width="0.6"/>
<line x1="368" y1="347.5" x2="368" y2="353.5" stroke="#bbb" stroke-width="0.8" stroke-dasharray="1,1"/>
<line x1="370.5" y1="347.5" x2="370.5" y2="353.5" stroke="#bbb" stroke-width="0.8" stroke-dasharray="1,1"/>
<line x1="373" y1="347.5" x2="373" y2="353.5" stroke="#bbb" stroke-width="0.8" stroke-dasharray="1,1"/>
<line x1="375.5" y1="347.5" x2="375.5" y2="353.5" stroke="#bbb" stroke-width="0.8" stroke-dasharray="1,1"/>
<line x1="378" y1="347.5" x2="378" y2="353.5" stroke="#bbb" stroke-width="0.8" stroke-dasharray="1,1"/>
<line x1="537.6" y1="343" x2="537.6" y2="354" stroke="#bbb" stroke-width="0.8" stroke-dasharray="1,1"/>
<line x1="544.7" y1="343" x2="544.7" y2="354" stroke="#bbb" stroke-width="0.8" stroke-dasharray="1,1"/>
<line x1="549.2" y1="348" x2="549.2" y2="354" stroke="#bbb" stroke-width="0.8" stroke-dasharray="1,1"/>
<line x1="556.3" y1="339" x2="556.3" y2="354" stroke="#bbb" stroke-width="0.8" stroke-dasharray="1,1"/>
<line x1="566.9" y1="339" x2="566.9" y2="351" stroke="#bbb" stroke-width="0.8" stroke-dasharray="1,1"/>
<line x1="573.1" y1="348" x2="573.1" y2="354" stroke="#bbb" stroke-width="0.8" stroke-dasharray="1,1"/>
<line x1="536.9" y1="338" x2="536.9" y2="345" stroke="#bbb" stroke-width="0.8" stroke-dasharray="1,1"/>
<circle cx="361.7" cy="332.1" r="2.3" fill="#00f" stroke="#7878a0" stroke-width="0.6"/>
<circle cx="364.9" cy="346.0" r="2.3" fill="#00f" stroke="#7878a0" stroke-width="0.6"/>
<circle cx="362.0" cy="318.0" r="2.3" fill="#00f" stroke="#7878a0" stroke-width="0.6"/>
<circle cx="363.5" cy="326.0" r="2.3" fill="#00f" stroke="#7878a0" stroke-width="0.6"/>
<circle cx="366.5" cy="336.0" r="2.3" fill="#00f" stroke="#7878a0" stroke-width="0.6"/>
<circle cx="368.5" cy="341.0" r="2.3" fill="#00f" stroke="#7878a0" stroke-width="0.6"/>
<circle cx="370.5" cy="336.8" r="2.3" fill="#00f" stroke="#7878a0" stroke-width="0.6"/>
<circle cx="377.5" cy="355.2" r="2.3" fill="#00f" stroke="#7878a0" stroke-width="0.6"/>
<circle cx="372.0" cy="355.2" r="2.3" fill="#00f" stroke="#7878a0" stroke-width="0.6"/>
<circle cx="357.9" cy="290.0" r="2.3" fill="#8c8c8c" stroke="#7a7a7a" stroke-width="0.6"/>
<circle cx="357.9" cy="291.6" r="2.3" fill="#8c8c8c" stroke="#7a7a7a" stroke-width="0.6"/>
<circle cx="359.8" cy="291.6" r="2.3" fill="#8c8c8c" stroke="#7a7a7a" stroke-width="0.6"/>
<circle cx="357.9" cy="293.2" r="2.3" fill="#8c8c8c" stroke="#7a7a7a" stroke-width="0.6"/>
<circle cx="359.7" cy="293.2" r="2.3" fill="#8c8c8c" stroke="#7a7a7a" stroke-width="0.6"/>
<circle cx="358.1" cy="294.8" r="2.3" fill="#8c8c8c" stroke="#7a7a7a" stroke-width="0.6"/>
<circle cx="359.5" cy="294.8" r="2.3" fill="#8c8c8c" stroke="#7a7a7a" stroke-width="0.6"/>
<circle cx="358.3" cy="296.4" r="2.3" fill="#8c8c8c" stroke="#7a7a7a" stroke-width="0.6"/>
<circle cx="359.6" cy="296.4" r="2.3" fill="#8c8c8c" stroke="#7a7a7a" stroke-width="0.6"/>
<circle cx="358.4" cy="298.0" r="2.3" fill="#8c8c8c" stroke="#7a7a7a" stroke-width="0.6"/>
<circle cx="359.8" cy="298.0" r="2.3" fill="#8c8c8c" stroke="#7a7a7a" stroke-width="0.6"/>
<circle cx="358.3" cy="299.6" r="2.3" fill="#8c8c8c" stroke="#7a7a7a" stroke-width="0.6"/>
<circle cx="360.1" cy="299.6" r="2.3" fill="#8c8c8c" stroke="#7a7a7a" stroke-width="0.6"/>
<circle cx="358.9" cy="301.2" r="2.3" fill="#8c8c8c" stroke="#7a7a7a" stroke-width="0.6"/>
<circle cx="360.1" cy="301.2" r="2.3" fill="#8c8c8c" stroke="#7a7a7a" stroke-width="0.6"/>
<circle cx="358.7" cy="302.8" r="2.3" fill="#8c8c8c" stroke="#7a7a7a" stroke-width="0.6"/>
<circle cx="360.5" cy="302.8" r="2.3" fill="#8c8c8c" stroke="#7a7a7a" stroke-width="0.6"/>
<circle cx="359.2" cy="304.4" r="2.3" fill="#8c8c8c" stroke="#7a7a7a" stroke-width="0.6"/>
<circle cx="360.6" cy="304.4" r="2.3" fill="#8c8c8c" stroke="#7a7a7a" stroke-width="0.6"/>
<circle cx="359.0" cy="306.0" r="2.3" fill="#8c8c8c" stroke="#7a7a7a" stroke-width="0.6"/>
<circle cx="361.0" cy="306.0" r="2.3" fill="#8c8c8c" stroke="#7a7a7a" stroke-width="0.6"/>
<circle cx="358.9" cy="307.6" r="2.3" fill="#8c8c8c" stroke="#7a7a7a" stroke-width="0.6"/>
<circle cx="361.0" cy="307.6" r="2.3" fill="#8c8c8c" stroke="#7a7a7a" stroke-width="0.6"/>
<circle cx="362.3" cy="307.6" r="2.3" fill="#8c8c8c" stroke="#7a7a7a" stroke-width="0.6"/>
<circle cx="359.1" cy="309.2" r="2.3" fill="#8c8c8c" stroke="#7a7a7a" stroke-width="0.6"/>
<circle cx="360.7" cy="309.2" r="2.3" fill="#8c8c8c" stroke="#7a7a7a" stroke-width="0.6"/>
<circle cx="362.4" cy="309.2" r="2.3" fill="#8c8c8c" stroke="#7a7a7a" stroke-width="0.6"/>
<circle cx="359.7" cy="310.8" r="2.3" fill="#8c8c8c" stroke="#7a7a7a" stroke-width="0.6"/>
<circle cx="361.0" cy="310.8" r="2.3" fill="#8c8c8c" stroke="#7a7a7a" stroke-width="0.6"/>
<circle cx="362.8" cy="310.8" r="2.3" fill="#8c8c8c" stroke="#7a7a7a" stroke-width="0.6"/>
<circle cx="359.9" cy="312.4" r="2.3" fill="#8c8c8c" stroke="#7a7a7a" stroke-width="0.6"/>
<circle cx="361.4" cy="312.4" r="2.3" fill="#8c8c8c" stroke="#7a7a7a" stroke-width="0.6"/>
<circle cx="363.1" cy="312.4" r="2.3" fill="#8c8c8c" stroke="#7a7a7a" stroke-width="0.6"/>
<circle cx="359.9" cy="314.0" r="2.3" fill="#8c8c8c" stroke="#7a7a7a" stroke-width="0.6"/>
<circle cx="361.5" cy="314.0" r="2.3" fill="#8c8c8c" stroke="#7a7a7a" stroke-width="0.6"/>
<circle cx="363.1" cy="314.0" r="2.3" fill="#8c8c8c" stroke="#7a7a7a" stroke-width="0.6"/>
<circle cx="360.5" cy="315.6" r="2.3" fill="#8c8c8c" stroke="#7a7a7a" stroke-width="0.6"/>
<circle cx="362.0" cy="315.6" r="2.3" fill="#8c8c8c" stroke="#7a7a7a" stroke-width="0.6"/>
<circle cx="363.5" cy="315.6" r="2.3" fill="#8c8c8c" stroke="#7a7a7a" stroke-width="0.6"/>
<circle cx="360.7" cy="317.2" r="2.3" fill="#8c8c8c" stroke="#7a7a7a" stroke-width="0.6"/>
<circle cx="362.3" cy="317.2" r="2.3" fill="#8c8c8c" stroke="#7a7a7a" stroke-width="0.6"/>
<circle cx="363.8" cy="317.2" r="2.3" fill="#8c8c8c" stroke="#7a7a7a" stroke-width="0.6"/>
<circle cx="361.2" cy="318.8" r="2.3" fill="#8c8c8c" stroke="#7a7a7a" stroke-width="0.6"/>
<circle cx="362.7" cy="318.8" r="2.3" fill="#8c8c8c" stroke="#7a7a7a" stroke-width="0.6"/>
<circle cx="364.0" cy="318.8" r="2.3" fill="#8c8c8c" stroke="#7a7a7a" stroke-width="0.6"/>
<circle cx="361.3" cy="320.4" r="2.3" fill="#8c8c8c" stroke="#7a7a7a" stroke-width="0.6"/>
<circle cx="362.9" cy="320.4" r="2.3" fill="#8c8c8c" stroke="#7a7a7a" stroke-width="0.6"/>
<circle cx="364.7" cy="320.4" r="2.3" fill="#8c8c8c" stroke="#7a7a7a" stroke-width="0.6"/>
<circle cx="361.8" cy="322.0" r="2.3" fill="#8c8c8c" stroke="#7a7a7a" stroke-width="0.6"/>
<circle cx="363.1" cy="322.0" r="2.3" fill="#8c8c8c" stroke="#7a7a7a" stroke-width="0.6"/>
<circle cx="365.1" cy="322.0" r="2.3" fill="#8c8c8c" stroke="#7a7a7a" stroke-width="0.6"/>
<circle cx="361.8" cy="323.6" r="2.3" fill="#8c8c8c" stroke="#7a7a7a" stroke-width="0.6"/>
<circle cx="363.5" cy="323.6" r="2.3" fill="#8c8c8c" stroke="#7a7a7a" stroke-width="0.6"/>
<circle cx="365.3" cy="323.6" r="2.3" fill="#8c8c8c" stroke="#7a7a7a" stroke-width="0.6"/>
<circle cx="366.6" cy="323.6" r="2.3" fill="#8c8c8c" stroke="#7a7a7a" stroke-width="0.6"/>
<circle cx="362.3" cy="325.2" r="2.3" fill="#8c8c8c" stroke="#7a7a7a" stroke-width="0.6"/>
<circle cx="363.7" cy="325.2" r="2.3" fill="#8c8c8c" stroke="#7a7a7a" stroke-width="0.6"/>
<circle cx="365.6" cy="325.2" r="2.3" fill="#8c8c8c" stroke="#7a7a7a" stroke-width="0.6"/>
<circle cx="367.3" cy="325.2" r="2.3" fill="#8c8c8c" stroke="#7a7a7a" stroke-width="0.6"/>
<circle cx="362.7" cy="326.8" r="2.3" fill="#8c8c8c" stroke="#7a7a7a" stroke-width="0.6"/>
<circle cx="364.5" cy="326.8" r="2.3" fill="#8c8c8c" stroke="#7a7a7a" stroke-width="0.6"/>
<circle cx="365.8" cy="326.8" r="2.3" fill="#8c8c8c" stroke="#7a7a7a" stroke-width="0.6"/>
<circle cx="367.6" cy="326.8" r="2.3" fill="#8c8c8c" stroke="#7a7a7a" stroke-width="0.6"/>
<circle cx="363.1" cy="328.4" r="2.3" fill="#8c8c8c" stroke="#7a7a7a" stroke-width="0.6"/>
<circle cx="364.7" cy="328.4" r="2.3" fill="#8c8c8c" stroke="#7a7a7a" stroke-width="0.6"/>
<circle cx="366.2" cy="328.4" r="2.3" fill="#8c8c8c" stroke="#7a7a7a" stroke-width="0.6"/>
<circle cx="368.1" cy="328.4" r="2.3" fill="#8c8c8c" stroke="#7a7a7a" stroke-width="0.6"/>
<circle cx="363.7" cy="330.0" r="2.3" fill="#8c8c8c" stroke="#7a7a7a" stroke-width="0.6"/>
<circle cx="365.0" cy="330.0" r="2.3" fill="#8c8c8c" stroke="#7a7a7a" stroke-width="0.6"/>
<circle cx="366.7" cy="330.0" r="2.3" fill="#8c8c8c" stroke="#7a7a7a" stroke-width="0.6"/>
<circle cx="367.9" cy="330.0" r="2.3" fill="#8c8c8c" stroke="#7a7a7a" stroke-width="0.6"/>
<circle cx="369.9" cy="330.0" r="2.3" fill="#8c8c8c" stroke="#7a7a7a" stroke-width="0.6"/>
<circle cx="363.9" cy="331.6" r="2.3" fill="#8c8c8c" stroke="#7a7a7a" stroke-width="0.6"/>
<circle cx="365.7" cy="331.6" r="2.3" fill="#8c8c8c" stroke="#7a7a7a" stroke-width="0.6"/>
<circle cx="367.2" cy="331.6" r="2.3" fill="#8c8c8c" stroke="#7a7a7a" stroke-width="0.6"/>
<circle cx="368.5" cy="331.6" r="2.3" fill="#8c8c8c" stroke="#7a7a7a" stroke-width="0.6"/>
<circle cx="370.1" cy="331.6" r="2.3" fill="#8c8c8c" stroke="#7a7a7a" stroke-width="0.6"/>
<circle cx="364.3" cy="333.2" r="2.3" fill="#8c8c8c" stroke="#7a7a7a" stroke-width="0.6"/>
<circle cx="365.5" cy="333.2" r="2.3" fill="#8c8c8c" stroke="#7a7a7a" stroke-width="0.6"/>
<circle cx="367.3" cy="333.2" r="2.3" fill="#8c8c8c" stroke="#7a7a7a" stroke-width="0.6"/>
<circle cx="368.8" cy="333.2" r="2.3" fill="#8c8c8c" stroke="#7a7a7a" stroke-width="0.6"/>
<circle cx="370.3" cy="333.2" r="2.3" fill="#8c8c8c" stroke="#7a7a7a" stroke-width="0.6"/>
<circle cx="364.3" cy="334.8" r="2.3" fill="#8c8c8c" stroke="#7a7a7a" stroke-width="0.6"/>
<circle cx="366.3" cy="334.8" r="2.3" fill="#8c8c8c" stroke="#7a7a7a" stroke-width="0.6"/>
<circle cx="367.5" cy="334.8" r="2.3" fill="#8c8c8c" stroke="#7a7a7a" stroke-width="0.6"/>
<circle cx="369.2" cy="334.8" r="2.3" fill="#8c8c8c" stroke="#7a7a7a" stroke-width="0.6"/>
<circle cx="370.9" cy="334.8" r="2.3" fill="#8c8c8c" stroke="#7a7a7a" stroke-width="0.6"/>
<circle cx="365.2" cy="336.4" r="2.3" fill="#8c8c8c" stroke="#7a7a7a" stroke-width="0.6"/>
<circle cx="366.3" cy="336.4" r="2.3" fill="#8c8c8c" stroke="#7a7a7a" stroke-width="0.6"/>
<circle cx="368.1" cy="336.4" r="2.3" fill="#8c8c8c" stroke="#7a7a7a" stroke-width="0.6"/>
<circle cx="369.8" cy="336.4" r="2.3" fill="#8c8c8c" stroke="#7a7a7a" stroke-width="0.6"/>
<circle cx="371.6" cy="336.4" r="2.3" fill="#8c8c8c" stroke="#7a7a7a" stroke-width="0.6"/>
<circle cx="365.5" cy="338.0" r="2.3" fill="#8c8c8c" stroke="#7a7a7a" stroke-width="0.6"/>
<circle cx="367.1" cy="338.0" r="2.3" fill="#8c8c8c" stroke="#7a7a7a" stroke-width="0.6"/>
<circle cx="368.4" cy="338.0" r="2.3" fill="#8c8c8c" stroke="#7a7a7a" stroke-width="0.6"/>
<circle cx="370.1" cy="338.0" r="2.3" fill="#8c8c8c" stroke="#7a7a7a" stroke-width="0.6"/>
<circle cx="371.6" cy="338.0" r="2.3" fill="#8c8c8c" stroke="#7a7a7a" stroke-width="0.6"/>
<circle cx="365.9" cy="339.6" r="2.3" fill="#8c8c8c" stroke="#7a7a7a" stroke-width="0.6"/>
<circle cx="367.6" cy="339.6" r="2.3" fill="#8c8c8c" stroke="#7a7a7a" stroke-width="0.6"/>
<circle cx="368.7" cy="339.6" r="2.3" fill="#8c8c8c" stroke="#7a7a7a" stroke-width="0.6"/>
<circle cx="370.3" cy="339.6" r="2.3" fill="#8c8c8c" stroke="#7a7a7a" stroke-width="0.6"/>
<circle cx="371.9" cy="339.6" r="2.3" fill="#8c8c8c" stroke="#7a7a7a" stroke-width="0.6"/>
<circle cx="366.0" cy="341.2" r="2.3" fill="#8c8c8c" stroke="#7a7a7a" stroke-width="0.6"/>
<circle cx="367.8" cy="341.2" r="2.3" fill="#8c8c8c" stroke="#7a7a7a" stroke-width="0.6"/>
<circle cx="369.4" cy="341.2" r="2.3" fill="#8c8c8c" stroke="#7a7a7a" stroke-width="0.6"/>
<circle cx="370.8" cy="341.2" r="2.3" fill="#8c8c8c" stroke="#7a7a7a" stroke-width="0.6"/>
<circle cx="372.3" cy="341.2" r="2.3" fill="#8c8c8c" stroke="#7a7a7a" stroke-width="0.6"/>
<circle cx="366.6" cy="342.8" r="2.3" fill="#8c8c8c" stroke="#7a7a7a" stroke-width="0.6"/>
<circle cx="368.2" cy="342.8" r="2.3" fill="#8c8c8c" stroke="#7a7a7a" stroke-width="0.6"/>
<circle cx="369.9" cy="342.8" r="2.3" fill="#8c8c8c" stroke="#7a7a7a" stroke-width="0.6"/>
<circle cx="371.7" cy="342.8" r="2.3" fill="#8c8c8c" stroke="#7a7a7a" stroke-width="0.6"/>
<circle cx="373.2" cy="342.8" r="2.3" fill="#8c8c8c" stroke="#7a7a7a" stroke-width="0.6"/>
<circle cx="367.0" cy="346.0" r="2.3" fill="#8c8c8c" stroke="#7a7a7a" stroke-width="0.6"/>
<circle cx="368.5" cy="346.0" r="2.3" fill="#8c8c8c" stroke="#7a7a7a" stroke-width="0.6"/>
<circle cx="370.0" cy="346.0" r="2.3" fill="#8c8c8c" stroke="#7a7a7a" stroke-width="0.6"/>
<circle cx="371.5" cy="346.0" r="2.3" fill="#8c8c8c" stroke="#7a7a7a" stroke-width="0.6"/>
<circle cx="373.0" cy="346.0" r="2.3" fill="#8c8c8c" stroke="#7a7a7a" stroke-width="0.6"/>
<circle cx="374.5" cy="346.0" r="2.3" fill="#8c8c8c" stroke="#7a7a7a" stroke-width="0.6"/>
<circle cx="376.0" cy="346.0" r="2.3" fill="#8c8c8c" stroke="#7a7a7a" stroke-width="0.6"/>
<circle cx="377.5" cy="346.0" r="2.3" fill="#8c8c8c" stroke="#7a7a7a" stroke-width="0.6"/>
<circle cx="367.2" cy="355.2" r="2.3" fill="#8c8c8c" stroke="#7a7a7a" stroke-width="0.6"/>
<circle cx="368.8" cy="355.2" r="2.3" fill="#8c8c8c" stroke="#7a7a7a" stroke-width="0.6"/>
<circle cx="370.5" cy="355.2" r="2.3" fill="#8c8c8c" stroke="#7a7a7a" stroke-width="0.6"/>
<circle cx="372.1" cy="355.2" r="2.3" fill="#8c8c8c" stroke="#7a7a7a" stroke-width="0.6"/>
<circle cx="373.7" cy="355.2" r="2.3" fill="#8c8c8c" stroke="#7a7a7a" stroke-width="0.6"/>
<circle cx="375.3" cy="355.2" r="2.3" fill="#8c8c8c" stroke="#7a7a7a" stroke-width="0.6"/>
<circle cx="377.0" cy="355.2" r="2.3" fill="#8c8c8c" stroke="#7a7a7a" stroke-width="0.6"/>
<circle cx="378.6" cy="355.2" r="2.3" fill="#8c8c8c" stroke="#7a7a7a" stroke-width="0.6"/>
<circle cx="380.2" cy="355.2" r="2.3" fill="#8c8c8c" stroke="#7a7a7a" stroke-width="0.6"/>
<circle cx="381.9" cy="355.2" r="2.3" fill="#8c8c8c" stroke="#7a7a7a" stroke-width="0.6"/>
<circle cx="383.5" cy="355.2" r="2.3" fill="#8c8c8c" stroke="#7a7a7a" stroke-width="0.6"/>
<circle cx="385.1" cy="355.2" r="2.3" fill="#8c8c8c" stroke="#7a7a7a" stroke-width="0.6"/>
<circle cx="386.7" cy="355.2" r="2.3" fill="#8c8c8c" stroke="#7a7a7a" stroke-width="0.6"/>
<circle cx="388.4" cy="355.2" r="2.3" fill="#8c8c8c" stroke="#7a7a7a" stroke-width="0.6"/>
<circle cx="390.0" cy="355.2" r="2.3" fill="#8c8c8c" stroke="#7a7a7a" stroke-width="0.6"/>
<circle cx="391.6" cy="355.2" r="2.3" fill="#8c8c8c" stroke="#7a7a7a" stroke-width="0.6"/>
<circle cx="393.2" cy="355.2" r="2.3" fill="#8c8c8c" stroke="#7a7a7a" stroke-width="0.6"/>
<circle cx="394.9" cy="355.2" r="2.3" fill="#8c8c8c" stroke="#7a7a7a" stroke-width="0.6"/>
<circle cx="396.5" cy="355.2" r="2.3" fill="#8c8c8c" stroke="#7a7a7a" stroke-width="0.6"/>
<circle cx="356.2" cy="204.5" r="2.3" fill="#00f" stroke="#7878a0" stroke-width="0.6"/>
<circle cx="356.2" cy="216.4" r="2.3" fill="#00f" stroke="#7878a0" stroke-width="0.6"/>
<circle cx="359.3" cy="292.0" r="2.3" fill="#00f" stroke="#7878a0" stroke-width="0.6"/>
<circle cx="360.3" cy="295.5" r="2.3" fill="#00f" stroke="#7878a0" stroke-width="0.6"/>
<circle cx="361.2" cy="298.9" r="2.3" fill="#00f" stroke="#7878a0" stroke-width="0.6"/>
<circle cx="361.9" cy="302.5" r="2.3" fill="#00f" stroke="#7878a0" stroke-width="0.6"/>
<circle cx="362.7" cy="306.0" r="2.3" fill="#00f" stroke="#7878a0" stroke-width="0.6"/>
<circle cx="363.5" cy="309.5" r="2.3" fill="#00f" stroke="#7878a0" stroke-width="0.6"/>
<circle cx="364.2" cy="313.0" r="2.3" fill="#00f" stroke="#7878a0" stroke-width="0.6"/>
<circle cx="365.0" cy="316.5" r="2.3" fill="#00f" stroke="#7878a0" stroke-width="0.6"/>
<circle cx="366.3" cy="319.9" r="2.3" fill="#00f" stroke="#7878a0" stroke-width="0.6"/>
<circle cx="367.7" cy="323.2" r="2.3" fill="#00f" stroke="#7878a0" stroke-width="0.6"/>
<circle cx="369.4" cy="326.4" r="2.3" fill="#00f" stroke="#7878a0" stroke-width="0.6"/>
<circle cx="371.1" cy="329.5" r="2.3" fill="#00f" stroke="#7878a0" stroke-width="0.6"/>
<circle cx="371.8" cy="332.1" r="2.3" fill="#00f" stroke="#7878a0" stroke-width="0.6"/>
<circle cx="371.1" cy="331.9" r="2.3" fill="#00f" stroke="#7878a0" stroke-width="0.6"/>
<circle cx="373.8" cy="336.8" r="2.3" fill="#00f" stroke="#7878a0" stroke-width="0.6"/>
<circle cx="378.9" cy="336.8" r="2.3" fill="#00f" stroke="#7878a0" stroke-width="0.6"/>
<circle cx="374.2" cy="337.1" r="2.3" fill="#00f" stroke="#7878a0" stroke-width="0.6"/>
<circle cx="374.2" cy="340.7" r="2.3" fill="#00f" stroke="#7878a0" stroke-width="0.6"/>
<circle cx="377.8" cy="340.7" r="2.3" fill="#00f" stroke="#7878a0" stroke-width="0.6"/>
<circle cx="376.5" cy="346.0" r="2.3" fill="#00f" stroke="#7878a0" stroke-width="0.6"/>
<circle cx="379.9" cy="346.0" r="2.3" fill="#00f" stroke="#7878a0" stroke-width="0.6"/>
<circle cx="384.9" cy="346.0" r="2.3" fill="#00f" stroke="#7878a0" stroke-width="0.6"/>
<circle cx="394.5" cy="346.0" r="2.3" fill="#00f" stroke="#7878a0" stroke-width="0.6"/>
<circle cx="385.3" cy="355.2" r="2.3" fill="#00f" stroke="#7878a0" stroke-width="0.6"/>
<circle cx="390.3" cy="355.2" r="2.3" fill="#00f" stroke="#7878a0" stroke-width="0.6"/>
<circle cx="398.4" cy="355.2" r="2.3" fill="#00f" stroke="#7878a0" stroke-width="0.6"/>
<circle cx="401.2" cy="355.2" r="2.3" fill="#00f" stroke="#7878a0" stroke-width="0.6"/>
<circle cx="404.1" cy="355.2" r="2.3" fill="#00f" stroke="#7878a0" stroke-width="0.6"/>
<circle cx="406.6" cy="355.2" r="2.3" fill="#00f" stroke="#7878a0" stroke-width="0.6"/>
<circle cx="407.1" cy="355.2" r="2.3" fill="#00f" stroke="#7878a0" stroke-width="0.6"/>
<circle cx="413.3" cy="355.2" r="2.3" fill="#00f" stroke="#7878a0" stroke-width="0.6"/>
<circle cx="422.3" cy="355.2" r="2.3" fill="#00f" stroke="#7878a0" stroke-width="0.6"/>
<circle cx="449.3" cy="355.2" r="2.3" fill="#00f" stroke="#7878a0" stroke-width="0.6"/>
<circle cx="356.1" cy="233.8" r="2.3" fill="#00f" stroke="#8a8a9a" stroke-width="0.8"/>
<circle cx="356.1" cy="235.9" r="2.3" fill="#00f" stroke="#8a8a9a" stroke-width="0.8"/>
<circle cx="356.1" cy="238.0" r="2.3" fill="#00f" stroke="#8a8a9a" stroke-width="0.8"/>
<circle cx="356.2" cy="240.1" r="2.3" fill="#00f" stroke="#8a8a9a" stroke-width="0.8"/>
<circle cx="356.2" cy="242.2" r="2.3" fill="#00f" stroke="#8a8a9a" stroke-width="0.8"/>
<circle cx="356.2" cy="244.3" r="2.3" fill="#00f" stroke="#8a8a9a" stroke-width="0.8"/>
<circle cx="356.2" cy="246.4" r="2.3" fill="#00f" stroke="#8a8a9a" stroke-width="0.8"/>
<circle cx="356.3" cy="248.5" r="2.3" fill="#00f" stroke="#8a8a9a" stroke-width="0.8"/>
<circle cx="356.3" cy="250.6" r="2.3" fill="#00f" stroke="#8a8a9a" stroke-width="0.8"/>
<circle cx="356.3" cy="252.7" r="2.3" fill="#00f" stroke="#8a8a9a" stroke-width="0.8"/>
<circle cx="356.3" cy="254.8" r="2.3" fill="#00f" stroke="#8a8a9a" stroke-width="0.8"/>
<circle cx="356.4" cy="256.9" r="2.3" fill="#00f" stroke="#8a8a9a" stroke-width="0.8"/>
<circle cx="356.4" cy="259.0" r="2.3" fill="#00f" stroke="#8a8a9a" stroke-width="0.8"/>
<circle cx="356.4" cy="261.1" r="2.3" fill="#00f" stroke="#8a8a9a" stroke-width="0.8"/>
<circle cx="356.5" cy="263.2" r="2.3" fill="#00f" stroke="#8a8a9a" stroke-width="0.8"/>
<circle cx="356.6" cy="265.3" r="2.3" fill="#00f" stroke="#8a8a9a" stroke-width="0.8"/>
<circle cx="356.7" cy="267.4" r="2.3" fill="#00f" stroke="#8a8a9a" stroke-width="0.8"/>
<circle cx="356.8" cy="269.5" r="2.3" fill="#00f" stroke="#8a8a9a" stroke-width="0.8"/>
<circle cx="356.9" cy="271.6" r="2.3" fill="#00f" stroke="#8a8a9a" stroke-width="0.8"/>
<circle cx="356.9" cy="273.7" r="2.3" fill="#00f" stroke="#8a8a9a" stroke-width="0.8"/>
<circle cx="357.1" cy="275.8" r="2.3" fill="#00f" stroke="#8a8a9a" stroke-width="0.8"/>
<circle cx="357.2" cy="277.9" r="2.3" fill="#00f" stroke="#8a8a9a" stroke-width="0.8"/>
<circle cx="357.3" cy="280.0" r="2.3" fill="#00f" stroke="#8a8a9a" stroke-width="0.8"/>
<circle cx="357.5" cy="282.1" r="2.3" fill="#00f" stroke="#8a8a9a" stroke-width="0.8"/>
<circle cx="357.6" cy="284.2" r="2.3" fill="#00f" stroke="#8a8a9a" stroke-width="0.8"/>
<circle cx="357.8" cy="286.3" r="2.3" fill="#00f" stroke="#8a8a9a" stroke-width="0.8"/>
<circle cx="357.9" cy="288.4" r="2.3" fill="#00f" stroke="#8a8a9a" stroke-width="0.8"/>
<circle cx="358.0" cy="290.0" r="2.3" fill="#00f" stroke="#8a8a9a" stroke-width="0.8"/>
<circle cx="356.9" cy="266.3" r="2.3" fill="#8c8c8c" stroke="#7a7a7a" stroke-width="0.6"/>
<circle cx="357.2" cy="272.6" r="2.3" fill="#8c8c8c" stroke="#7a7a7a" stroke-width="0.6"/>
<circle cx="357.5" cy="278.9" r="2.3" fill="#8c8c8c" stroke="#7a7a7a" stroke-width="0.6"/>
<circle cx="357.9" cy="285.2" r="2.3" fill="#8c8c8c" stroke="#7a7a7a" stroke-width="0.6"/>
<circle cx="358.3" cy="291.0" r="2.3" fill="#8c8c8c" stroke="#7a7a7a" stroke-width="0.6"/>
</g>
<line x1="355.9" y1="355.2" x2="355.9" y2="353.0" stroke="#777" stroke-width="0.8"/>
<line x1="355.9" y1="203.6" x2="355.9" y2="205.8" stroke="#777" stroke-width="0.8"/>
<text x="355.1" y="367.2" font-size="9" text-anchor="middle" fill="#222" stroke="#222" stroke-width="0.2">0</text>
<line x1="415.4" y1="355.2" x2="415.4" y2="353.0" stroke="#777" stroke-width="0.8"/>
<line x1="415.4" y1="203.6" x2="415.4" y2="205.8" stroke="#777" stroke-width="0.8"/>
<text x="413.5" y="367.2" font-size="9" text-anchor="middle" fill="#222" stroke="#222" stroke-width="0.2">100</text>
<line x1="474.9" y1="355.2" x2="474.9" y2="353.0" stroke="#777" stroke-width="0.8"/>
<line x1="474.9" y1="203.6" x2="474.9" y2="205.8" stroke="#777" stroke-width="0.8"/>
<text x="473.0" y="367.2" font-size="9" text-anchor="middle" fill="#222" stroke="#222" stroke-width="0.2">200</text>
<line x1="534.4" y1="355.2" x2="534.4" y2="353.0" stroke="#777" stroke-width="0.8"/>
<line x1="534.4" y1="203.6" x2="534.4" y2="205.8" stroke="#777" stroke-width="0.8"/>
<text x="532.5" y="367.2" font-size="9" text-anchor="middle" fill="#222" stroke="#222" stroke-width="0.2">300</text>
<line x1="593.9" y1="355.2" x2="593.9" y2="353.0" stroke="#777" stroke-width="0.8"/>
<line x1="593.9" y1="203.6" x2="593.9" y2="205.8" stroke="#777" stroke-width="0.8"/>
<text x="592.0" y="367.2" font-size="9" text-anchor="middle" fill="#222" stroke="#222" stroke-width="0.2">400</text>
<text x="346.1" y="360.0" font-size="9" text-anchor="end" fill="#222" stroke="#222" stroke-width="0.18">10</text>
<text x="348.7" y="355.9" font-size="7.0" fill="#222" stroke="#222" stroke-width="0.25">0</text>
<line x1="605.3" y1="346.1" x2="603.7" y2="346.1" stroke="#777" stroke-width="0.7"/>
<line x1="356.0" y1="346.1" x2="357.6" y2="346.1" stroke="#777" stroke-width="0.7"/>
<line x1="605.3" y1="340.7" x2="603.7" y2="340.7" stroke="#777" stroke-width="0.7"/>
<line x1="356.0" y1="340.7" x2="357.6" y2="340.7" stroke="#777" stroke-width="0.7"/>
<line x1="605.3" y1="336.9" x2="603.7" y2="336.9" stroke="#777" stroke-width="0.7"/>
<line x1="356.0" y1="336.9" x2="357.6" y2="336.9" stroke="#777" stroke-width="0.7"/>
<line x1="605.3" y1="334.0" x2="603.7" y2="334.0" stroke="#777" stroke-width="0.7"/>
<line x1="356.0" y1="334.0" x2="357.6" y2="334.0" stroke="#777" stroke-width="0.7"/>
<line x1="605.3" y1="331.6" x2="603.7" y2="331.6" stroke="#777" stroke-width="0.7"/>
<line x1="356.0" y1="331.6" x2="357.6" y2="331.6" stroke="#777" stroke-width="0.7"/>
<line x1="605.3" y1="329.6" x2="603.7" y2="329.6" stroke="#777" stroke-width="0.7"/>
<line x1="356.0" y1="329.6" x2="357.6" y2="329.6" stroke="#777" stroke-width="0.7"/>
<line x1="605.3" y1="327.8" x2="603.7" y2="327.8" stroke="#777" stroke-width="0.7"/>
<line x1="356.0" y1="327.8" x2="357.6" y2="327.8" stroke="#777" stroke-width="0.7"/>
<line x1="605.3" y1="326.3" x2="603.7" y2="326.3" stroke="#777" stroke-width="0.7"/>
<line x1="356.0" y1="326.3" x2="357.6" y2="326.3" stroke="#777" stroke-width="0.7"/>
<line x1="605.3" y1="355.2" x2="602.8" y2="355.2" stroke="#777" stroke-width="0.8"/>
<line x1="356.0" y1="355.2" x2="358.5" y2="355.2" stroke="#777" stroke-width="0.8"/>
<text x="346.1" y="329.7" font-size="9" text-anchor="end" fill="#222" stroke="#222" stroke-width="0.18">10</text>
<text x="348.7" y="325.6" font-size="7.0" fill="#222" stroke="#222" stroke-width="0.25">1</text>
<line x1="605.3" y1="315.8" x2="603.7" y2="315.8" stroke="#777" stroke-width="0.7"/>
<line x1="356.0" y1="315.8" x2="357.6" y2="315.8" stroke="#777" stroke-width="0.7"/>
<line x1="605.3" y1="310.4" x2="603.7" y2="310.4" stroke="#777" stroke-width="0.7"/>
<line x1="356.0" y1="310.4" x2="357.6" y2="310.4" stroke="#777" stroke-width="0.7"/>
<line x1="605.3" y1="306.6" x2="603.7" y2="306.6" stroke="#777" stroke-width="0.7"/>
<line x1="356.0" y1="306.6" x2="357.6" y2="306.6" stroke="#777" stroke-width="0.7"/>
<line x1="605.3" y1="303.7" x2="603.7" y2="303.7" stroke="#777" stroke-width="0.7"/>
<line x1="356.0" y1="303.7" x2="357.6" y2="303.7" stroke="#777" stroke-width="0.7"/>
<line x1="605.3" y1="301.3" x2="603.7" y2="301.3" stroke="#777" stroke-width="0.7"/>
<line x1="356.0" y1="301.3" x2="357.6" y2="301.3" stroke="#777" stroke-width="0.7"/>
<line x1="605.3" y1="299.3" x2="603.7" y2="299.3" stroke="#777" stroke-width="0.7"/>
<line x1="356.0" y1="299.3" x2="357.6" y2="299.3" stroke="#777" stroke-width="0.7"/>
<line x1="605.3" y1="297.5" x2="603.7" y2="297.5" stroke="#777" stroke-width="0.7"/>
<line x1="356.0" y1="297.5" x2="357.6" y2="297.5" stroke="#777" stroke-width="0.7"/>
<line x1="605.3" y1="295.9" x2="603.7" y2="295.9" stroke="#777" stroke-width="0.7"/>
<line x1="356.0" y1="295.9" x2="357.6" y2="295.9" stroke="#777" stroke-width="0.7"/>
<line x1="605.3" y1="324.9" x2="602.8" y2="324.9" stroke="#777" stroke-width="0.8"/>
<line x1="356.0" y1="324.9" x2="358.5" y2="324.9" stroke="#777" stroke-width="0.8"/>
<text x="346.1" y="299.4" font-size="9" text-anchor="end" fill="#222" stroke="#222" stroke-width="0.18">10</text>
<text x="348.7" y="295.3" font-size="7.0" fill="#222" stroke="#222" stroke-width="0.25">2</text>
<line x1="605.3" y1="285.4" x2="603.7" y2="285.4" stroke="#777" stroke-width="0.7"/>
<line x1="356.0" y1="285.4" x2="357.6" y2="285.4" stroke="#777" stroke-width="0.7"/>
<line x1="605.3" y1="280.1" x2="603.7" y2="280.1" stroke="#777" stroke-width="0.7"/>
<line x1="356.0" y1="280.1" x2="357.6" y2="280.1" stroke="#777" stroke-width="0.7"/>
<line x1="605.3" y1="276.3" x2="603.7" y2="276.3" stroke="#777" stroke-width="0.7"/>
<line x1="356.0" y1="276.3" x2="357.6" y2="276.3" stroke="#777" stroke-width="0.7"/>
<line x1="605.3" y1="273.4" x2="603.7" y2="273.4" stroke="#777" stroke-width="0.7"/>
<line x1="356.0" y1="273.4" x2="357.6" y2="273.4" stroke="#777" stroke-width="0.7"/>
<line x1="605.3" y1="271.0" x2="603.7" y2="271.0" stroke="#777" stroke-width="0.7"/>
<line x1="356.0" y1="271.0" x2="357.6" y2="271.0" stroke="#777" stroke-width="0.7"/>
<line x1="605.3" y1="268.9" x2="603.7" y2="268.9" stroke="#777" stroke-width="0.7"/>
<line x1="356.0" y1="268.9" x2="357.6" y2="268.9" stroke="#777" stroke-width="0.7"/>
<line x1="605.3" y1="267.2" x2="603.7" y2="267.2" stroke="#777" stroke-width="0.7"/>
<line x1="356.0" y1="267.2" x2="357.6" y2="267.2" stroke="#777" stroke-width="0.7"/>
<line x1="605.3" y1="265.6" x2="603.7" y2="265.6" stroke="#777" stroke-width="0.7"/>
<line x1="356.0" y1="265.6" x2="357.6" y2="265.6" stroke="#777" stroke-width="0.7"/>
<line x1="605.3" y1="294.6" x2="602.8" y2="294.6" stroke="#777" stroke-width="0.8"/>
<line x1="356.0" y1="294.6" x2="358.5" y2="294.6" stroke="#777" stroke-width="0.8"/>
<text x="346.1" y="269.0" font-size="9" text-anchor="end" fill="#222" stroke="#222" stroke-width="0.18">10</text>
<text x="348.7" y="264.9" font-size="7.0" fill="#222" stroke="#222" stroke-width="0.25">3</text>
<line x1="605.3" y1="255.1" x2="603.7" y2="255.1" stroke="#777" stroke-width="0.7"/>
<line x1="356.0" y1="255.1" x2="357.6" y2="255.1" stroke="#777" stroke-width="0.7"/>
<line x1="605.3" y1="249.8" x2="603.7" y2="249.8" stroke="#777" stroke-width="0.7"/>
<line x1="356.0" y1="249.8" x2="357.6" y2="249.8" stroke="#777" stroke-width="0.7"/>
<line x1="605.3" y1="246.0" x2="603.7" y2="246.0" stroke="#777" stroke-width="0.7"/>
<line x1="356.0" y1="246.0" x2="357.6" y2="246.0" stroke="#777" stroke-width="0.7"/>
<line x1="605.3" y1="243.0" x2="603.7" y2="243.0" stroke="#777" stroke-width="0.7"/>
<line x1="356.0" y1="243.0" x2="357.6" y2="243.0" stroke="#777" stroke-width="0.7"/>
<line x1="605.3" y1="240.6" x2="603.7" y2="240.6" stroke="#777" stroke-width="0.7"/>
<line x1="356.0" y1="240.6" x2="357.6" y2="240.6" stroke="#777" stroke-width="0.7"/>
<line x1="605.3" y1="238.6" x2="603.7" y2="238.6" stroke="#777" stroke-width="0.7"/>
<line x1="356.0" y1="238.6" x2="357.6" y2="238.6" stroke="#777" stroke-width="0.7"/>
<line x1="605.3" y1="236.9" x2="603.7" y2="236.9" stroke="#777" stroke-width="0.7"/>
<line x1="356.0" y1="236.9" x2="357.6" y2="236.9" stroke="#777" stroke-width="0.7"/>
<line x1="605.3" y1="235.3" x2="603.7" y2="235.3" stroke="#777" stroke-width="0.7"/>
<line x1="356.0" y1="235.3" x2="357.6" y2="235.3" stroke="#777" stroke-width="0.7"/>
<line x1="605.3" y1="264.2" x2="602.8" y2="264.2" stroke="#777" stroke-width="0.8"/>
<line x1="356.0" y1="264.2" x2="358.5" y2="264.2" stroke="#777" stroke-width="0.8"/>
<text x="346.1" y="238.7" font-size="9" text-anchor="end" fill="#222" stroke="#222" stroke-width="0.18">10</text>
<text x="348.7" y="234.6" font-size="7.0" fill="#222" stroke="#222" stroke-width="0.25">4</text>
<line x1="605.3" y1="224.8" x2="603.7" y2="224.8" stroke="#777" stroke-width="0.7"/>
<line x1="356.0" y1="224.8" x2="357.6" y2="224.8" stroke="#777" stroke-width="0.7"/>
<line x1="605.3" y1="219.5" x2="603.7" y2="219.5" stroke="#777" stroke-width="0.7"/>
<line x1="356.0" y1="219.5" x2="357.6" y2="219.5" stroke="#777" stroke-width="0.7"/>
<line x1="605.3" y1="215.7" x2="603.7" y2="215.7" stroke="#777" stroke-width="0.7"/>
<line x1="356.0" y1="215.7" x2="357.6" y2="215.7" stroke="#777" stroke-width="0.7"/>
<line x1="605.3" y1="212.7" x2="603.7" y2="212.7" stroke="#777" stroke-width="0.7"/>
<line x1="356.0" y1="212.7" x2="357.6" y2="212.7" stroke="#777" stroke-width="0.7"/>
<line x1="605.3" y1="210.3" x2="603.7" y2="210.3" stroke="#777" stroke-width="0.7"/>
<line x1="356.0" y1="210.3" x2="357.6" y2="210.3" stroke="#777" stroke-width="0.7"/>
<line x1="605.3" y1="208.3" x2="603.7" y2="208.3" stroke="#777" stroke-width="0.7"/>
<line x1="356.0" y1="208.3" x2="357.6" y2="208.3" stroke="#777" stroke-width="0.7"/>
<line x1="605.3" y1="206.5" x2="603.7" y2="206.5" stroke="#777" stroke-width="0.7"/>
<line x1="356.0" y1="206.5" x2="357.6" y2="206.5" stroke="#777" stroke-width="0.7"/>
<line x1="605.3" y1="205.0" x2="603.7" y2="205.0" stroke="#777" stroke-width="0.7"/>
<line x1="356.0" y1="205.0" x2="357.6" y2="205.0" stroke="#777" stroke-width="0.7"/>
<line x1="605.3" y1="233.9" x2="602.8" y2="233.9" stroke="#777" stroke-width="0.8"/>
<line x1="356.0" y1="233.9" x2="358.5" y2="233.9" stroke="#777" stroke-width="0.8"/>
<text x="346.1" y="208.4" font-size="9" text-anchor="end" fill="#222" stroke="#222" stroke-width="0.18">10</text>
<text x="348.7" y="204.3" font-size="7.0" fill="#222" stroke="#222" stroke-width="0.25">5</text>
<line x1="605.3" y1="203.6" x2="602.8" y2="203.6" stroke="#777" stroke-width="0.8"/>
<line x1="356.0" y1="203.6" x2="358.5" y2="203.6" stroke="#777" stroke-width="0.8"/>
<text transform="translate(328.6,279.5) rotate(-90)" font-size="9.6" text-anchor="middle" dominant-baseline="central" fill="#111" stroke="#111" stroke-width="0.25">Counts</text>
<text x="500.1" y="229.4" font-size="9.8" fill="#111" stroke="#111" stroke-width="0.25">Case(B),t=1000</text>
<rect x="505.1" y="242.3" width="61.9" height="23.2" rx="1.2" fill="#fff" stroke="#808080" stroke-width="0.9"/>
<line x1="509.0" y1="249.2" x2="527.5" y2="249.2" stroke="#bbb" stroke-width="0.7" stroke-dasharray="0.8,0.8"/>
<line x1="509.0" y1="259.8" x2="527.5" y2="259.8" stroke="#bbb" stroke-width="0.7" stroke-dasharray="0.8,0.8"/>
<rect x="516.5" y="247.2" width="4.0" height="4.0" fill="#f00" stroke="#000" stroke-width="0.6"/>
<circle cx="518.5" cy="259.8" r="2.5" fill="#00f" stroke="#7878a0" stroke-width="0.6"/>
<text x="529.7" y="251.8" font-size="7.9" fill="#111" stroke="#111" stroke-width="0.2">ions</text>
<text x="529.7" y="262.4" font-size="7.9" fill="#111" stroke="#111" stroke-width="0.2">electrons</text>
<text x="142.1" y="383.8" font-size="12.4" fill="#111" stroke="#111" stroke-width="0.25">KE(KeV)</text>
<text x="457.7" y="382.6" font-size="12.4" fill="#111" stroke="#111" stroke-width="0.25">KE(KeV)</text>

</svg></body></html>
